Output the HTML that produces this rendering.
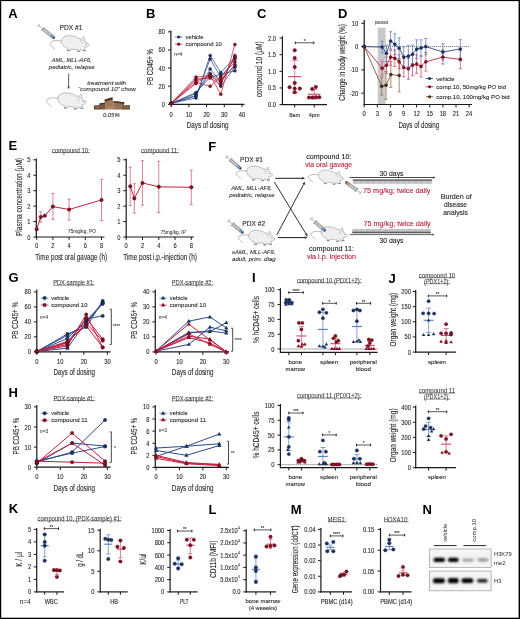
<!DOCTYPE html>
<html><head><meta charset="utf-8"><style>
html,body{margin:0;padding:0;background:#fff;}
svg{display:block;will-change:transform;}
text{font-family:'Liberation Sans', sans-serif;}
</style></head><body>
<svg width="520" height="619" viewBox="0 0 520 619">
<defs>
<pattern id="vh" width="1.2" height="4" patternUnits="userSpaceOnUse"><rect width="0.5" height="4" fill="#555"/></pattern>
<radialGradient id="bandg" cx="0.5" cy="0.5" r="0.5"><stop offset="0" stop-color="#000"/><stop offset="0.55" stop-color="#111"/><stop offset="1" stop-color="#000" stop-opacity="0"/></radialGradient>
<linearGradient id="blotbg" x1="0" y1="0" x2="0" y2="1"><stop offset="0" stop-color="#f8f8f8"/><stop offset="0.5" stop-color="#f0f0f0"/><stop offset="1" stop-color="#f8f8f8"/></linearGradient>
<filter id="blur1" x="-30%" y="-60%" width="160%" height="220%"><feGaussianBlur stdDeviation="1.0"/></filter>
<filter id="blur2" x="-10%" y="-10%" width="120%" height="120%"><feGaussianBlur stdDeviation="0.5"/></filter>
</defs>
<rect width="520" height="619" fill="#fff"/>
<rect x="0" y="0" width="520" height="1.1" fill="#000"/>
<rect x="0" y="0" width="1.2" height="619" fill="#000"/>
<rect x="518.6" y="0" width="1.4" height="619" fill="#000"/>
<rect x="0" y="617.7" width="520" height="1.3" fill="#000"/>
<text x="8.3" y="17.8" font-size="13" text-anchor="start" fill="#000" font-weight="bold" dominant-baseline="alphabetic">A</text>
<text x="146" y="17.8" font-size="13" text-anchor="start" fill="#000" font-weight="bold" dominant-baseline="alphabetic">B</text>
<text x="257" y="17.8" font-size="13" text-anchor="start" fill="#000" font-weight="bold" dominant-baseline="alphabetic">C</text>
<text x="338" y="17.8" font-size="13" text-anchor="start" fill="#000" font-weight="bold" dominant-baseline="alphabetic">D</text>
<text x="8.5" y="150.4" font-size="13" text-anchor="start" fill="#000" font-weight="bold" dominant-baseline="alphabetic">E</text>
<text x="208.3" y="150.6" font-size="13" text-anchor="start" fill="#000" font-weight="bold" dominant-baseline="alphabetic">F</text>
<text x="8.5" y="282" font-size="13" text-anchor="start" fill="#000" font-weight="bold" dominant-baseline="alphabetic">G</text>
<text x="252" y="281.7" font-size="13" text-anchor="start" fill="#000" font-weight="bold" dominant-baseline="alphabetic">I</text>
<text x="388.6" y="282.9" font-size="13" text-anchor="start" fill="#000" font-weight="bold" dominant-baseline="alphabetic">J</text>
<text x="8.5" y="397" font-size="13" text-anchor="start" fill="#000" font-weight="bold" dominant-baseline="alphabetic">H</text>
<text x="8.7" y="513.3" font-size="13" text-anchor="start" fill="#000" font-weight="bold" dominant-baseline="alphabetic">K</text>
<text x="208.5" y="513.6" font-size="13" text-anchor="start" fill="#000" font-weight="bold" dominant-baseline="alphabetic">L</text>
<text x="290.8" y="513.5" font-size="13" text-anchor="start" fill="#000" font-weight="bold" dominant-baseline="alphabetic">M</text>
<text x="422.4" y="513.5" font-size="13" text-anchor="start" fill="#000" font-weight="bold" dominant-baseline="alphabetic">N</text>
<g transform="translate(38.75 25.5) rotate(39.14)"><line x1="0" y1="-1.8" x2="0" y2="1.8" stroke="#c0c0c0" stroke-width="1.3"/><line x1="0" y1="0" x2="5.52" y2="0" stroke="#b0b0b0" stroke-width="0.9"/><line x1="5.52" y1="-2.6" x2="5.52" y2="2.6" stroke="#9a9a9a" stroke-width="0.9"/><rect x="5.72" y="-1.5" width="13.49" height="3" fill="#b4b4b4" stroke="#6e6e6e" stroke-width="0.45"/><line x1="5.72" y1="0" x2="19.21" y2="0" stroke="#e2e2e2" stroke-width="0.6"/><rect x="15.43" y="-1.05" width="3.78" height="2.1" fill="#5096da"/><rect x="19.21" y="-1.2" width="1.23" height="2.4" rx="0.6" fill="#1e1e1e"/></g>
<path d="M61.2,40.77 C61.8,37.29 64.78,35.6 68.27,35.6 C72.25,35.6 75.73,36.6 78.22,38.29 C81.2,38.78 85.68,41.27 89.16,44.75 C88.46,46.25 86.17,47.04 84.68,47.34 L84.58,49.33 L85.98,50.53 L82.99,50.72 L80.5,49.43 L79.81,51.02 L77.22,51.52 L77.52,49.33 C74.73,49.53 71.75,49.33 70.25,48.93 L69.96,50.53 L67.27,50.63 L67.57,48.34 C64.28,47.24 60.8,44.75 61.2,40.77 Z" fill="#efefef" stroke="#858585" stroke-width="0.5"/>
<path d="M81.5,39.38 L83.79,36.7 L84.98,40.48" fill="#efefef" stroke="#858585" stroke-width="0.45"/>
<path d="M80.8,40.18 C80.4,42.07 81.8,43.56 82.99,43.76" fill="none" stroke="#9a9a9a" stroke-width="0.4"/>
<circle cx="85.98" cy="43.96" r="0.5" fill="#555" stroke="none" stroke-width="0.5"/>
<path d="M67.27,50.63 L69.96,50.53" fill="none" stroke="#666" stroke-width="0.7"/>
<path d="M77.22,51.52 L79.81,51.02" fill="none" stroke="#666" stroke-width="0.7"/>
<path d="M82.99,50.72 L85.98,50.53" fill="none" stroke="#666" stroke-width="0.7"/>
<path d="M61.3,40.97 C57.32,39.98 52.34,40.38 50.35,42.57 C49.36,44.26 51.35,46.25 55.03,49.03" fill="none" stroke="#858585" stroke-width="0.55"/>
<text x="71" y="27.8" font-size="6.4" text-anchor="middle" fill="#262626" dominant-baseline="central" textLength="22.9" lengthAdjust="spacingAndGlyphs" stroke="#262626" stroke-width="0.1">PDX #1</text>
<text x="71.7" y="59.4" font-size="6.2" text-anchor="middle" fill="#262626" font-style="italic" dominant-baseline="central" textLength="40" lengthAdjust="spacingAndGlyphs" stroke="#262626" stroke-width="0.07">AML, MLL-AF6,</text>
<text x="71.7" y="66.8" font-size="6.2" text-anchor="middle" fill="#262626" font-style="italic" dominant-baseline="central" textLength="45.8" lengthAdjust="spacingAndGlyphs" stroke="#262626" stroke-width="0.07">pediatric, relapse</text>
<line x1="68.6" y1="73.5" x2="68.6" y2="86.4" stroke="#1a1a1a" stroke-width="0.7"/>
<polygon points="68.6,89 67.51,86.4 69.69,86.4" fill="#1a1a1a"/>
<path d="M57.9,98.1 C58.51,94.53 61.57,92.8 65.14,92.8 C69.22,92.8 72.79,93.82 75.34,95.55 C78.4,96.06 82.99,98.61 86.56,102.18 C85.85,103.71 83.5,104.53 81.97,104.83 L81.87,106.87 L83.3,108.1 L80.24,108.3 L77.69,106.97 L76.97,108.61 L74.32,109.12 L74.63,106.87 C71.77,107.08 68.71,106.87 67.18,106.46 L66.87,108.1 L64.12,108.2 L64.43,105.85 C61.06,104.73 57.49,102.18 57.9,98.1 Z" fill="#efefef" stroke="#858585" stroke-width="0.5"/>
<path d="M78.71,96.67 L81.05,93.92 L82.28,97.79" fill="#efefef" stroke="#858585" stroke-width="0.45"/>
<path d="M77.99,97.49 C77.58,99.43 79.01,100.96 80.24,101.16" fill="none" stroke="#9a9a9a" stroke-width="0.4"/>
<circle cx="83.3" cy="101.36" r="0.51" fill="#555" stroke="none" stroke-width="0.5"/>
<path d="M64.12,108.2 L66.87,108.1" fill="none" stroke="#666" stroke-width="0.7"/>
<path d="M74.32,109.12 L76.97,108.61" fill="none" stroke="#666" stroke-width="0.7"/>
<path d="M80.24,108.3 L83.3,108.1" fill="none" stroke="#666" stroke-width="0.7"/>
<path d="M58,98.3 C53.92,97.28 48.82,97.69 46.78,99.94 C45.76,101.67 47.8,103.71 51.57,106.57" fill="none" stroke="#858585" stroke-width="0.55"/>
<text x="106.7" y="82.5" font-size="6" text-anchor="middle" fill="#262626" font-style="italic" dominant-baseline="central" textLength="38.7" lengthAdjust="spacingAndGlyphs" stroke="#262626" stroke-width="0.07">treatment with</text>
<text x="106.9" y="89.4" font-size="6" text-anchor="middle" fill="#262626" font-style="italic" dominant-baseline="central" textLength="57.8" lengthAdjust="spacingAndGlyphs" stroke="#262626" stroke-width="0.07">“compound 10” chow</text>
<path d="M93.9,105.4 L100.1,105.0 L100.3,109.4 L93.9,109.4 Z" fill="#5e4028" stroke="none" stroke-width="0.6"/>
<path d="M94.8,106.3 L99.4,106.1 L99.5,108.6 L94.8,108.6 Z" fill="#8a6a4a" stroke="none" stroke-width="0.6"/>
<path d="M99.5,103.6 L105.5,102.4 L105.9,109.4 L99.7,109.4 Z" fill="#7a5a3c" stroke="none" stroke-width="0.6"/>
<path d="M99.5,103.6 L105.5,102.4 L105.6,103.8 L99.6,104.9 Z" fill="#4e3220" stroke="none" stroke-width="0.6"/>
<path d="M113.3,100.9 L124.3,102.2 L123.8,109.4 L113.6,109.4 Z" fill="#927254" stroke="none" stroke-width="0.6"/>
<path d="M113.3,100.9 L124.3,102.2 L124.2,103.9 L113.4,102.6 Z" fill="#553820" stroke="none" stroke-width="0.6"/>
<path d="M105.9,105.2 L114.5,104.6 L114.8,109.4 L105.9,109.4 Z" fill="#a88868" stroke="none" stroke-width="0.6"/>
<path d="M104.5,99.8 L112.4,97.3 L113.5,105.6 L106.0,107.6 Z" fill="#9a7a5a" stroke="none" stroke-width="0.6"/>
<path d="M104.5,99.8 L112.4,97.3 L112.7,99.3 L104.9,101.7 Z" fill="#4a3018" stroke="none" stroke-width="0.6"/>
<path d="M122.6,105.4 L129.7,105.0 L129.9,109.4 L122.6,109.4 Z" fill="#604228" stroke="none" stroke-width="0.6"/>
<path d="M123.4,106.3 L129.0,106.1 L129.1,108.6 L123.4,108.6 Z" fill="#866646" stroke="none" stroke-width="0.6"/>
<text x="111.3" y="114.2" font-size="6.2" text-anchor="middle" fill="#262626" font-style="italic" dominant-baseline="central" textLength="16.7" lengthAdjust="spacingAndGlyphs" stroke="#262626" stroke-width="0.07">0.05%</text>
<line x1="170.9" y1="30.5" x2="170.9" y2="104.8" stroke="#1a1a1a" stroke-width="1.2"/>
<line x1="168" y1="104.3" x2="170.9" y2="104.3" stroke="#1a1a1a" stroke-width="1"/>
<text x="165" y="104.3" font-size="6.8" text-anchor="end" fill="#262626" dominant-baseline="central" textLength="3.21" lengthAdjust="spacingAndGlyphs" stroke="#262626" stroke-width="0.1">0</text>
<line x1="168" y1="86.18" x2="170.9" y2="86.18" stroke="#1a1a1a" stroke-width="1"/>
<text x="165" y="86.18" font-size="6.8" text-anchor="end" fill="#262626" dominant-baseline="central" textLength="6.43" lengthAdjust="spacingAndGlyphs" stroke="#262626" stroke-width="0.1">20</text>
<line x1="168" y1="68.06" x2="170.9" y2="68.06" stroke="#1a1a1a" stroke-width="1"/>
<text x="165" y="68.06" font-size="6.8" text-anchor="end" fill="#262626" dominant-baseline="central" textLength="6.43" lengthAdjust="spacingAndGlyphs" stroke="#262626" stroke-width="0.1">40</text>
<line x1="168" y1="49.94" x2="170.9" y2="49.94" stroke="#1a1a1a" stroke-width="1"/>
<text x="165" y="49.94" font-size="6.8" text-anchor="end" fill="#262626" dominant-baseline="central" textLength="6.43" lengthAdjust="spacingAndGlyphs" stroke="#262626" stroke-width="0.1">60</text>
<line x1="168" y1="31.82" x2="170.9" y2="31.82" stroke="#1a1a1a" stroke-width="1"/>
<text x="165" y="31.82" font-size="6.8" text-anchor="end" fill="#262626" dominant-baseline="central" textLength="6.43" lengthAdjust="spacingAndGlyphs" stroke="#262626" stroke-width="0.1">80</text>
<line x1="170.35" y1="104.3" x2="244.5" y2="104.3" stroke="#1a1a1a" stroke-width="1.2"/>
<line x1="171.2" y1="104.3" x2="171.2" y2="107.2" stroke="#1a1a1a" stroke-width="1"/>
<text x="171.2" y="114.1" font-size="6.8" text-anchor="middle" fill="#262626" dominant-baseline="central" textLength="3.21" lengthAdjust="spacingAndGlyphs" stroke="#262626" stroke-width="0.1">0</text>
<line x1="188.9" y1="104.3" x2="188.9" y2="107.2" stroke="#1a1a1a" stroke-width="1"/>
<text x="188.9" y="114.1" font-size="6.8" text-anchor="middle" fill="#262626" dominant-baseline="central" textLength="6.43" lengthAdjust="spacingAndGlyphs" stroke="#262626" stroke-width="0.1">10</text>
<line x1="206.6" y1="104.3" x2="206.6" y2="107.2" stroke="#1a1a1a" stroke-width="1"/>
<text x="206.6" y="114.1" font-size="6.8" text-anchor="middle" fill="#262626" dominant-baseline="central" textLength="6.43" lengthAdjust="spacingAndGlyphs" stroke="#262626" stroke-width="0.1">20</text>
<line x1="224.3" y1="104.3" x2="224.3" y2="107.2" stroke="#1a1a1a" stroke-width="1"/>
<text x="224.3" y="114.1" font-size="6.8" text-anchor="middle" fill="#262626" dominant-baseline="central" textLength="6.43" lengthAdjust="spacingAndGlyphs" stroke="#262626" stroke-width="0.1">30</text>
<line x1="242" y1="104.3" x2="242" y2="107.2" stroke="#1a1a1a" stroke-width="1"/>
<text x="242" y="114.1" font-size="6.8" text-anchor="middle" fill="#262626" dominant-baseline="central" textLength="6.43" lengthAdjust="spacingAndGlyphs" stroke="#262626" stroke-width="0.1">40</text>
<text x="207.6" y="125.2" font-size="9.3" text-anchor="middle" fill="#262626" dominant-baseline="central" textLength="41.6" lengthAdjust="spacingAndGlyphs" stroke="#262626" stroke-width="0.1">Days of dosing</text>
<text x="150" y="67" font-size="9.3" text-anchor="middle" fill="#262626" dominant-baseline="central" textLength="36" lengthAdjust="spacingAndGlyphs" transform="rotate(-90 150 67)" stroke="#262626" stroke-width="0.1">PB CD45+ %</text>
<polyline points="171.2,103.39 195.98,97.96 210.14,55.38 220.76,72.59 234.92,57.19" fill="none" stroke="#2c4a8c" stroke-width="0.75" stroke-linejoin="round"/>
<polyline points="171.2,103.39 195.98,96.15 210.14,59 220.76,77.12 234.92,59" fill="none" stroke="#2c4a8c" stroke-width="0.75" stroke-linejoin="round"/>
<polyline points="171.2,103.39 195.98,95.24 210.14,68.97 220.76,81.65 234.92,64.44" fill="none" stroke="#2c4a8c" stroke-width="0.75" stroke-linejoin="round"/>
<polyline points="171.2,103.39 195.98,93.43 210.14,73.5 220.76,86.18 234.92,67.15" fill="none" stroke="#2c4a8c" stroke-width="0.75" stroke-linejoin="round"/>
<polyline points="171.2,103.39 195.98,92.52 210.14,77.12 220.76,74.4 234.92,70.78" fill="none" stroke="#2c4a8c" stroke-width="0.75" stroke-linejoin="round"/>
<polyline points="171.2,103.39 195.98,77.12 210.14,75.31 220.76,94.33 234.92,44.5" fill="none" stroke="#c21f40" stroke-width="0.75" stroke-linejoin="round"/>
<polyline points="171.2,103.39 195.98,78.93 210.14,78.03 220.76,84.37 234.92,55.38" fill="none" stroke="#c21f40" stroke-width="0.75" stroke-linejoin="round"/>
<polyline points="171.2,103.39 195.98,80.74 210.14,76.21 220.76,81.65 234.92,57.19" fill="none" stroke="#c21f40" stroke-width="0.75" stroke-linejoin="round"/>
<polyline points="171.2,103.39 195.98,82.56 210.14,86.18 220.76,77.12 234.92,61.72" fill="none" stroke="#c21f40" stroke-width="0.75" stroke-linejoin="round"/>
<polyline points="171.2,103.39 195.98,83.46 210.14,74.4 220.76,79.84 234.92,66.25" fill="none" stroke="#c21f40" stroke-width="0.75" stroke-linejoin="round"/>
<circle cx="171.2" cy="103.39" r="1.5" fill="#1d3566" stroke="#0e1a38" stroke-width="0.4"/>
<circle cx="195.98" cy="97.96" r="1.5" fill="#1d3566" stroke="#0e1a38" stroke-width="0.4"/>
<circle cx="210.14" cy="55.38" r="1.5" fill="#1d3566" stroke="#0e1a38" stroke-width="0.4"/>
<circle cx="220.76" cy="72.59" r="1.5" fill="#1d3566" stroke="#0e1a38" stroke-width="0.4"/>
<circle cx="234.92" cy="57.19" r="1.5" fill="#1d3566" stroke="#0e1a38" stroke-width="0.4"/>
<circle cx="171.2" cy="103.39" r="1.5" fill="#1d3566" stroke="#0e1a38" stroke-width="0.4"/>
<circle cx="195.98" cy="96.15" r="1.5" fill="#1d3566" stroke="#0e1a38" stroke-width="0.4"/>
<circle cx="210.14" cy="59" r="1.5" fill="#1d3566" stroke="#0e1a38" stroke-width="0.4"/>
<circle cx="220.76" cy="77.12" r="1.5" fill="#1d3566" stroke="#0e1a38" stroke-width="0.4"/>
<circle cx="234.92" cy="59" r="1.5" fill="#1d3566" stroke="#0e1a38" stroke-width="0.4"/>
<circle cx="171.2" cy="103.39" r="1.5" fill="#1d3566" stroke="#0e1a38" stroke-width="0.4"/>
<circle cx="195.98" cy="95.24" r="1.5" fill="#1d3566" stroke="#0e1a38" stroke-width="0.4"/>
<circle cx="210.14" cy="68.97" r="1.5" fill="#1d3566" stroke="#0e1a38" stroke-width="0.4"/>
<circle cx="220.76" cy="81.65" r="1.5" fill="#1d3566" stroke="#0e1a38" stroke-width="0.4"/>
<circle cx="234.92" cy="64.44" r="1.5" fill="#1d3566" stroke="#0e1a38" stroke-width="0.4"/>
<circle cx="171.2" cy="103.39" r="1.5" fill="#1d3566" stroke="#0e1a38" stroke-width="0.4"/>
<circle cx="195.98" cy="93.43" r="1.5" fill="#1d3566" stroke="#0e1a38" stroke-width="0.4"/>
<circle cx="210.14" cy="73.5" r="1.5" fill="#1d3566" stroke="#0e1a38" stroke-width="0.4"/>
<circle cx="220.76" cy="86.18" r="1.5" fill="#1d3566" stroke="#0e1a38" stroke-width="0.4"/>
<circle cx="234.92" cy="67.15" r="1.5" fill="#1d3566" stroke="#0e1a38" stroke-width="0.4"/>
<circle cx="171.2" cy="103.39" r="1.5" fill="#1d3566" stroke="#0e1a38" stroke-width="0.4"/>
<circle cx="195.98" cy="92.52" r="1.5" fill="#1d3566" stroke="#0e1a38" stroke-width="0.4"/>
<circle cx="210.14" cy="77.12" r="1.5" fill="#1d3566" stroke="#0e1a38" stroke-width="0.4"/>
<circle cx="220.76" cy="74.4" r="1.5" fill="#1d3566" stroke="#0e1a38" stroke-width="0.4"/>
<circle cx="234.92" cy="70.78" r="1.5" fill="#1d3566" stroke="#0e1a38" stroke-width="0.4"/>
<circle cx="171.2" cy="103.39" r="1.5" fill="#8a1024" stroke="#4a0610" stroke-width="0.4"/>
<circle cx="195.98" cy="77.12" r="1.5" fill="#8a1024" stroke="#4a0610" stroke-width="0.4"/>
<circle cx="210.14" cy="75.31" r="1.5" fill="#8a1024" stroke="#4a0610" stroke-width="0.4"/>
<circle cx="220.76" cy="94.33" r="1.5" fill="#8a1024" stroke="#4a0610" stroke-width="0.4"/>
<circle cx="234.92" cy="44.5" r="1.5" fill="#8a1024" stroke="#4a0610" stroke-width="0.4"/>
<circle cx="171.2" cy="103.39" r="1.5" fill="#8a1024" stroke="#4a0610" stroke-width="0.4"/>
<circle cx="195.98" cy="78.93" r="1.5" fill="#8a1024" stroke="#4a0610" stroke-width="0.4"/>
<circle cx="210.14" cy="78.03" r="1.5" fill="#8a1024" stroke="#4a0610" stroke-width="0.4"/>
<circle cx="220.76" cy="84.37" r="1.5" fill="#8a1024" stroke="#4a0610" stroke-width="0.4"/>
<circle cx="234.92" cy="55.38" r="1.5" fill="#8a1024" stroke="#4a0610" stroke-width="0.4"/>
<circle cx="171.2" cy="103.39" r="1.5" fill="#8a1024" stroke="#4a0610" stroke-width="0.4"/>
<circle cx="195.98" cy="80.74" r="1.5" fill="#8a1024" stroke="#4a0610" stroke-width="0.4"/>
<circle cx="210.14" cy="76.21" r="1.5" fill="#8a1024" stroke="#4a0610" stroke-width="0.4"/>
<circle cx="220.76" cy="81.65" r="1.5" fill="#8a1024" stroke="#4a0610" stroke-width="0.4"/>
<circle cx="234.92" cy="57.19" r="1.5" fill="#8a1024" stroke="#4a0610" stroke-width="0.4"/>
<circle cx="171.2" cy="103.39" r="1.5" fill="#8a1024" stroke="#4a0610" stroke-width="0.4"/>
<circle cx="195.98" cy="82.56" r="1.5" fill="#8a1024" stroke="#4a0610" stroke-width="0.4"/>
<circle cx="210.14" cy="86.18" r="1.5" fill="#8a1024" stroke="#4a0610" stroke-width="0.4"/>
<circle cx="220.76" cy="77.12" r="1.5" fill="#8a1024" stroke="#4a0610" stroke-width="0.4"/>
<circle cx="234.92" cy="61.72" r="1.5" fill="#8a1024" stroke="#4a0610" stroke-width="0.4"/>
<circle cx="171.2" cy="103.39" r="1.5" fill="#8a1024" stroke="#4a0610" stroke-width="0.4"/>
<circle cx="195.98" cy="83.46" r="1.5" fill="#8a1024" stroke="#4a0610" stroke-width="0.4"/>
<circle cx="210.14" cy="74.4" r="1.5" fill="#8a1024" stroke="#4a0610" stroke-width="0.4"/>
<circle cx="220.76" cy="79.84" r="1.5" fill="#8a1024" stroke="#4a0610" stroke-width="0.4"/>
<circle cx="234.92" cy="66.25" r="1.5" fill="#8a1024" stroke="#4a0610" stroke-width="0.4"/>
<line x1="175" y1="37" x2="182.4" y2="37" stroke="#5f80c2" stroke-width="0.9"/>
<circle cx="178.7" cy="37" r="1.6" fill="#1d3566" stroke="none" stroke-width="0.5"/>
<line x1="175" y1="44.2" x2="182.4" y2="44.2" stroke="#cc5270" stroke-width="0.9"/>
<circle cx="178.7" cy="44.2" r="1.6" fill="#8a1024" stroke="none" stroke-width="0.5"/>
<text x="185.6" y="37" font-size="6" text-anchor="start" fill="#262626" dominant-baseline="central" textLength="17.8" lengthAdjust="spacingAndGlyphs" stroke="#262626" stroke-width="0.1">vehicle</text>
<text x="185.6" y="44.2" font-size="6" text-anchor="start" fill="#262626" dominant-baseline="central" textLength="36.2" lengthAdjust="spacingAndGlyphs" stroke="#262626" stroke-width="0.1">compound 10</text>
<text x="174.3" y="54.6" font-size="4.6" text-anchor="start" fill="#444" dominant-baseline="central" textLength="8" lengthAdjust="spacingAndGlyphs" stroke="#444" stroke-width="0.1">n=4</text>
<line x1="282.4" y1="36.2" x2="282.4" y2="105.1" stroke="#1a1a1a" stroke-width="1.2"/>
<line x1="279.5" y1="104.6" x2="282.4" y2="104.6" stroke="#1a1a1a" stroke-width="1"/>
<text x="276" y="104.6" font-size="6.8" text-anchor="end" fill="#262626" dominant-baseline="central" textLength="8.04" lengthAdjust="spacingAndGlyphs" stroke="#262626" stroke-width="0.1">0.0</text>
<line x1="279.5" y1="87.95" x2="282.4" y2="87.95" stroke="#1a1a1a" stroke-width="1"/>
<text x="276" y="87.95" font-size="6.8" text-anchor="end" fill="#262626" dominant-baseline="central" textLength="8.04" lengthAdjust="spacingAndGlyphs" stroke="#262626" stroke-width="0.1">0.5</text>
<line x1="279.5" y1="71.3" x2="282.4" y2="71.3" stroke="#1a1a1a" stroke-width="1"/>
<text x="276" y="71.3" font-size="6.8" text-anchor="end" fill="#262626" dominant-baseline="central" textLength="8.04" lengthAdjust="spacingAndGlyphs" stroke="#262626" stroke-width="0.1">1.0</text>
<line x1="279.5" y1="54.65" x2="282.4" y2="54.65" stroke="#1a1a1a" stroke-width="1"/>
<text x="276" y="54.65" font-size="6.8" text-anchor="end" fill="#262626" dominant-baseline="central" textLength="8.04" lengthAdjust="spacingAndGlyphs" stroke="#262626" stroke-width="0.1">1.5</text>
<line x1="279.5" y1="38" x2="282.4" y2="38" stroke="#1a1a1a" stroke-width="1"/>
<text x="276" y="38" font-size="6.8" text-anchor="end" fill="#262626" dominant-baseline="central" textLength="8.04" lengthAdjust="spacingAndGlyphs" stroke="#262626" stroke-width="0.1">2.0</text>
<line x1="281.85" y1="104.6" x2="327" y2="104.6" stroke="#1a1a1a" stroke-width="1.2"/>
<line x1="294.7" y1="104.6" x2="294.7" y2="107.5" stroke="#1a1a1a" stroke-width="1"/>
<line x1="314.2" y1="104.6" x2="314.2" y2="107.5" stroke="#1a1a1a" stroke-width="1"/>
<text x="294.7" y="114.3" font-size="6.2" text-anchor="middle" fill="#262626" dominant-baseline="central" textLength="10.85" lengthAdjust="spacingAndGlyphs" stroke="#262626" stroke-width="0.1">8am</text>
<text x="314.2" y="114.3" font-size="6.2" text-anchor="middle" fill="#262626" dominant-baseline="central" textLength="10.85" lengthAdjust="spacingAndGlyphs" stroke="#262626" stroke-width="0.1">4pm</text>
<text x="259.2" y="69.2" font-size="9.3" text-anchor="middle" fill="#262626" dominant-baseline="central" textLength="56" lengthAdjust="spacingAndGlyphs" transform="rotate(-90 259.2 69.2)" stroke="#262626" stroke-width="0.1">compound 10 (μM)</text>
<line x1="294.7" y1="60.31" x2="294.7" y2="92.94" stroke="#cc5270" stroke-width="0.7"/>
<line x1="291.5" y1="60.31" x2="297.9" y2="60.31" stroke="#cc5270" stroke-width="0.7"/>
<line x1="291.5" y1="92.94" x2="297.9" y2="92.94" stroke="#cc5270" stroke-width="0.7"/>
<line x1="288" y1="76.63" x2="301.2" y2="76.63" stroke="#cc5270" stroke-width="1.2"/>
<circle cx="294.7" cy="50.32" r="1.75" fill="#8a1024" stroke="#3a0008" stroke-width="0.4"/>
<circle cx="294.7" cy="57.98" r="1.75" fill="#8a1024" stroke="#3a0008" stroke-width="0.4"/>
<circle cx="294.7" cy="66.97" r="1.75" fill="#8a1024" stroke="#3a0008" stroke-width="0.4"/>
<circle cx="294.7" cy="82.95" r="1.75" fill="#8a1024" stroke="#3a0008" stroke-width="0.4"/>
<circle cx="289.6" cy="87.28" r="1.75" fill="#8a1024" stroke="#3a0008" stroke-width="0.4"/>
<circle cx="294.7" cy="88.62" r="1.75" fill="#8a1024" stroke="#3a0008" stroke-width="0.4"/>
<circle cx="299.8" cy="88.62" r="1.75" fill="#8a1024" stroke="#3a0008" stroke-width="0.4"/>
<circle cx="294.7" cy="92.28" r="1.75" fill="#8a1024" stroke="#3a0008" stroke-width="0.4"/>
<line x1="314.2" y1="89.61" x2="314.2" y2="98.94" stroke="#cc5270" stroke-width="0.7"/>
<line x1="311" y1="89.61" x2="317.4" y2="89.61" stroke="#cc5270" stroke-width="0.7"/>
<line x1="311" y1="98.94" x2="317.4" y2="98.94" stroke="#cc5270" stroke-width="0.7"/>
<line x1="308" y1="94.28" x2="320.4" y2="94.28" stroke="#cc5270" stroke-width="1.2"/>
<circle cx="315.8" cy="86.95" r="1.75" fill="#8a1024" stroke="#3a0008" stroke-width="0.4"/>
<circle cx="312.2" cy="88.95" r="1.75" fill="#8a1024" stroke="#3a0008" stroke-width="0.4"/>
<circle cx="309" cy="97.61" r="1.75" fill="#8a1024" stroke="#3a0008" stroke-width="0.4"/>
<circle cx="312.4" cy="97.61" r="1.75" fill="#8a1024" stroke="#3a0008" stroke-width="0.4"/>
<circle cx="316" cy="97.27" r="1.75" fill="#8a1024" stroke="#3a0008" stroke-width="0.4"/>
<circle cx="319.3" cy="97.27" r="1.75" fill="#8a1024" stroke="#3a0008" stroke-width="0.4"/>
<line x1="295.3" y1="42.8" x2="313.8" y2="42.8" stroke="#444" stroke-width="0.9"/>
<line x1="295.3" y1="41.5" x2="295.3" y2="44.1" stroke="#222" stroke-width="1"/>
<line x1="313.8" y1="41.5" x2="313.8" y2="44.1" stroke="#222" stroke-width="1"/>
<text x="304.55" y="41.5" font-size="4.6" text-anchor="middle" fill="#333" dominant-baseline="central" stroke="#333" stroke-width="0.1">*</text>
<rect x="377.7" y="27.7" width="7.9" height="76.8" fill="#c9c9cc"/>
<text x="381.6" y="22.9" font-size="4.6" text-anchor="middle" fill="#555" dominant-baseline="central" textLength="13.5" lengthAdjust="spacingAndGlyphs" stroke="#555" stroke-width="0.1">paused</text>
<line x1="364.2" y1="20" x2="364.2" y2="105" stroke="#1a1a1a" stroke-width="1.2"/>
<line x1="361.3" y1="23.3" x2="364.2" y2="23.3" stroke="#1a1a1a" stroke-width="1"/>
<text x="358.3" y="23.3" font-size="6.8" text-anchor="end" fill="#262626" dominant-baseline="central" textLength="6.43" lengthAdjust="spacingAndGlyphs" stroke="#262626" stroke-width="0.1">10</text>
<line x1="361.3" y1="46.6" x2="364.2" y2="46.6" stroke="#1a1a1a" stroke-width="1"/>
<text x="358.3" y="46.6" font-size="6.8" text-anchor="end" fill="#262626" dominant-baseline="central" textLength="3.21" lengthAdjust="spacingAndGlyphs" stroke="#262626" stroke-width="0.1">0</text>
<line x1="361.3" y1="69.9" x2="364.2" y2="69.9" stroke="#1a1a1a" stroke-width="1"/>
<text x="358.3" y="69.9" font-size="6.8" text-anchor="end" fill="#262626" dominant-baseline="central" textLength="8.35" lengthAdjust="spacingAndGlyphs" stroke="#262626" stroke-width="0.1">-10</text>
<line x1="361.3" y1="93.2" x2="364.2" y2="93.2" stroke="#1a1a1a" stroke-width="1"/>
<text x="358.3" y="93.2" font-size="6.8" text-anchor="end" fill="#262626" dominant-baseline="central" textLength="8.35" lengthAdjust="spacingAndGlyphs" stroke="#262626" stroke-width="0.1">-20</text>
<line x1="363.65" y1="104.5" x2="472" y2="104.5" stroke="#1a1a1a" stroke-width="1.2"/>
<line x1="364.2" y1="104.5" x2="364.2" y2="107.4" stroke="#1a1a1a" stroke-width="1"/>
<text x="364.2" y="113.8" font-size="6.8" text-anchor="middle" fill="#262626" dominant-baseline="central" textLength="3.21" lengthAdjust="spacingAndGlyphs" stroke="#262626" stroke-width="0.1">0</text>
<line x1="377.31" y1="104.5" x2="377.31" y2="107.4" stroke="#1a1a1a" stroke-width="1"/>
<text x="377.31" y="113.8" font-size="6.8" text-anchor="middle" fill="#262626" dominant-baseline="central" textLength="3.21" lengthAdjust="spacingAndGlyphs" stroke="#262626" stroke-width="0.1">3</text>
<line x1="390.42" y1="104.5" x2="390.42" y2="107.4" stroke="#1a1a1a" stroke-width="1"/>
<text x="390.42" y="113.8" font-size="6.8" text-anchor="middle" fill="#262626" dominant-baseline="central" textLength="3.21" lengthAdjust="spacingAndGlyphs" stroke="#262626" stroke-width="0.1">6</text>
<line x1="403.53" y1="104.5" x2="403.53" y2="107.4" stroke="#1a1a1a" stroke-width="1"/>
<text x="403.53" y="113.8" font-size="6.8" text-anchor="middle" fill="#262626" dominant-baseline="central" textLength="3.21" lengthAdjust="spacingAndGlyphs" stroke="#262626" stroke-width="0.1">9</text>
<line x1="416.64" y1="104.5" x2="416.64" y2="107.4" stroke="#1a1a1a" stroke-width="1"/>
<text x="416.64" y="113.8" font-size="6.8" text-anchor="middle" fill="#262626" dominant-baseline="central" textLength="6.43" lengthAdjust="spacingAndGlyphs" stroke="#262626" stroke-width="0.1">12</text>
<line x1="429.75" y1="104.5" x2="429.75" y2="107.4" stroke="#1a1a1a" stroke-width="1"/>
<text x="429.75" y="113.8" font-size="6.8" text-anchor="middle" fill="#262626" dominant-baseline="central" textLength="6.43" lengthAdjust="spacingAndGlyphs" stroke="#262626" stroke-width="0.1">15</text>
<line x1="442.86" y1="104.5" x2="442.86" y2="107.4" stroke="#1a1a1a" stroke-width="1"/>
<text x="442.86" y="113.8" font-size="6.8" text-anchor="middle" fill="#262626" dominant-baseline="central" textLength="6.43" lengthAdjust="spacingAndGlyphs" stroke="#262626" stroke-width="0.1">18</text>
<line x1="455.97" y1="104.5" x2="455.97" y2="107.4" stroke="#1a1a1a" stroke-width="1"/>
<text x="455.97" y="113.8" font-size="6.8" text-anchor="middle" fill="#262626" dominant-baseline="central" textLength="6.43" lengthAdjust="spacingAndGlyphs" stroke="#262626" stroke-width="0.1">21</text>
<line x1="469.08" y1="104.5" x2="469.08" y2="107.4" stroke="#1a1a1a" stroke-width="1"/>
<text x="469.08" y="113.8" font-size="6.8" text-anchor="middle" fill="#262626" dominant-baseline="central" textLength="6.43" lengthAdjust="spacingAndGlyphs" stroke="#262626" stroke-width="0.1">24</text>
<text x="418.8" y="125.4" font-size="9.3" text-anchor="middle" fill="#262626" dominant-baseline="central" textLength="40.8" lengthAdjust="spacingAndGlyphs" stroke="#262626" stroke-width="0.1">Days of dosing</text>
<text x="341.9" y="62.5" font-size="9.3" text-anchor="middle" fill="#262626" dominant-baseline="central" textLength="76.7" lengthAdjust="spacingAndGlyphs" transform="rotate(-90 341.9 62.5)" stroke="#262626" stroke-width="0.1">Change in body weight (%)</text>
<line x1="364.2" y1="46.6" x2="469.6" y2="46.6" stroke="#222" stroke-width="0.7" stroke-dasharray="1,1"/>
<line x1="381.68" y1="77.36" x2="381.68" y2="95.06" stroke="#8f7048" stroke-width="0.8"/>
<line x1="380.08" y1="77.36" x2="383.28" y2="77.36" stroke="#8f7048" stroke-width="0.8"/>
<line x1="380.08" y1="95.06" x2="383.28" y2="95.06" stroke="#8f7048" stroke-width="0.8"/>
<line x1="386.05" y1="71.3" x2="386.05" y2="99.26" stroke="#8f7048" stroke-width="0.8"/>
<line x1="384.45" y1="71.3" x2="387.65" y2="71.3" stroke="#8f7048" stroke-width="0.8"/>
<line x1="384.45" y1="99.26" x2="387.65" y2="99.26" stroke="#8f7048" stroke-width="0.8"/>
<line x1="390.86" y1="61.75" x2="390.86" y2="87.38" stroke="#8f7048" stroke-width="0.8"/>
<line x1="389.26" y1="61.75" x2="392.46" y2="61.75" stroke="#8f7048" stroke-width="0.8"/>
<line x1="389.26" y1="87.38" x2="392.46" y2="87.38" stroke="#8f7048" stroke-width="0.8"/>
<line x1="399.16" y1="59.18" x2="399.16" y2="91.8" stroke="#8f7048" stroke-width="0.8"/>
<line x1="397.56" y1="59.18" x2="400.76" y2="59.18" stroke="#8f7048" stroke-width="0.8"/>
<line x1="397.56" y1="91.8" x2="400.76" y2="91.8" stroke="#8f7048" stroke-width="0.8"/>
<line x1="382.12" y1="61.28" x2="382.12" y2="75.26" stroke="#cc5270" stroke-width="0.8"/>
<line x1="380.52" y1="61.28" x2="383.72" y2="61.28" stroke="#cc5270" stroke-width="0.8"/>
<line x1="380.52" y1="75.26" x2="383.72" y2="75.26" stroke="#cc5270" stroke-width="0.8"/>
<line x1="386.49" y1="57.09" x2="386.49" y2="73.4" stroke="#cc5270" stroke-width="0.8"/>
<line x1="384.89" y1="57.09" x2="388.09" y2="57.09" stroke="#cc5270" stroke-width="0.8"/>
<line x1="384.89" y1="73.4" x2="388.09" y2="73.4" stroke="#cc5270" stroke-width="0.8"/>
<line x1="390.64" y1="48.93" x2="390.64" y2="65.24" stroke="#cc5270" stroke-width="0.8"/>
<line x1="389.04" y1="48.93" x2="392.24" y2="48.93" stroke="#cc5270" stroke-width="0.8"/>
<line x1="389.04" y1="65.24" x2="392.24" y2="65.24" stroke="#cc5270" stroke-width="0.8"/>
<line x1="394.79" y1="50.09" x2="394.79" y2="66.41" stroke="#cc5270" stroke-width="0.8"/>
<line x1="393.19" y1="50.09" x2="396.39" y2="50.09" stroke="#cc5270" stroke-width="0.8"/>
<line x1="393.19" y1="66.41" x2="396.39" y2="66.41" stroke="#cc5270" stroke-width="0.8"/>
<line x1="399.16" y1="54.76" x2="399.16" y2="68.73" stroke="#cc5270" stroke-width="0.8"/>
<line x1="397.56" y1="54.76" x2="400.76" y2="54.76" stroke="#cc5270" stroke-width="0.8"/>
<line x1="397.56" y1="68.73" x2="400.76" y2="68.73" stroke="#cc5270" stroke-width="0.8"/>
<line x1="403.75" y1="58.25" x2="403.75" y2="76.89" stroke="#cc5270" stroke-width="0.8"/>
<line x1="402.15" y1="58.25" x2="405.35" y2="58.25" stroke="#cc5270" stroke-width="0.8"/>
<line x1="402.15" y1="76.89" x2="405.35" y2="76.89" stroke="#cc5270" stroke-width="0.8"/>
<line x1="408.34" y1="58.25" x2="408.34" y2="79.22" stroke="#cc5270" stroke-width="0.8"/>
<line x1="406.74" y1="58.25" x2="409.94" y2="58.25" stroke="#cc5270" stroke-width="0.8"/>
<line x1="406.74" y1="79.22" x2="409.94" y2="79.22" stroke="#cc5270" stroke-width="0.8"/>
<line x1="412.49" y1="54.76" x2="412.49" y2="75.72" stroke="#cc5270" stroke-width="0.8"/>
<line x1="410.89" y1="54.76" x2="414.09" y2="54.76" stroke="#cc5270" stroke-width="0.8"/>
<line x1="410.89" y1="75.72" x2="414.09" y2="75.72" stroke="#cc5270" stroke-width="0.8"/>
<line x1="416.64" y1="54.76" x2="416.64" y2="73.4" stroke="#cc5270" stroke-width="0.8"/>
<line x1="415.04" y1="54.76" x2="418.24" y2="54.76" stroke="#cc5270" stroke-width="0.8"/>
<line x1="415.04" y1="73.4" x2="418.24" y2="73.4" stroke="#cc5270" stroke-width="0.8"/>
<line x1="421.01" y1="55.92" x2="421.01" y2="76.89" stroke="#cc5270" stroke-width="0.8"/>
<line x1="419.41" y1="55.92" x2="422.61" y2="55.92" stroke="#cc5270" stroke-width="0.8"/>
<line x1="419.41" y1="76.89" x2="422.61" y2="76.89" stroke="#cc5270" stroke-width="0.8"/>
<line x1="425.82" y1="52.43" x2="425.82" y2="71.06" stroke="#cc5270" stroke-width="0.8"/>
<line x1="424.22" y1="52.43" x2="427.42" y2="52.43" stroke="#cc5270" stroke-width="0.8"/>
<line x1="424.22" y1="71.06" x2="427.42" y2="71.06" stroke="#cc5270" stroke-width="0.8"/>
<line x1="442.86" y1="50.09" x2="442.86" y2="64.08" stroke="#cc5270" stroke-width="0.8"/>
<line x1="441.26" y1="50.09" x2="444.46" y2="50.09" stroke="#cc5270" stroke-width="0.8"/>
<line x1="441.26" y1="64.08" x2="444.46" y2="64.08" stroke="#cc5270" stroke-width="0.8"/>
<line x1="460.34" y1="50.09" x2="460.34" y2="68.73" stroke="#cc5270" stroke-width="0.8"/>
<line x1="458.74" y1="50.09" x2="461.94" y2="50.09" stroke="#cc5270" stroke-width="0.8"/>
<line x1="458.74" y1="68.73" x2="461.94" y2="68.73" stroke="#cc5270" stroke-width="0.8"/>
<line x1="382.12" y1="41.24" x2="382.12" y2="52.89" stroke="#5f80c2" stroke-width="0.8"/>
<line x1="380.52" y1="41.24" x2="383.72" y2="41.24" stroke="#5f80c2" stroke-width="0.8"/>
<line x1="380.52" y1="52.89" x2="383.72" y2="52.89" stroke="#5f80c2" stroke-width="0.8"/>
<line x1="386.49" y1="45.2" x2="386.49" y2="61.51" stroke="#5f80c2" stroke-width="0.8"/>
<line x1="384.89" y1="45.2" x2="388.09" y2="45.2" stroke="#5f80c2" stroke-width="0.8"/>
<line x1="384.89" y1="61.51" x2="388.09" y2="61.51" stroke="#5f80c2" stroke-width="0.8"/>
<line x1="390.64" y1="31.69" x2="390.64" y2="50.33" stroke="#5f80c2" stroke-width="0.8"/>
<line x1="389.04" y1="31.69" x2="392.24" y2="31.69" stroke="#5f80c2" stroke-width="0.8"/>
<line x1="389.04" y1="50.33" x2="392.24" y2="50.33" stroke="#5f80c2" stroke-width="0.8"/>
<line x1="394.79" y1="33.78" x2="394.79" y2="54.76" stroke="#5f80c2" stroke-width="0.8"/>
<line x1="393.19" y1="33.78" x2="396.39" y2="33.78" stroke="#5f80c2" stroke-width="0.8"/>
<line x1="393.19" y1="54.76" x2="396.39" y2="54.76" stroke="#5f80c2" stroke-width="0.8"/>
<line x1="399.16" y1="37.75" x2="399.16" y2="58.72" stroke="#5f80c2" stroke-width="0.8"/>
<line x1="397.56" y1="37.75" x2="400.76" y2="37.75" stroke="#5f80c2" stroke-width="0.8"/>
<line x1="397.56" y1="58.72" x2="400.76" y2="58.72" stroke="#5f80c2" stroke-width="0.8"/>
<line x1="403.75" y1="46.6" x2="403.75" y2="67.57" stroke="#5f80c2" stroke-width="0.8"/>
<line x1="402.15" y1="46.6" x2="405.35" y2="46.6" stroke="#5f80c2" stroke-width="0.8"/>
<line x1="402.15" y1="67.57" x2="405.35" y2="67.57" stroke="#5f80c2" stroke-width="0.8"/>
<line x1="408.34" y1="45.67" x2="408.34" y2="66.64" stroke="#5f80c2" stroke-width="0.8"/>
<line x1="406.74" y1="45.67" x2="409.94" y2="45.67" stroke="#5f80c2" stroke-width="0.8"/>
<line x1="406.74" y1="66.64" x2="409.94" y2="66.64" stroke="#5f80c2" stroke-width="0.8"/>
<line x1="412.49" y1="44.97" x2="412.49" y2="63.61" stroke="#5f80c2" stroke-width="0.8"/>
<line x1="410.89" y1="44.97" x2="414.09" y2="44.97" stroke="#5f80c2" stroke-width="0.8"/>
<line x1="410.89" y1="63.61" x2="414.09" y2="63.61" stroke="#5f80c2" stroke-width="0.8"/>
<line x1="416.64" y1="39.84" x2="416.64" y2="58.48" stroke="#5f80c2" stroke-width="0.8"/>
<line x1="415.04" y1="39.84" x2="418.24" y2="39.84" stroke="#5f80c2" stroke-width="0.8"/>
<line x1="415.04" y1="58.48" x2="418.24" y2="58.48" stroke="#5f80c2" stroke-width="0.8"/>
<line x1="421.01" y1="39.84" x2="421.01" y2="56.15" stroke="#5f80c2" stroke-width="0.8"/>
<line x1="419.41" y1="39.84" x2="422.61" y2="39.84" stroke="#5f80c2" stroke-width="0.8"/>
<line x1="419.41" y1="56.15" x2="422.61" y2="56.15" stroke="#5f80c2" stroke-width="0.8"/>
<line x1="425.82" y1="38.45" x2="425.82" y2="54.76" stroke="#5f80c2" stroke-width="0.8"/>
<line x1="424.22" y1="38.45" x2="427.42" y2="38.45" stroke="#5f80c2" stroke-width="0.8"/>
<line x1="424.22" y1="54.76" x2="427.42" y2="54.76" stroke="#5f80c2" stroke-width="0.8"/>
<line x1="442.86" y1="43.8" x2="442.86" y2="60.11" stroke="#5f80c2" stroke-width="0.8"/>
<line x1="441.26" y1="43.8" x2="444.46" y2="43.8" stroke="#5f80c2" stroke-width="0.8"/>
<line x1="441.26" y1="60.11" x2="444.46" y2="60.11" stroke="#5f80c2" stroke-width="0.8"/>
<line x1="460.34" y1="39.61" x2="460.34" y2="58.25" stroke="#5f80c2" stroke-width="0.8"/>
<line x1="458.74" y1="39.61" x2="461.94" y2="39.61" stroke="#5f80c2" stroke-width="0.8"/>
<line x1="458.74" y1="58.25" x2="461.94" y2="58.25" stroke="#5f80c2" stroke-width="0.8"/>
<polyline points="364.2,46.6 381.68,86.21 386.05,85.28 390.86,74.56 399.16,75.49" fill="none" stroke="#7a5a36" stroke-width="0.9" stroke-linejoin="round"/>
<polyline points="364.2,46.6 382.12,68.27 386.49,65.24 390.64,57.09 394.79,58.25 399.16,61.75 403.75,67.57 408.34,68.73 412.49,65.24 416.64,64.08 421.01,66.41 425.82,61.75 442.86,57.09 460.34,59.42" fill="none" stroke="#c21f40" stroke-width="0.9" stroke-linejoin="round"/>
<polyline points="364.2,46.6 382.12,47.07 386.49,53.36 390.64,41.01 394.79,44.27 399.16,48.23 403.75,57.09 408.34,56.15 412.49,54.29 416.64,49.16 421.01,48 425.82,46.6 442.86,51.96 460.34,48.93" fill="none" stroke="#2c4a8c" stroke-width="0.9" stroke-linejoin="round"/>
<circle cx="364.2" cy="46.6" r="1.55" fill="#4a2e12" stroke="#1e1005" stroke-width="0.35"/>
<circle cx="381.68" cy="86.21" r="1.55" fill="#4a2e12" stroke="#1e1005" stroke-width="0.35"/>
<circle cx="386.05" cy="85.28" r="1.55" fill="#4a2e12" stroke="#1e1005" stroke-width="0.35"/>
<circle cx="390.86" cy="74.56" r="1.55" fill="#4a2e12" stroke="#1e1005" stroke-width="0.35"/>
<circle cx="399.16" cy="75.49" r="1.55" fill="#4a2e12" stroke="#1e1005" stroke-width="0.35"/>
<circle cx="364.2" cy="46.6" r="1.55" fill="#8a1024" stroke="#3a0008" stroke-width="0.35"/>
<circle cx="382.12" cy="68.27" r="1.55" fill="#8a1024" stroke="#3a0008" stroke-width="0.35"/>
<circle cx="386.49" cy="65.24" r="1.55" fill="#8a1024" stroke="#3a0008" stroke-width="0.35"/>
<circle cx="390.64" cy="57.09" r="1.55" fill="#8a1024" stroke="#3a0008" stroke-width="0.35"/>
<circle cx="394.79" cy="58.25" r="1.55" fill="#8a1024" stroke="#3a0008" stroke-width="0.35"/>
<circle cx="399.16" cy="61.75" r="1.55" fill="#8a1024" stroke="#3a0008" stroke-width="0.35"/>
<circle cx="403.75" cy="67.57" r="1.55" fill="#8a1024" stroke="#3a0008" stroke-width="0.35"/>
<circle cx="408.34" cy="68.73" r="1.55" fill="#8a1024" stroke="#3a0008" stroke-width="0.35"/>
<circle cx="412.49" cy="65.24" r="1.55" fill="#8a1024" stroke="#3a0008" stroke-width="0.35"/>
<circle cx="416.64" cy="64.08" r="1.55" fill="#8a1024" stroke="#3a0008" stroke-width="0.35"/>
<circle cx="421.01" cy="66.41" r="1.55" fill="#8a1024" stroke="#3a0008" stroke-width="0.35"/>
<circle cx="425.82" cy="61.75" r="1.55" fill="#8a1024" stroke="#3a0008" stroke-width="0.35"/>
<circle cx="442.86" cy="57.09" r="1.55" fill="#8a1024" stroke="#3a0008" stroke-width="0.35"/>
<circle cx="460.34" cy="59.42" r="1.55" fill="#8a1024" stroke="#3a0008" stroke-width="0.35"/>
<circle cx="364.2" cy="46.6" r="1.55" fill="#1d3566" stroke="#0b1630" stroke-width="0.35"/>
<circle cx="382.12" cy="47.07" r="1.55" fill="#1d3566" stroke="#0b1630" stroke-width="0.35"/>
<circle cx="386.49" cy="53.36" r="1.55" fill="#1d3566" stroke="#0b1630" stroke-width="0.35"/>
<circle cx="390.64" cy="41.01" r="1.55" fill="#1d3566" stroke="#0b1630" stroke-width="0.35"/>
<circle cx="394.79" cy="44.27" r="1.55" fill="#1d3566" stroke="#0b1630" stroke-width="0.35"/>
<circle cx="399.16" cy="48.23" r="1.55" fill="#1d3566" stroke="#0b1630" stroke-width="0.35"/>
<circle cx="403.75" cy="57.09" r="1.55" fill="#1d3566" stroke="#0b1630" stroke-width="0.35"/>
<circle cx="408.34" cy="56.15" r="1.55" fill="#1d3566" stroke="#0b1630" stroke-width="0.35"/>
<circle cx="412.49" cy="54.29" r="1.55" fill="#1d3566" stroke="#0b1630" stroke-width="0.35"/>
<circle cx="416.64" cy="49.16" r="1.55" fill="#1d3566" stroke="#0b1630" stroke-width="0.35"/>
<circle cx="421.01" cy="48" r="1.55" fill="#1d3566" stroke="#0b1630" stroke-width="0.35"/>
<circle cx="425.82" cy="46.6" r="1.55" fill="#1d3566" stroke="#0b1630" stroke-width="0.35"/>
<circle cx="442.86" cy="51.96" r="1.55" fill="#1d3566" stroke="#0b1630" stroke-width="0.35"/>
<circle cx="460.34" cy="48.93" r="1.55" fill="#1d3566" stroke="#0b1630" stroke-width="0.35"/>
<line x1="426" y1="78.5" x2="433.2" y2="78.5" stroke="#2c4a8c" stroke-width="0.9"/>
<circle cx="429.6" cy="78.5" r="1.5" fill="#1d3566" stroke="none" stroke-width="0.5"/>
<text x="436.3" y="78.5" font-size="6.2" text-anchor="start" fill="#262626" dominant-baseline="central" textLength="18.3" lengthAdjust="spacingAndGlyphs" stroke="#262626" stroke-width="0.1">vehicle</text>
<line x1="426" y1="86.7" x2="433.2" y2="86.7" stroke="#c21f40" stroke-width="0.9"/>
<circle cx="429.6" cy="86.7" r="1.5" fill="#8a1024" stroke="none" stroke-width="0.5"/>
<text x="436.3" y="86.7" font-size="6.2" text-anchor="start" fill="#262626" dominant-baseline="central" textLength="69.7" lengthAdjust="spacingAndGlyphs" stroke="#262626" stroke-width="0.1">comp.10, 50mg/kg PO bid</text>
<line x1="426" y1="96.7" x2="433.2" y2="96.7" stroke="#7a5a36" stroke-width="0.9"/>
<circle cx="429.6" cy="96.7" r="1.5" fill="#4a2e12" stroke="none" stroke-width="0.5"/>
<text x="436.3" y="96.7" font-size="6.2" text-anchor="start" fill="#262626" dominant-baseline="central" textLength="73.3" lengthAdjust="spacingAndGlyphs" stroke="#262626" stroke-width="0.1">comp.10, 100mg/kg PO bid</text>
<line x1="36.3" y1="158.5" x2="36.3" y2="237.5" stroke="#1a1a1a" stroke-width="1.2"/>
<line x1="33.4" y1="237" x2="36.3" y2="237" stroke="#1a1a1a" stroke-width="1"/>
<text x="30.4" y="237" font-size="6.8" text-anchor="end" fill="#262626" dominant-baseline="central" textLength="3.21" lengthAdjust="spacingAndGlyphs" stroke="#262626" stroke-width="0.1">0</text>
<line x1="33.4" y1="221.56" x2="36.3" y2="221.56" stroke="#1a1a1a" stroke-width="1"/>
<text x="30.4" y="221.56" font-size="6.8" text-anchor="end" fill="#262626" dominant-baseline="central" textLength="3.21" lengthAdjust="spacingAndGlyphs" stroke="#262626" stroke-width="0.1">1</text>
<line x1="33.4" y1="206.12" x2="36.3" y2="206.12" stroke="#1a1a1a" stroke-width="1"/>
<text x="30.4" y="206.12" font-size="6.8" text-anchor="end" fill="#262626" dominant-baseline="central" textLength="3.21" lengthAdjust="spacingAndGlyphs" stroke="#262626" stroke-width="0.1">2</text>
<line x1="33.4" y1="190.68" x2="36.3" y2="190.68" stroke="#1a1a1a" stroke-width="1"/>
<text x="30.4" y="190.68" font-size="6.8" text-anchor="end" fill="#262626" dominant-baseline="central" textLength="3.21" lengthAdjust="spacingAndGlyphs" stroke="#262626" stroke-width="0.1">3</text>
<line x1="33.4" y1="175.24" x2="36.3" y2="175.24" stroke="#1a1a1a" stroke-width="1"/>
<text x="30.4" y="175.24" font-size="6.8" text-anchor="end" fill="#262626" dominant-baseline="central" textLength="3.21" lengthAdjust="spacingAndGlyphs" stroke="#262626" stroke-width="0.1">4</text>
<line x1="33.4" y1="159.8" x2="36.3" y2="159.8" stroke="#1a1a1a" stroke-width="1"/>
<text x="30.4" y="159.8" font-size="6.8" text-anchor="end" fill="#262626" dominant-baseline="central" textLength="3.21" lengthAdjust="spacingAndGlyphs" stroke="#262626" stroke-width="0.1">5</text>
<line x1="35.75" y1="237" x2="104.5" y2="237" stroke="#1a1a1a" stroke-width="1.2"/>
<line x1="36.7" y1="237" x2="36.7" y2="239.9" stroke="#1a1a1a" stroke-width="1"/>
<text x="36.7" y="245.5" font-size="6.8" text-anchor="middle" fill="#262626" dominant-baseline="central" textLength="3.21" lengthAdjust="spacingAndGlyphs" stroke="#262626" stroke-width="0.1">0</text>
<line x1="52.9" y1="237" x2="52.9" y2="239.9" stroke="#1a1a1a" stroke-width="1"/>
<text x="52.9" y="245.5" font-size="6.8" text-anchor="middle" fill="#262626" dominant-baseline="central" textLength="3.21" lengthAdjust="spacingAndGlyphs" stroke="#262626" stroke-width="0.1">2</text>
<line x1="69.1" y1="237" x2="69.1" y2="239.9" stroke="#1a1a1a" stroke-width="1"/>
<text x="69.1" y="245.5" font-size="6.8" text-anchor="middle" fill="#262626" dominant-baseline="central" textLength="3.21" lengthAdjust="spacingAndGlyphs" stroke="#262626" stroke-width="0.1">4</text>
<line x1="85.3" y1="237" x2="85.3" y2="239.9" stroke="#1a1a1a" stroke-width="1"/>
<text x="85.3" y="245.5" font-size="6.8" text-anchor="middle" fill="#262626" dominant-baseline="central" textLength="3.21" lengthAdjust="spacingAndGlyphs" stroke="#262626" stroke-width="0.1">6</text>
<line x1="101.5" y1="237" x2="101.5" y2="239.9" stroke="#1a1a1a" stroke-width="1"/>
<text x="101.5" y="245.5" font-size="6.8" text-anchor="middle" fill="#262626" dominant-baseline="central" textLength="3.21" lengthAdjust="spacingAndGlyphs" stroke="#262626" stroke-width="0.1">8</text>
<text x="70.9" y="150.1" font-size="6.5" text-anchor="middle" fill="#333" dominant-baseline="central" textLength="37.8" lengthAdjust="spacingAndGlyphs" stroke="#333" stroke-width="0.05">compound 10:</text>
<line x1="52" y1="152.6" x2="89.8" y2="152.6" stroke="#333" stroke-width="0.5"/>
<text x="19.1" y="197" font-size="9.3" text-anchor="middle" fill="#262626" dominant-baseline="central" textLength="78" lengthAdjust="spacingAndGlyphs" transform="rotate(-90 19.1 197)" stroke="#262626" stroke-width="0.1">Plasma concentration (μM)</text>
<text x="71.2" y="257.2" font-size="9.3" text-anchor="middle" fill="#262626" dominant-baseline="central" textLength="71.7" lengthAdjust="spacingAndGlyphs" stroke="#262626" stroke-width="0.1">Time post oral gavage (h)</text>
<text x="82" y="231.3" font-size="4.6" text-anchor="middle" fill="#333" dominant-baseline="central" textLength="27.9" lengthAdjust="spacingAndGlyphs" stroke="#333" stroke-width="0.04">75mg/kg, PO</text>
<line x1="40.75" y1="211.83" x2="40.75" y2="222.02" stroke="#cc5270" stroke-width="0.7"/>
<line x1="39.15" y1="211.83" x2="42.35" y2="211.83" stroke="#cc5270" stroke-width="0.7"/>
<line x1="39.15" y1="222.02" x2="42.35" y2="222.02" stroke="#cc5270" stroke-width="0.7"/>
<line x1="52.9" y1="193.61" x2="52.9" y2="219.55" stroke="#cc5270" stroke-width="0.7"/>
<line x1="51.3" y1="193.61" x2="54.5" y2="193.61" stroke="#cc5270" stroke-width="0.7"/>
<line x1="51.3" y1="219.55" x2="54.5" y2="219.55" stroke="#cc5270" stroke-width="0.7"/>
<line x1="69.1" y1="199.02" x2="69.1" y2="220.02" stroke="#cc5270" stroke-width="0.7"/>
<line x1="67.5" y1="199.02" x2="70.7" y2="199.02" stroke="#cc5270" stroke-width="0.7"/>
<line x1="67.5" y1="220.02" x2="70.7" y2="220.02" stroke="#cc5270" stroke-width="0.7"/>
<line x1="101.5" y1="179.41" x2="101.5" y2="220.48" stroke="#cc5270" stroke-width="0.7"/>
<line x1="99.9" y1="179.41" x2="103.1" y2="179.41" stroke="#cc5270" stroke-width="0.7"/>
<line x1="99.9" y1="220.48" x2="103.1" y2="220.48" stroke="#cc5270" stroke-width="0.7"/>
<polyline points="36.7,229.28 40.75,216.93 44.8,215.69 52.9,206.58 69.1,209.52 101.5,199.94" fill="none" stroke="#c21f40" stroke-width="1" stroke-linejoin="round"/>
<circle cx="36.7" cy="229.28" r="1.75" fill="#8a1024" stroke="#3a0008" stroke-width="0.4"/>
<circle cx="40.75" cy="216.93" r="1.75" fill="#8a1024" stroke="#3a0008" stroke-width="0.4"/>
<circle cx="44.8" cy="215.69" r="1.75" fill="#8a1024" stroke="#3a0008" stroke-width="0.4"/>
<circle cx="52.9" cy="206.58" r="1.75" fill="#8a1024" stroke="#3a0008" stroke-width="0.4"/>
<circle cx="69.1" cy="209.52" r="1.75" fill="#8a1024" stroke="#3a0008" stroke-width="0.4"/>
<circle cx="101.5" cy="199.94" r="1.75" fill="#8a1024" stroke="#3a0008" stroke-width="0.4"/>
<line x1="126.2" y1="158.5" x2="126.2" y2="237.5" stroke="#1a1a1a" stroke-width="1.2"/>
<line x1="123.3" y1="237" x2="126.2" y2="237" stroke="#1a1a1a" stroke-width="1"/>
<text x="120.4" y="237" font-size="6.8" text-anchor="end" fill="#262626" dominant-baseline="central" textLength="3.21" lengthAdjust="spacingAndGlyphs" stroke="#262626" stroke-width="0.1">0</text>
<line x1="123.3" y1="221.56" x2="126.2" y2="221.56" stroke="#1a1a1a" stroke-width="1"/>
<text x="120.4" y="221.56" font-size="6.8" text-anchor="end" fill="#262626" dominant-baseline="central" textLength="3.21" lengthAdjust="spacingAndGlyphs" stroke="#262626" stroke-width="0.1">1</text>
<line x1="123.3" y1="206.12" x2="126.2" y2="206.12" stroke="#1a1a1a" stroke-width="1"/>
<text x="120.4" y="206.12" font-size="6.8" text-anchor="end" fill="#262626" dominant-baseline="central" textLength="3.21" lengthAdjust="spacingAndGlyphs" stroke="#262626" stroke-width="0.1">2</text>
<line x1="123.3" y1="190.68" x2="126.2" y2="190.68" stroke="#1a1a1a" stroke-width="1"/>
<text x="120.4" y="190.68" font-size="6.8" text-anchor="end" fill="#262626" dominant-baseline="central" textLength="3.21" lengthAdjust="spacingAndGlyphs" stroke="#262626" stroke-width="0.1">3</text>
<line x1="123.3" y1="175.24" x2="126.2" y2="175.24" stroke="#1a1a1a" stroke-width="1"/>
<text x="120.4" y="175.24" font-size="6.8" text-anchor="end" fill="#262626" dominant-baseline="central" textLength="3.21" lengthAdjust="spacingAndGlyphs" stroke="#262626" stroke-width="0.1">4</text>
<line x1="123.3" y1="159.8" x2="126.2" y2="159.8" stroke="#1a1a1a" stroke-width="1"/>
<text x="120.4" y="159.8" font-size="6.8" text-anchor="end" fill="#262626" dominant-baseline="central" textLength="3.21" lengthAdjust="spacingAndGlyphs" stroke="#262626" stroke-width="0.1">5</text>
<line x1="125.65" y1="237" x2="193.9" y2="237" stroke="#1a1a1a" stroke-width="1.2"/>
<line x1="126.2" y1="237" x2="126.2" y2="239.9" stroke="#1a1a1a" stroke-width="1"/>
<text x="126.2" y="245.5" font-size="6.8" text-anchor="middle" fill="#262626" dominant-baseline="central" textLength="3.21" lengthAdjust="spacingAndGlyphs" stroke="#262626" stroke-width="0.1">0</text>
<line x1="142.48" y1="237" x2="142.48" y2="239.9" stroke="#1a1a1a" stroke-width="1"/>
<text x="142.48" y="245.5" font-size="6.8" text-anchor="middle" fill="#262626" dominant-baseline="central" textLength="3.21" lengthAdjust="spacingAndGlyphs" stroke="#262626" stroke-width="0.1">2</text>
<line x1="158.76" y1="237" x2="158.76" y2="239.9" stroke="#1a1a1a" stroke-width="1"/>
<text x="158.76" y="245.5" font-size="6.8" text-anchor="middle" fill="#262626" dominant-baseline="central" textLength="3.21" lengthAdjust="spacingAndGlyphs" stroke="#262626" stroke-width="0.1">4</text>
<line x1="175.04" y1="237" x2="175.04" y2="239.9" stroke="#1a1a1a" stroke-width="1"/>
<text x="175.04" y="245.5" font-size="6.8" text-anchor="middle" fill="#262626" dominant-baseline="central" textLength="3.21" lengthAdjust="spacingAndGlyphs" stroke="#262626" stroke-width="0.1">6</text>
<line x1="191.32" y1="237" x2="191.32" y2="239.9" stroke="#1a1a1a" stroke-width="1"/>
<text x="191.32" y="245.5" font-size="6.8" text-anchor="middle" fill="#262626" dominant-baseline="central" textLength="3.21" lengthAdjust="spacingAndGlyphs" stroke="#262626" stroke-width="0.1">8</text>
<text x="160" y="150.1" font-size="6.5" text-anchor="middle" fill="#333" dominant-baseline="central" textLength="37.8" lengthAdjust="spacingAndGlyphs" stroke="#333" stroke-width="0.05">compound 11:</text>
<line x1="141.1" y1="152.6" x2="178.9" y2="152.6" stroke="#333" stroke-width="0.5"/>
<text x="160.1" y="257.2" font-size="9.3" text-anchor="middle" fill="#262626" dominant-baseline="central" textLength="73.8" lengthAdjust="spacingAndGlyphs" stroke="#262626" stroke-width="0.1">Time post i.p.-injection (h)</text>
<text x="173.2" y="232" font-size="4.6" text-anchor="middle" fill="#333" dominant-baseline="central" textLength="25.2" lengthAdjust="spacingAndGlyphs" stroke="#333" stroke-width="0.04">75mg/kg, IP</text>
<line x1="130.27" y1="167.21" x2="130.27" y2="205.5" stroke="#cc5270" stroke-width="0.7"/>
<line x1="128.67" y1="167.21" x2="131.87" y2="167.21" stroke="#cc5270" stroke-width="0.7"/>
<line x1="128.67" y1="205.5" x2="131.87" y2="205.5" stroke="#cc5270" stroke-width="0.7"/>
<line x1="134.34" y1="183.73" x2="134.34" y2="213.07" stroke="#cc5270" stroke-width="0.7"/>
<line x1="132.74" y1="183.73" x2="135.94" y2="183.73" stroke="#cc5270" stroke-width="0.7"/>
<line x1="132.74" y1="213.07" x2="135.94" y2="213.07" stroke="#cc5270" stroke-width="0.7"/>
<line x1="142.48" y1="160.73" x2="142.48" y2="205.19" stroke="#cc5270" stroke-width="0.7"/>
<line x1="140.88" y1="160.73" x2="144.08" y2="160.73" stroke="#cc5270" stroke-width="0.7"/>
<line x1="140.88" y1="205.19" x2="144.08" y2="205.19" stroke="#cc5270" stroke-width="0.7"/>
<line x1="158.76" y1="161.19" x2="158.76" y2="212.45" stroke="#cc5270" stroke-width="0.7"/>
<line x1="157.16" y1="161.19" x2="160.36" y2="161.19" stroke="#cc5270" stroke-width="0.7"/>
<line x1="157.16" y1="212.45" x2="160.36" y2="212.45" stroke="#cc5270" stroke-width="0.7"/>
<line x1="191.32" y1="170.14" x2="191.32" y2="204.42" stroke="#cc5270" stroke-width="0.7"/>
<line x1="189.72" y1="170.14" x2="192.92" y2="170.14" stroke="#cc5270" stroke-width="0.7"/>
<line x1="189.72" y1="204.42" x2="192.92" y2="204.42" stroke="#cc5270" stroke-width="0.7"/>
<polyline points="130.27,186.36 134.34,198.4 142.48,182.96 158.76,186.82 191.32,187.28" fill="none" stroke="#c21f40" stroke-width="1" stroke-linejoin="round"/>
<circle cx="130.27" cy="186.36" r="1.75" fill="#8a1024" stroke="#3a0008" stroke-width="0.4"/>
<circle cx="134.34" cy="198.4" r="1.75" fill="#8a1024" stroke="#3a0008" stroke-width="0.4"/>
<circle cx="142.48" cy="182.96" r="1.75" fill="#8a1024" stroke="#3a0008" stroke-width="0.4"/>
<circle cx="158.76" cy="186.82" r="1.75" fill="#8a1024" stroke="#3a0008" stroke-width="0.4"/>
<circle cx="191.32" cy="187.28" r="1.75" fill="#8a1024" stroke="#3a0008" stroke-width="0.4"/>
<g transform="translate(226.6 156.6) rotate(40.5)"><line x1="0" y1="-1.8" x2="0" y2="1.8" stroke="#c0c0c0" stroke-width="1.3"/><line x1="0" y1="0" x2="5.11" y2="0" stroke="#b0b0b0" stroke-width="0.9"/><line x1="5.11" y1="-2.6" x2="5.11" y2="2.6" stroke="#9a9a9a" stroke-width="0.9"/><rect x="5.3" y="-1.5" width="12.5" height="3" fill="#b4b4b4" stroke="#6e6e6e" stroke-width="0.45"/><line x1="5.3" y1="0" x2="17.8" y2="0" stroke="#e2e2e2" stroke-width="0.6"/><rect x="14.3" y="-1.05" width="3.5" height="2.1" fill="#5096da"/><rect x="17.8" y="-1.2" width="1.14" height="2.4" rx="0.6" fill="#1e1e1e"/></g>
<path d="M246.61,170.85 C247.16,167.59 249.95,166.01 253.21,166.01 C256.93,166.01 260.19,166.94 262.51,168.52 C265.3,168.99 269.49,171.31 272.74,174.57 C272.09,175.96 269.95,176.71 268.56,176.99 L268.46,178.85 L269.76,179.96 L266.97,180.15 L264.65,178.94 L264,180.43 L261.58,180.89 L261.86,178.85 C259.25,179.03 256.46,178.85 255.07,178.48 L254.79,179.96 L252.28,180.06 L252.56,177.92 C249.49,176.89 246.23,174.57 246.61,170.85 Z" fill="#efefef" stroke="#858585" stroke-width="0.5"/>
<path d="M265.58,169.55 L267.72,167.04 L268.83,170.57" fill="#efefef" stroke="#858585" stroke-width="0.45"/>
<path d="M264.93,170.29 C264.56,172.06 265.86,173.45 266.97,173.64" fill="none" stroke="#9a9a9a" stroke-width="0.4"/>
<circle cx="269.76" cy="173.83" r="0.47" fill="#555" stroke="none" stroke-width="0.5"/>
<path d="M252.28,180.06 L254.79,179.96" fill="none" stroke="#666" stroke-width="0.7"/>
<path d="M261.58,180.89 L264,180.43" fill="none" stroke="#666" stroke-width="0.7"/>
<path d="M266.97,180.15 L269.76,179.96" fill="none" stroke="#666" stroke-width="0.7"/>
<path d="M246.7,171.04 C242.98,170.11 238.33,170.48 236.47,172.52 C235.54,174.1 237.4,175.96 240.84,178.57" fill="none" stroke="#858585" stroke-width="0.55"/>
<text x="251.5" y="159.3" font-size="6.4" text-anchor="middle" fill="#262626" dominant-baseline="central" textLength="22.9" lengthAdjust="spacingAndGlyphs" stroke="#262626" stroke-width="0.1">PDX #1</text>
<text x="251.6" y="187.7" font-size="6.1" text-anchor="middle" fill="#262626" font-style="italic" dominant-baseline="central" textLength="40.8" lengthAdjust="spacingAndGlyphs" stroke="#262626" stroke-width="0.07">AML, MLL-AF6,</text>
<text x="251.8" y="194.4" font-size="6.1" text-anchor="middle" fill="#262626" font-style="italic" dominant-baseline="central" textLength="45.3" lengthAdjust="spacingAndGlyphs" stroke="#262626" stroke-width="0.07">pediatric, relapse</text>
<g transform="translate(228.6 220.8) rotate(39.88)"><line x1="0" y1="-1.8" x2="0" y2="1.8" stroke="#c0c0c0" stroke-width="1.3"/><line x1="0" y1="0" x2="5.14" y2="0" stroke="#b0b0b0" stroke-width="0.9"/><line x1="5.14" y1="-2.6" x2="5.14" y2="2.6" stroke="#9a9a9a" stroke-width="0.9"/><rect x="5.33" y="-1.5" width="12.56" height="3" fill="#b4b4b4" stroke="#6e6e6e" stroke-width="0.45"/><line x1="5.33" y1="0" x2="17.88" y2="0" stroke="#e2e2e2" stroke-width="0.6"/><rect x="14.37" y="-1.05" width="3.52" height="2.1" fill="#5096da"/><rect x="17.88" y="-1.2" width="1.14" height="2.4" rx="0.6" fill="#1e1e1e"/></g>
<path d="M248.71,235.08 C249.27,231.8 252.07,230.21 255.34,230.21 C259.09,230.21 262.36,231.15 264.69,232.74 C267.5,233.21 271.71,235.54 274.98,238.81 C274.33,240.22 272.18,240.97 270.77,241.25 L270.68,243.12 L271.99,244.24 L269.18,244.43 L266.85,243.21 L266.19,244.71 L263.76,245.17 L264.04,243.12 C261.42,243.3 258.62,243.12 257.22,242.74 L256.93,244.24 L254.41,244.33 L254.69,242.18 C251.61,241.15 248.33,238.81 248.71,235.08 Z" fill="#efefef" stroke="#858585" stroke-width="0.5"/>
<path d="M267.78,233.77 L269.93,231.24 L271.05,234.79" fill="#efefef" stroke="#858585" stroke-width="0.45"/>
<path d="M267.13,234.51 C266.75,236.29 268.06,237.69 269.18,237.88" fill="none" stroke="#9a9a9a" stroke-width="0.4"/>
<circle cx="271.99" cy="238.07" r="0.47" fill="#555" stroke="none" stroke-width="0.5"/>
<path d="M254.41,244.33 L256.93,244.24" fill="none" stroke="#666" stroke-width="0.7"/>
<path d="M263.76,245.17 L266.19,244.71" fill="none" stroke="#666" stroke-width="0.7"/>
<path d="M269.18,244.43 L271.99,244.24" fill="none" stroke="#666" stroke-width="0.7"/>
<path d="M248.8,235.26 C245.06,234.33 240.39,234.7 238.52,236.76 C237.58,238.35 239.45,240.22 242.91,242.84" fill="none" stroke="#858585" stroke-width="0.55"/>
<text x="253.7" y="223.9" font-size="6.4" text-anchor="middle" fill="#262626" dominant-baseline="central" textLength="22.9" lengthAdjust="spacingAndGlyphs" stroke="#262626" stroke-width="0.1">PDX #2</text>
<text x="253.7" y="251.7" font-size="6.1" text-anchor="middle" fill="#262626" font-style="italic" dominant-baseline="central" textLength="43.2" lengthAdjust="spacingAndGlyphs" stroke="#262626" stroke-width="0.07">sAML, MLL-AF9,</text>
<text x="253.8" y="258.2" font-size="6.1" text-anchor="middle" fill="#262626" font-style="italic" dominant-baseline="central" textLength="43.6" lengthAdjust="spacingAndGlyphs" stroke="#262626" stroke-width="0.07">adult, prim. diag</text>
<line x1="275.2" y1="178.3" x2="302" y2="178.3" stroke="#1a1a1a" stroke-width="1"/>
<polygon points="305,178.3 302,179.56 302,177.04" fill="#1a1a1a"/>
<line x1="274.3" y1="182" x2="306.04" y2="233.94" stroke="#1a1a1a" stroke-width="0.9"/>
<polygon points="307.6,236.5 304.96,234.6 307.11,233.28" fill="#1a1a1a"/>
<line x1="276.9" y1="234.8" x2="303.59" y2="184.45" stroke="#1a1a1a" stroke-width="0.9"/>
<polygon points="305,181.8 304.71,185.04 302.48,183.86" fill="#1a1a1a"/>
<line x1="277.8" y1="237.6" x2="304.6" y2="237.6" stroke="#1a1a1a" stroke-width="1"/>
<polygon points="307.6,237.6 304.6,238.86 304.6,236.34" fill="#1a1a1a"/>
<text x="328.8" y="156.6" font-size="6.8" text-anchor="middle" fill="#222" dominant-baseline="central" textLength="45" lengthAdjust="spacingAndGlyphs" stroke="#222" stroke-width="0.1">compound 10:</text>
<text x="328.7" y="164.7" font-size="6.8" text-anchor="middle" fill="#b8243f" dominant-baseline="central" textLength="47.1" lengthAdjust="spacingAndGlyphs" stroke="#b8243f" stroke-width="0.1">via oral gavage</text>
<path d="M318.51,174.7 C319.05,171.55 321.75,170.02 324.9,170.02 C328.5,170.02 331.65,170.92 333.9,172.45 C336.6,172.9 340.65,175.15 343.8,178.3 C343.17,179.65 341.1,180.37 339.75,180.64 L339.66,182.44 L340.92,183.52 L338.22,183.7 L335.97,182.53 L335.34,183.97 L333,184.42 L333.27,182.44 C330.75,182.62 328.05,182.44 326.7,182.08 L326.43,183.52 L324,183.61 L324.27,181.54 C321.3,180.55 318.15,178.3 318.51,174.7 Z" fill="#efefef" stroke="#858585" stroke-width="0.45"/>
<path d="M336.87,173.44 L338.94,171.01 L340.02,174.43" fill="#efefef" stroke="#858585" stroke-width="0.45"/>
<path d="M336.24,174.16 C335.88,175.87 337.14,177.22 338.22,177.4" fill="none" stroke="#9a9a9a" stroke-width="0.4"/>
<circle cx="340.92" cy="177.58" r="0.45" fill="#555" stroke="none" stroke-width="0.5"/>
<path d="M324,183.61 L326.43,183.52" fill="none" stroke="#666" stroke-width="0.7"/>
<path d="M333,184.42 L335.34,183.97" fill="none" stroke="#666" stroke-width="0.7"/>
<path d="M338.22,183.7 L340.92,183.52" fill="none" stroke="#666" stroke-width="0.7"/>
<path d="M318.6,174.88 C315,173.98 310.5,174.34 308.7,176.32 C307.8,177.85 309.6,179.65 312.93,182.17" fill="none" stroke="#858585" stroke-width="0.55"/>
<g transform="translate(360.6 192.9) rotate(-144)"><line x1="0" y1="-1.8" x2="0" y2="1.8" stroke="#c0c0c0" stroke-width="1.3"/><line x1="0" y1="0" x2="5.01" y2="0" stroke="#b0b0b0" stroke-width="0.9"/><line x1="5.01" y1="-2.6" x2="5.01" y2="2.6" stroke="#9a9a9a" stroke-width="0.9"/><rect x="5.19" y="-1.5" width="12.24" height="3" fill="#b4b4b4" stroke="#6e6e6e" stroke-width="0.45"/><line x1="5.19" y1="0" x2="17.43" y2="0" stroke="#e2e2e2" stroke-width="0.6"/><rect x="14" y="-1.05" width="3.43" height="2.1" fill="#c8895a"/><rect x="17.43" y="-1.2" width="1.11" height="2.4" rx="0.6" fill="#1e1e1e"/></g>
<text x="331.5" y="248.6" font-size="6.8" text-anchor="middle" fill="#222" dominant-baseline="central" textLength="45" lengthAdjust="spacingAndGlyphs" stroke="#222" stroke-width="0.1">compound 11:</text>
<text x="331.5" y="256.9" font-size="6.8" text-anchor="middle" fill="#b8243f" dominant-baseline="central" textLength="49.1" lengthAdjust="spacingAndGlyphs" stroke="#b8243f" stroke-width="0.1">via i.p. injection</text>
<path d="M321.21,231.55 C321.76,228.3 324.56,226.71 327.81,226.71 C331.53,226.71 334.79,227.64 337.11,229.22 C339.9,229.69 344.09,232.02 347.34,235.27 C346.69,236.67 344.55,237.41 343.16,237.69 L343.06,239.55 L344.36,240.66 L341.57,240.85 L339.25,239.64 L338.6,241.13 L336.18,241.59 L336.46,239.55 C333.86,239.73 331.06,239.55 329.67,239.18 L329.39,240.66 L326.88,240.76 L327.16,238.62 C324.09,237.59 320.84,235.27 321.21,231.55 Z" fill="#efefef" stroke="#858585" stroke-width="0.5"/>
<path d="M340.18,230.25 L342.32,227.74 L343.43,231.27" fill="#efefef" stroke="#858585" stroke-width="0.45"/>
<path d="M339.53,230.99 C339.16,232.76 340.46,234.15 341.57,234.34" fill="none" stroke="#9a9a9a" stroke-width="0.4"/>
<circle cx="344.36" cy="234.53" r="0.47" fill="#555" stroke="none" stroke-width="0.5"/>
<path d="M326.88,240.76 L329.39,240.66" fill="none" stroke="#666" stroke-width="0.7"/>
<path d="M336.18,241.59 L338.6,241.13" fill="none" stroke="#666" stroke-width="0.7"/>
<path d="M341.57,240.85 L344.36,240.66" fill="none" stroke="#666" stroke-width="0.7"/>
<path d="M321.3,231.74 C317.58,230.81 312.93,231.18 311.07,233.22 C310.14,234.81 312,236.67 315.44,239.27" fill="none" stroke="#858585" stroke-width="0.55"/>
<g transform="translate(311.3 218.7) rotate(41.1)"><line x1="0" y1="-1.8" x2="0" y2="1.8" stroke="#c0c0c0" stroke-width="1.3"/><line x1="0" y1="0" x2="5.05" y2="0" stroke="#b0b0b0" stroke-width="0.9"/><line x1="5.05" y1="-2.6" x2="5.05" y2="2.6" stroke="#9a9a9a" stroke-width="0.9"/><rect x="5.24" y="-1.5" width="12.35" height="3" fill="#b4b4b4" stroke="#6e6e6e" stroke-width="0.45"/><line x1="5.24" y1="0" x2="17.59" y2="0" stroke="#e2e2e2" stroke-width="0.6"/><rect x="14.13" y="-1.05" width="3.46" height="2.1" fill="#5096da"/><rect x="17.59" y="-1.2" width="1.12" height="2.4" rx="0.6" fill="#1e1e1e"/></g>
<line x1="349.6" y1="177.5" x2="432.9" y2="177.5" stroke="#1a1a1a" stroke-width="0.8"/>
<polygon points="435.5,177.5 432.9,178.59 432.9,176.41" fill="#1a1a1a"/>
<text x="391.5" y="173.1" font-size="6.6" text-anchor="middle" fill="#222" dominant-baseline="central" textLength="24.1" lengthAdjust="spacingAndGlyphs" stroke="#222" stroke-width="0.1">30 days</text>
<rect x="352.8" y="179.3" width="79.2" height="2" fill="#707070"/>
<rect x="352.8" y="181.3" width="79.2" height="2.5" fill="#c6c6c6"/>
<rect x="352.8" y="179.3" width="79.2" height="4.5" fill="url(#vh)" opacity="0.12"/>
<text x="396.7" y="190" font-size="6.6" text-anchor="middle" fill="#b8243f" dominant-baseline="central" textLength="67.4" lengthAdjust="spacingAndGlyphs" stroke="#b8243f" stroke-width="0.1">75 mg/kg; twice daily</text>
<text x="397.1" y="223.7" font-size="6.6" text-anchor="middle" fill="#b8243f" dominant-baseline="central" textLength="67.3" lengthAdjust="spacingAndGlyphs" stroke="#b8243f" stroke-width="0.1">75 mg/kg; twice daily</text>
<rect x="352.2" y="228.9" width="78.6" height="2.7" fill="#c8c8c8"/>
<rect x="352.2" y="231.6" width="78.6" height="1.4" fill="#5e5e5e"/>
<rect x="352.2" y="233" width="78.6" height="0.8" fill="#c8c8c8"/>
<rect x="352.2" y="228.9" width="78.6" height="4.9" fill="url(#vh)" opacity="0.12"/>
<line x1="349.6" y1="234.6" x2="432.2" y2="234.6" stroke="#555" stroke-width="0.9"/>
<polygon points="434.8,234.6 432.2,235.69 432.2,233.51" fill="#555"/>
<text x="391.5" y="240" font-size="6.6" text-anchor="middle" fill="#222" dominant-baseline="central" textLength="24.1" lengthAdjust="spacingAndGlyphs" stroke="#222" stroke-width="0.1">30 days</text>
<text x="456.2" y="196" font-size="6.8" text-anchor="middle" fill="#222" dominant-baseline="central" textLength="30.9" lengthAdjust="spacingAndGlyphs" stroke="#222" stroke-width="0.1">Burden of</text>
<text x="455.6" y="204.5" font-size="6.8" text-anchor="middle" fill="#222" dominant-baseline="central" textLength="23" lengthAdjust="spacingAndGlyphs" stroke="#222" stroke-width="0.1">disease</text>
<text x="455.6" y="212.6" font-size="6.8" text-anchor="middle" fill="#222" dominant-baseline="central" textLength="24.5" lengthAdjust="spacingAndGlyphs" stroke="#222" stroke-width="0.1">analysis</text>
<line x1="36.8" y1="289.5" x2="36.8" y2="352.4" stroke="#1a1a1a" stroke-width="1.2"/>
<line x1="33.9" y1="351.9" x2="36.8" y2="351.9" stroke="#1a1a1a" stroke-width="1"/>
<text x="31" y="351.9" font-size="6.8" text-anchor="end" fill="#262626" dominant-baseline="central" textLength="3.21" lengthAdjust="spacingAndGlyphs" stroke="#262626" stroke-width="0.1">0</text>
<line x1="33.9" y1="336.9" x2="36.8" y2="336.9" stroke="#1a1a1a" stroke-width="1"/>
<text x="31" y="336.9" font-size="6.8" text-anchor="end" fill="#262626" dominant-baseline="central" textLength="6.43" lengthAdjust="spacingAndGlyphs" stroke="#262626" stroke-width="0.1">20</text>
<line x1="33.9" y1="321.9" x2="36.8" y2="321.9" stroke="#1a1a1a" stroke-width="1"/>
<text x="31" y="321.9" font-size="6.8" text-anchor="end" fill="#262626" dominant-baseline="central" textLength="6.43" lengthAdjust="spacingAndGlyphs" stroke="#262626" stroke-width="0.1">40</text>
<line x1="33.9" y1="306.9" x2="36.8" y2="306.9" stroke="#1a1a1a" stroke-width="1"/>
<text x="31" y="306.9" font-size="6.8" text-anchor="end" fill="#262626" dominant-baseline="central" textLength="6.43" lengthAdjust="spacingAndGlyphs" stroke="#262626" stroke-width="0.1">60</text>
<line x1="33.9" y1="291.9" x2="36.8" y2="291.9" stroke="#1a1a1a" stroke-width="1"/>
<text x="31" y="291.9" font-size="6.8" text-anchor="end" fill="#262626" dominant-baseline="central" textLength="6.43" lengthAdjust="spacingAndGlyphs" stroke="#262626" stroke-width="0.1">80</text>
<line x1="36.25" y1="351.9" x2="110.6" y2="351.9" stroke="#1a1a1a" stroke-width="1.2"/>
<line x1="36.8" y1="351.9" x2="36.8" y2="354.8" stroke="#1a1a1a" stroke-width="1"/>
<text x="36.8" y="361.4" font-size="6.8" text-anchor="middle" fill="#262626" dominant-baseline="central" textLength="3.21" lengthAdjust="spacingAndGlyphs" stroke="#262626" stroke-width="0.1">0</text>
<line x1="60.33" y1="351.9" x2="60.33" y2="354.8" stroke="#1a1a1a" stroke-width="1"/>
<text x="60.33" y="361.4" font-size="6.8" text-anchor="middle" fill="#262626" dominant-baseline="central" textLength="6.43" lengthAdjust="spacingAndGlyphs" stroke="#262626" stroke-width="0.1">10</text>
<line x1="83.86" y1="351.9" x2="83.86" y2="354.8" stroke="#1a1a1a" stroke-width="1"/>
<text x="83.86" y="361.4" font-size="6.8" text-anchor="middle" fill="#262626" dominant-baseline="central" textLength="6.43" lengthAdjust="spacingAndGlyphs" stroke="#262626" stroke-width="0.1">20</text>
<line x1="107.39" y1="351.9" x2="107.39" y2="354.8" stroke="#1a1a1a" stroke-width="1"/>
<text x="107.39" y="361.4" font-size="6.8" text-anchor="middle" fill="#262626" dominant-baseline="central" textLength="6.43" lengthAdjust="spacingAndGlyphs" stroke="#262626" stroke-width="0.1">30</text>
<text x="73.8" y="282.8" font-size="6.27" text-anchor="middle" fill="#333" dominant-baseline="central" textLength="41.3" lengthAdjust="spacingAndGlyphs" stroke="#333" stroke-width="0.05">PDX-sample #1:</text>
<line x1="53.15" y1="285.3" x2="94.45" y2="285.3" stroke="#333" stroke-width="0.5"/>
<text x="74.2" y="372.4" font-size="9.3" text-anchor="middle" fill="#262626" dominant-baseline="central" textLength="41.6" lengthAdjust="spacingAndGlyphs" stroke="#262626" stroke-width="0.1">Days of dosing</text>
<text x="15.5" y="320.4" font-size="9.3" text-anchor="middle" fill="#262626" dominant-baseline="central" textLength="36.8" lengthAdjust="spacingAndGlyphs" transform="rotate(-90 15.5 320.4)" stroke="#262626" stroke-width="0.1">PB CD45+ %</text>
<polyline points="36.8,351.52 67.39,333.9 86.21,327.15 102.68,300.9" fill="none" stroke="#2c4a8c" stroke-width="1" stroke-linejoin="round"/>
<polyline points="36.8,351.52 67.39,335.4 86.21,323.4 102.68,302.4" fill="none" stroke="#2c4a8c" stroke-width="1" stroke-linejoin="round"/>
<polyline points="36.8,351.52 67.39,338.4 86.21,320.4 102.68,303.9" fill="none" stroke="#2c4a8c" stroke-width="1" stroke-linejoin="round"/>
<polyline points="36.8,351.52 67.39,342.15 86.21,318.9 102.68,315.9" fill="none" stroke="#2c4a8c" stroke-width="1" stroke-linejoin="round"/>
<polyline points="36.8,351.52 67.39,348.15 86.21,321.9 102.68,303.15" fill="none" stroke="#2c4a8c" stroke-width="1" stroke-linejoin="round"/>
<polyline points="36.8,351.52 67.39,345.9 86.21,314.4 102.68,347.4" fill="none" stroke="#c21f40" stroke-width="1" stroke-linejoin="round"/>
<polyline points="36.8,351.52 67.39,344.4 86.21,318.15 102.68,339.15" fill="none" stroke="#c21f40" stroke-width="1" stroke-linejoin="round"/>
<polyline points="36.8,351.52 67.39,342.9 86.21,323.4 102.68,340.65" fill="none" stroke="#c21f40" stroke-width="1" stroke-linejoin="round"/>
<polyline points="36.8,351.52 67.39,341.4 86.21,325.65 102.68,347.4" fill="none" stroke="#c21f40" stroke-width="1" stroke-linejoin="round"/>
<circle cx="36.8" cy="351.52" r="1.7" fill="#1d3566" stroke="#0b1630" stroke-width="0.35"/>
<circle cx="67.39" cy="333.9" r="1.7" fill="#1d3566" stroke="#0b1630" stroke-width="0.35"/>
<circle cx="86.21" cy="327.15" r="1.7" fill="#1d3566" stroke="#0b1630" stroke-width="0.35"/>
<circle cx="102.68" cy="300.9" r="1.7" fill="#1d3566" stroke="#0b1630" stroke-width="0.35"/>
<circle cx="36.8" cy="351.52" r="1.7" fill="#1d3566" stroke="#0b1630" stroke-width="0.35"/>
<circle cx="67.39" cy="335.4" r="1.7" fill="#1d3566" stroke="#0b1630" stroke-width="0.35"/>
<circle cx="86.21" cy="323.4" r="1.7" fill="#1d3566" stroke="#0b1630" stroke-width="0.35"/>
<circle cx="102.68" cy="302.4" r="1.7" fill="#1d3566" stroke="#0b1630" stroke-width="0.35"/>
<circle cx="36.8" cy="351.52" r="1.7" fill="#1d3566" stroke="#0b1630" stroke-width="0.35"/>
<circle cx="67.39" cy="338.4" r="1.7" fill="#1d3566" stroke="#0b1630" stroke-width="0.35"/>
<circle cx="86.21" cy="320.4" r="1.7" fill="#1d3566" stroke="#0b1630" stroke-width="0.35"/>
<circle cx="102.68" cy="303.9" r="1.7" fill="#1d3566" stroke="#0b1630" stroke-width="0.35"/>
<circle cx="36.8" cy="351.52" r="1.7" fill="#1d3566" stroke="#0b1630" stroke-width="0.35"/>
<circle cx="67.39" cy="342.15" r="1.7" fill="#1d3566" stroke="#0b1630" stroke-width="0.35"/>
<circle cx="86.21" cy="318.9" r="1.7" fill="#1d3566" stroke="#0b1630" stroke-width="0.35"/>
<circle cx="102.68" cy="315.9" r="1.7" fill="#1d3566" stroke="#0b1630" stroke-width="0.35"/>
<circle cx="36.8" cy="351.52" r="1.7" fill="#1d3566" stroke="#0b1630" stroke-width="0.35"/>
<circle cx="67.39" cy="348.15" r="1.7" fill="#1d3566" stroke="#0b1630" stroke-width="0.35"/>
<circle cx="86.21" cy="321.9" r="1.7" fill="#1d3566" stroke="#0b1630" stroke-width="0.35"/>
<circle cx="102.68" cy="303.15" r="1.7" fill="#1d3566" stroke="#0b1630" stroke-width="0.35"/>
<circle cx="36.8" cy="351.52" r="1.7" fill="#8a1024" stroke="#3a0008" stroke-width="0.35"/>
<circle cx="67.39" cy="345.9" r="1.7" fill="#8a1024" stroke="#3a0008" stroke-width="0.35"/>
<circle cx="86.21" cy="314.4" r="1.7" fill="#8a1024" stroke="#3a0008" stroke-width="0.35"/>
<circle cx="102.68" cy="347.4" r="1.7" fill="#8a1024" stroke="#3a0008" stroke-width="0.35"/>
<circle cx="36.8" cy="351.52" r="1.7" fill="#8a1024" stroke="#3a0008" stroke-width="0.35"/>
<circle cx="67.39" cy="344.4" r="1.7" fill="#8a1024" stroke="#3a0008" stroke-width="0.35"/>
<circle cx="86.21" cy="318.15" r="1.7" fill="#8a1024" stroke="#3a0008" stroke-width="0.35"/>
<circle cx="102.68" cy="339.15" r="1.7" fill="#8a1024" stroke="#3a0008" stroke-width="0.35"/>
<circle cx="36.8" cy="351.52" r="1.7" fill="#8a1024" stroke="#3a0008" stroke-width="0.35"/>
<circle cx="67.39" cy="342.9" r="1.7" fill="#8a1024" stroke="#3a0008" stroke-width="0.35"/>
<circle cx="86.21" cy="323.4" r="1.7" fill="#8a1024" stroke="#3a0008" stroke-width="0.35"/>
<circle cx="102.68" cy="340.65" r="1.7" fill="#8a1024" stroke="#3a0008" stroke-width="0.35"/>
<circle cx="36.8" cy="351.52" r="1.7" fill="#8a1024" stroke="#3a0008" stroke-width="0.35"/>
<circle cx="67.39" cy="341.4" r="1.7" fill="#8a1024" stroke="#3a0008" stroke-width="0.35"/>
<circle cx="86.21" cy="325.65" r="1.7" fill="#8a1024" stroke="#3a0008" stroke-width="0.35"/>
<circle cx="102.68" cy="347.4" r="1.7" fill="#8a1024" stroke="#3a0008" stroke-width="0.35"/>
<line x1="40.8" y1="298.1" x2="48.4" y2="298.1" stroke="#5f80c2" stroke-width="0.9"/>
<circle cx="44.6" cy="298.1" r="1.75" fill="#1d3566" stroke="#0b1630" stroke-width="0.35"/>
<line x1="40.8" y1="305" x2="48.4" y2="305" stroke="#cc5270" stroke-width="0.9"/>
<circle cx="44.6" cy="305" r="1.75" fill="#8a1024" stroke="#3a0008" stroke-width="0.35"/>
<text x="51.3" y="298.1" font-size="6" text-anchor="start" fill="#262626" dominant-baseline="central" textLength="17.8" lengthAdjust="spacingAndGlyphs" stroke="#262626" stroke-width="0.1">vehicle</text>
<text x="51.3" y="305" font-size="6" text-anchor="start" fill="#262626" dominant-baseline="central" textLength="36.2" lengthAdjust="spacingAndGlyphs" stroke="#262626" stroke-width="0.1">compound 10</text>
<text x="40.1" y="317.4" font-size="4.6" text-anchor="start" fill="#444" dominant-baseline="central" textLength="8" lengthAdjust="spacingAndGlyphs" stroke="#444" stroke-width="0.1">n=4</text>
<line x1="111.3" y1="309.2" x2="111.3" y2="344.5" stroke="#333" stroke-width="0.9"/>
<line x1="109.7" y1="309.2" x2="111.3" y2="309.2" stroke="#333" stroke-width="0.9"/>
<line x1="109.7" y1="344.5" x2="111.3" y2="344.5" stroke="#333" stroke-width="0.9"/>
<text x="113" y="326" font-size="4.5" text-anchor="start" fill="#444" dominant-baseline="central" stroke="#444" stroke-width="0.1">****</text>
<line x1="155.3" y1="289.5" x2="155.3" y2="352.4" stroke="#1a1a1a" stroke-width="1.2"/>
<line x1="152.4" y1="351.9" x2="155.3" y2="351.9" stroke="#1a1a1a" stroke-width="1"/>
<text x="149.4" y="351.9" font-size="6.8" text-anchor="end" fill="#262626" dominant-baseline="central" textLength="3.21" lengthAdjust="spacingAndGlyphs" stroke="#262626" stroke-width="0.1">0</text>
<line x1="152.4" y1="336.9" x2="155.3" y2="336.9" stroke="#1a1a1a" stroke-width="1"/>
<text x="149.4" y="336.9" font-size="6.8" text-anchor="end" fill="#262626" dominant-baseline="central" textLength="6.43" lengthAdjust="spacingAndGlyphs" stroke="#262626" stroke-width="0.1">10</text>
<line x1="152.4" y1="321.9" x2="155.3" y2="321.9" stroke="#1a1a1a" stroke-width="1"/>
<text x="149.4" y="321.9" font-size="6.8" text-anchor="end" fill="#262626" dominant-baseline="central" textLength="6.43" lengthAdjust="spacingAndGlyphs" stroke="#262626" stroke-width="0.1">20</text>
<line x1="152.4" y1="306.9" x2="155.3" y2="306.9" stroke="#1a1a1a" stroke-width="1"/>
<text x="149.4" y="306.9" font-size="6.8" text-anchor="end" fill="#262626" dominant-baseline="central" textLength="6.43" lengthAdjust="spacingAndGlyphs" stroke="#262626" stroke-width="0.1">30</text>
<line x1="152.4" y1="291.9" x2="155.3" y2="291.9" stroke="#1a1a1a" stroke-width="1"/>
<text x="149.4" y="291.9" font-size="6.8" text-anchor="end" fill="#262626" dominant-baseline="central" textLength="6.43" lengthAdjust="spacingAndGlyphs" stroke="#262626" stroke-width="0.1">40</text>
<line x1="154.75" y1="351.9" x2="229" y2="351.9" stroke="#1a1a1a" stroke-width="1.2"/>
<line x1="156" y1="351.9" x2="156" y2="354.8" stroke="#1a1a1a" stroke-width="1"/>
<text x="156" y="361.4" font-size="6.8" text-anchor="middle" fill="#262626" dominant-baseline="central" textLength="3.21" lengthAdjust="spacingAndGlyphs" stroke="#262626" stroke-width="0.1">0</text>
<line x1="179.43" y1="351.9" x2="179.43" y2="354.8" stroke="#1a1a1a" stroke-width="1"/>
<text x="179.43" y="361.4" font-size="6.8" text-anchor="middle" fill="#262626" dominant-baseline="central" textLength="6.43" lengthAdjust="spacingAndGlyphs" stroke="#262626" stroke-width="0.1">10</text>
<line x1="202.86" y1="351.9" x2="202.86" y2="354.8" stroke="#1a1a1a" stroke-width="1"/>
<text x="202.86" y="361.4" font-size="6.8" text-anchor="middle" fill="#262626" dominant-baseline="central" textLength="6.43" lengthAdjust="spacingAndGlyphs" stroke="#262626" stroke-width="0.1">20</text>
<line x1="226.29" y1="351.9" x2="226.29" y2="354.8" stroke="#1a1a1a" stroke-width="1"/>
<text x="226.29" y="361.4" font-size="6.8" text-anchor="middle" fill="#262626" dominant-baseline="central" textLength="6.43" lengthAdjust="spacingAndGlyphs" stroke="#262626" stroke-width="0.1">30</text>
<text x="192.4" y="282.8" font-size="6.27" text-anchor="middle" fill="#333" dominant-baseline="central" textLength="41.3" lengthAdjust="spacingAndGlyphs" stroke="#333" stroke-width="0.05">PDX-sample #2:</text>
<line x1="171.75" y1="285.3" x2="213.05" y2="285.3" stroke="#333" stroke-width="0.5"/>
<text x="192.65" y="372.4" font-size="9.3" text-anchor="middle" fill="#262626" dominant-baseline="central" textLength="41.6" lengthAdjust="spacingAndGlyphs" stroke="#262626" stroke-width="0.1">Days of dosing</text>
<text x="134.2" y="320.4" font-size="9.3" text-anchor="middle" fill="#262626" dominant-baseline="central" textLength="36.8" lengthAdjust="spacingAndGlyphs" transform="rotate(-90 134.2 320.4)" stroke="#262626" stroke-width="0.1">PB CD45+ %</text>
<polyline points="156,351.15 188.8,321.15 209.89,316.95 226.29,327.9" fill="none" stroke="#2c4a8c" stroke-width="1" stroke-linejoin="round"/>
<polyline points="156,351.15 188.8,332.4 209.89,331.65 226.29,322.65" fill="none" stroke="#2c4a8c" stroke-width="1" stroke-linejoin="round"/>
<polyline points="156,351.15 188.8,344.4 209.89,327.15 226.29,330.9" fill="none" stroke="#2c4a8c" stroke-width="1" stroke-linejoin="round"/>
<polyline points="156,351.15 188.8,333.15 209.89,330.9 226.29,333.15" fill="none" stroke="#2c4a8c" stroke-width="1" stroke-linejoin="round"/>
<polyline points="156,351.15 188.8,324.15 209.89,339.9 226.29,351.9" fill="none" stroke="#c21f40" stroke-width="1" stroke-linejoin="round"/>
<polyline points="156,351.15 188.8,333.9 209.89,344.4 226.29,351.9" fill="none" stroke="#c21f40" stroke-width="1" stroke-linejoin="round"/>
<polyline points="156,351.15 188.8,336.15 209.89,339.15 226.29,351.9" fill="none" stroke="#c21f40" stroke-width="1" stroke-linejoin="round"/>
<polyline points="156,351.15 188.8,337.65 209.89,342.9 226.29,351.9" fill="none" stroke="#c21f40" stroke-width="1" stroke-linejoin="round"/>
<polygon points="156,348.91 153.86,352.58 158.14,352.58" fill="#1d3566"/>
<polygon points="188.8,318.91 186.66,322.58 190.94,322.58" fill="#1d3566"/>
<polygon points="209.89,314.71 207.75,318.38 212.03,318.38" fill="#1d3566"/>
<polygon points="226.29,325.66 224.15,329.33 228.43,329.33" fill="#1d3566"/>
<polygon points="156,348.91 153.86,352.58 158.14,352.58" fill="#1d3566"/>
<polygon points="188.8,330.16 186.66,333.83 190.94,333.83" fill="#1d3566"/>
<polygon points="209.89,329.41 207.75,333.08 212.03,333.08" fill="#1d3566"/>
<polygon points="226.29,320.41 224.15,324.08 228.43,324.08" fill="#1d3566"/>
<polygon points="156,348.91 153.86,352.58 158.14,352.58" fill="#1d3566"/>
<polygon points="188.8,342.16 186.66,345.83 190.94,345.83" fill="#1d3566"/>
<polygon points="209.89,324.91 207.75,328.58 212.03,328.58" fill="#1d3566"/>
<polygon points="226.29,328.66 224.15,332.33 228.43,332.33" fill="#1d3566"/>
<polygon points="156,348.91 153.86,352.58 158.14,352.58" fill="#1d3566"/>
<polygon points="188.8,330.91 186.66,334.58 190.94,334.58" fill="#1d3566"/>
<polygon points="209.89,328.66 207.75,332.33 212.03,332.33" fill="#1d3566"/>
<polygon points="226.29,330.91 224.15,334.58 228.43,334.58" fill="#1d3566"/>
<polygon points="156,348.91 153.86,352.58 158.14,352.58" fill="#8a1024"/>
<polygon points="188.8,321.91 186.66,325.58 190.94,325.58" fill="#8a1024"/>
<polygon points="209.89,337.66 207.75,341.33 212.03,341.33" fill="#8a1024"/>
<polygon points="226.29,349.66 224.15,353.33 228.43,353.33" fill="#8a1024"/>
<polygon points="156,348.91 153.86,352.58 158.14,352.58" fill="#8a1024"/>
<polygon points="188.8,331.66 186.66,335.33 190.94,335.33" fill="#8a1024"/>
<polygon points="209.89,342.16 207.75,345.83 212.03,345.83" fill="#8a1024"/>
<polygon points="226.29,349.66 224.15,353.33 228.43,353.33" fill="#8a1024"/>
<polygon points="156,348.91 153.86,352.58 158.14,352.58" fill="#8a1024"/>
<polygon points="188.8,333.91 186.66,337.58 190.94,337.58" fill="#8a1024"/>
<polygon points="209.89,336.91 207.75,340.58 212.03,340.58" fill="#8a1024"/>
<polygon points="226.29,349.66 224.15,353.33 228.43,353.33" fill="#8a1024"/>
<polygon points="156,348.91 153.86,352.58 158.14,352.58" fill="#8a1024"/>
<polygon points="188.8,335.41 186.66,339.08 190.94,339.08" fill="#8a1024"/>
<polygon points="209.89,340.66 207.75,344.33 212.03,344.33" fill="#8a1024"/>
<polygon points="226.29,349.66 224.15,353.33 228.43,353.33" fill="#8a1024"/>
<line x1="159.3" y1="298.1" x2="166.9" y2="298.1" stroke="#5f80c2" stroke-width="0.9"/>
<polygon points="163.1,295.79 160.89,299.57 165.31,299.57" fill="#1d3566"/>
<line x1="159.3" y1="305" x2="166.9" y2="305" stroke="#cc5270" stroke-width="0.9"/>
<polygon points="163.1,302.69 160.89,306.47 165.31,306.47" fill="#8a1024"/>
<text x="169.8" y="298.1" font-size="6" text-anchor="start" fill="#262626" dominant-baseline="central" textLength="17.8" lengthAdjust="spacingAndGlyphs" stroke="#262626" stroke-width="0.1">vehicle</text>
<text x="169.8" y="305" font-size="6" text-anchor="start" fill="#262626" dominant-baseline="central" textLength="36.2" lengthAdjust="spacingAndGlyphs" stroke="#262626" stroke-width="0.1">compound 10</text>
<text x="158.8" y="317.8" font-size="4.6" text-anchor="start" fill="#444" dominant-baseline="central" textLength="8" lengthAdjust="spacingAndGlyphs" stroke="#444" stroke-width="0.1">n=4</text>
<line x1="232.7" y1="328.2" x2="232.7" y2="351.2" stroke="#333" stroke-width="0.9"/>
<line x1="231.1" y1="328.2" x2="232.7" y2="328.2" stroke="#333" stroke-width="0.9"/>
<line x1="231.1" y1="351.2" x2="232.7" y2="351.2" stroke="#333" stroke-width="0.9"/>
<text x="234.5" y="340" font-size="4.5" text-anchor="start" fill="#444" dominant-baseline="central" stroke="#444" stroke-width="0.1">****</text>
<line x1="36.8" y1="405" x2="36.8" y2="467.7" stroke="#1a1a1a" stroke-width="1.2"/>
<line x1="33.9" y1="467.2" x2="36.8" y2="467.2" stroke="#1a1a1a" stroke-width="1"/>
<text x="31" y="467.2" font-size="6.8" text-anchor="end" fill="#262626" dominant-baseline="central" textLength="3.21" lengthAdjust="spacingAndGlyphs" stroke="#262626" stroke-width="0.1">0</text>
<line x1="33.9" y1="447.1" x2="36.8" y2="447.1" stroke="#1a1a1a" stroke-width="1"/>
<text x="31" y="447.1" font-size="6.8" text-anchor="end" fill="#262626" dominant-baseline="central" textLength="6.43" lengthAdjust="spacingAndGlyphs" stroke="#262626" stroke-width="0.1">10</text>
<line x1="33.9" y1="427" x2="36.8" y2="427" stroke="#1a1a1a" stroke-width="1"/>
<text x="31" y="427" font-size="6.8" text-anchor="end" fill="#262626" dominant-baseline="central" textLength="6.43" lengthAdjust="spacingAndGlyphs" stroke="#262626" stroke-width="0.1">20</text>
<line x1="33.9" y1="406.9" x2="36.8" y2="406.9" stroke="#1a1a1a" stroke-width="1"/>
<text x="31" y="406.9" font-size="6.8" text-anchor="end" fill="#262626" dominant-baseline="central" textLength="6.43" lengthAdjust="spacingAndGlyphs" stroke="#262626" stroke-width="0.1">30</text>
<line x1="36.25" y1="467.2" x2="110.6" y2="467.2" stroke="#1a1a1a" stroke-width="1.2"/>
<line x1="36.8" y1="467.2" x2="36.8" y2="470.1" stroke="#1a1a1a" stroke-width="1"/>
<text x="36.8" y="476.7" font-size="6.8" text-anchor="middle" fill="#262626" dominant-baseline="central" textLength="3.21" lengthAdjust="spacingAndGlyphs" stroke="#262626" stroke-width="0.1">0</text>
<line x1="60.33" y1="467.2" x2="60.33" y2="470.1" stroke="#1a1a1a" stroke-width="1"/>
<text x="60.33" y="476.7" font-size="6.8" text-anchor="middle" fill="#262626" dominant-baseline="central" textLength="6.43" lengthAdjust="spacingAndGlyphs" stroke="#262626" stroke-width="0.1">10</text>
<line x1="83.86" y1="467.2" x2="83.86" y2="470.1" stroke="#1a1a1a" stroke-width="1"/>
<text x="83.86" y="476.7" font-size="6.8" text-anchor="middle" fill="#262626" dominant-baseline="central" textLength="6.43" lengthAdjust="spacingAndGlyphs" stroke="#262626" stroke-width="0.1">20</text>
<line x1="107.39" y1="467.2" x2="107.39" y2="470.1" stroke="#1a1a1a" stroke-width="1"/>
<text x="107.39" y="476.7" font-size="6.8" text-anchor="middle" fill="#262626" dominant-baseline="central" textLength="6.43" lengthAdjust="spacingAndGlyphs" stroke="#262626" stroke-width="0.1">30</text>
<text x="74.2" y="398.1" font-size="6.27" text-anchor="middle" fill="#333" dominant-baseline="central" textLength="41.3" lengthAdjust="spacingAndGlyphs" stroke="#333" stroke-width="0.05">PDX-sample #1:</text>
<line x1="53.55" y1="400.6" x2="94.85" y2="400.6" stroke="#333" stroke-width="0.5"/>
<text x="74.2" y="487.7" font-size="9.3" text-anchor="middle" fill="#262626" dominant-baseline="central" textLength="41.6" lengthAdjust="spacingAndGlyphs" stroke="#262626" stroke-width="0.1">Days of dosing</text>
<text x="15.5" y="436" font-size="9.3" text-anchor="middle" fill="#262626" dominant-baseline="central" textLength="36.8" lengthAdjust="spacingAndGlyphs" transform="rotate(-90 15.5 436)" stroke="#262626" stroke-width="0.1">PB CD45+ %</text>
<polyline points="36.8,462.18 72.09,452.12 105.04,419.96" fill="none" stroke="#2c4a8c" stroke-width="1" stroke-linejoin="round"/>
<polyline points="36.8,463.18 72.09,443.08 105.04,446.09" fill="none" stroke="#2c4a8c" stroke-width="1" stroke-linejoin="round"/>
<polyline points="36.8,461.17 72.09,453.13 105.04,446.5" fill="none" stroke="#2c4a8c" stroke-width="1" stroke-linejoin="round"/>
<polyline points="36.8,463.18 72.09,433.03 105.04,461.17" fill="none" stroke="#c21f40" stroke-width="1" stroke-linejoin="round"/>
<polyline points="36.8,462.18 72.09,443.08 105.04,465.19" fill="none" stroke="#c21f40" stroke-width="1" stroke-linejoin="round"/>
<polyline points="36.8,461.17 72.09,462.18 105.04,463.18" fill="none" stroke="#c21f40" stroke-width="1" stroke-linejoin="round"/>
<circle cx="36.8" cy="462.18" r="1.7" fill="#1d3566" stroke="#0b1630" stroke-width="0.35"/>
<circle cx="72.09" cy="452.12" r="1.7" fill="#1d3566" stroke="#0b1630" stroke-width="0.35"/>
<circle cx="105.04" cy="419.96" r="1.7" fill="#1d3566" stroke="#0b1630" stroke-width="0.35"/>
<circle cx="36.8" cy="463.18" r="1.7" fill="#1d3566" stroke="#0b1630" stroke-width="0.35"/>
<circle cx="72.09" cy="443.08" r="1.7" fill="#1d3566" stroke="#0b1630" stroke-width="0.35"/>
<circle cx="105.04" cy="446.09" r="1.7" fill="#1d3566" stroke="#0b1630" stroke-width="0.35"/>
<circle cx="36.8" cy="461.17" r="1.7" fill="#1d3566" stroke="#0b1630" stroke-width="0.35"/>
<circle cx="72.09" cy="453.13" r="1.7" fill="#1d3566" stroke="#0b1630" stroke-width="0.35"/>
<circle cx="105.04" cy="446.5" r="1.7" fill="#1d3566" stroke="#0b1630" stroke-width="0.35"/>
<circle cx="36.8" cy="463.18" r="1.7" fill="#8a1024" stroke="#3a0008" stroke-width="0.35"/>
<circle cx="72.09" cy="433.03" r="1.7" fill="#8a1024" stroke="#3a0008" stroke-width="0.35"/>
<circle cx="105.04" cy="461.17" r="1.7" fill="#8a1024" stroke="#3a0008" stroke-width="0.35"/>
<circle cx="36.8" cy="462.18" r="1.7" fill="#8a1024" stroke="#3a0008" stroke-width="0.35"/>
<circle cx="72.09" cy="443.08" r="1.7" fill="#8a1024" stroke="#3a0008" stroke-width="0.35"/>
<circle cx="105.04" cy="465.19" r="1.7" fill="#8a1024" stroke="#3a0008" stroke-width="0.35"/>
<circle cx="36.8" cy="461.17" r="1.7" fill="#8a1024" stroke="#3a0008" stroke-width="0.35"/>
<circle cx="72.09" cy="462.18" r="1.7" fill="#8a1024" stroke="#3a0008" stroke-width="0.35"/>
<circle cx="105.04" cy="463.18" r="1.7" fill="#8a1024" stroke="#3a0008" stroke-width="0.35"/>
<line x1="40.8" y1="413.3" x2="48.4" y2="413.3" stroke="#5f80c2" stroke-width="0.9"/>
<circle cx="44.6" cy="413.3" r="1.75" fill="#1d3566" stroke="#0b1630" stroke-width="0.35"/>
<line x1="40.8" y1="420.3" x2="48.4" y2="420.3" stroke="#cc5270" stroke-width="0.9"/>
<circle cx="44.6" cy="420.3" r="1.75" fill="#8a1024" stroke="#3a0008" stroke-width="0.35"/>
<text x="51.3" y="413.3" font-size="6" text-anchor="start" fill="#262626" dominant-baseline="central" textLength="17.8" lengthAdjust="spacingAndGlyphs" stroke="#262626" stroke-width="0.1">vehicle</text>
<text x="51.3" y="420.3" font-size="6" text-anchor="start" fill="#262626" dominant-baseline="central" textLength="36.2" lengthAdjust="spacingAndGlyphs" stroke="#262626" stroke-width="0.1">compound 11</text>
<text x="40.1" y="431.3" font-size="4.6" text-anchor="start" fill="#444" dominant-baseline="central" textLength="8" lengthAdjust="spacingAndGlyphs" stroke="#444" stroke-width="0.1">n=3</text>
<line x1="111.3" y1="431.9" x2="111.3" y2="462.4" stroke="#333" stroke-width="0.9"/>
<line x1="109.7" y1="431.9" x2="111.3" y2="431.9" stroke="#333" stroke-width="0.9"/>
<line x1="109.7" y1="462.4" x2="111.3" y2="462.4" stroke="#333" stroke-width="0.9"/>
<text x="114" y="448.5" font-size="4.5" text-anchor="start" fill="#444" dominant-baseline="central" stroke="#444" stroke-width="0.1">*</text>
<line x1="155.3" y1="405" x2="155.3" y2="467.9" stroke="#1a1a1a" stroke-width="1.2"/>
<line x1="152.4" y1="467.4" x2="155.3" y2="467.4" stroke="#1a1a1a" stroke-width="1"/>
<text x="149.4" y="467.4" font-size="6.8" text-anchor="end" fill="#262626" dominant-baseline="central" textLength="3.21" lengthAdjust="spacingAndGlyphs" stroke="#262626" stroke-width="0.1">0</text>
<line x1="152.4" y1="455.3" x2="155.3" y2="455.3" stroke="#1a1a1a" stroke-width="1"/>
<text x="149.4" y="455.3" font-size="6.8" text-anchor="end" fill="#262626" dominant-baseline="central" textLength="3.21" lengthAdjust="spacingAndGlyphs" stroke="#262626" stroke-width="0.1">2</text>
<line x1="152.4" y1="443.2" x2="155.3" y2="443.2" stroke="#1a1a1a" stroke-width="1"/>
<text x="149.4" y="443.2" font-size="6.8" text-anchor="end" fill="#262626" dominant-baseline="central" textLength="3.21" lengthAdjust="spacingAndGlyphs" stroke="#262626" stroke-width="0.1">4</text>
<line x1="152.4" y1="431.1" x2="155.3" y2="431.1" stroke="#1a1a1a" stroke-width="1"/>
<text x="149.4" y="431.1" font-size="6.8" text-anchor="end" fill="#262626" dominant-baseline="central" textLength="3.21" lengthAdjust="spacingAndGlyphs" stroke="#262626" stroke-width="0.1">6</text>
<line x1="152.4" y1="419" x2="155.3" y2="419" stroke="#1a1a1a" stroke-width="1"/>
<text x="149.4" y="419" font-size="6.8" text-anchor="end" fill="#262626" dominant-baseline="central" textLength="3.21" lengthAdjust="spacingAndGlyphs" stroke="#262626" stroke-width="0.1">8</text>
<line x1="152.4" y1="406.9" x2="155.3" y2="406.9" stroke="#1a1a1a" stroke-width="1"/>
<text x="149.4" y="406.9" font-size="6.8" text-anchor="end" fill="#262626" dominant-baseline="central" textLength="6.43" lengthAdjust="spacingAndGlyphs" stroke="#262626" stroke-width="0.1">10</text>
<line x1="154.75" y1="467.4" x2="229" y2="467.4" stroke="#1a1a1a" stroke-width="1.2"/>
<line x1="156" y1="467.4" x2="156" y2="470.3" stroke="#1a1a1a" stroke-width="1"/>
<text x="156" y="476.7" font-size="6.8" text-anchor="middle" fill="#262626" dominant-baseline="central" textLength="3.21" lengthAdjust="spacingAndGlyphs" stroke="#262626" stroke-width="0.1">0</text>
<line x1="179.43" y1="467.4" x2="179.43" y2="470.3" stroke="#1a1a1a" stroke-width="1"/>
<text x="179.43" y="476.7" font-size="6.8" text-anchor="middle" fill="#262626" dominant-baseline="central" textLength="6.43" lengthAdjust="spacingAndGlyphs" stroke="#262626" stroke-width="0.1">10</text>
<line x1="202.86" y1="467.4" x2="202.86" y2="470.3" stroke="#1a1a1a" stroke-width="1"/>
<text x="202.86" y="476.7" font-size="6.8" text-anchor="middle" fill="#262626" dominant-baseline="central" textLength="6.43" lengthAdjust="spacingAndGlyphs" stroke="#262626" stroke-width="0.1">20</text>
<line x1="226.29" y1="467.4" x2="226.29" y2="470.3" stroke="#1a1a1a" stroke-width="1"/>
<text x="226.29" y="476.7" font-size="6.8" text-anchor="middle" fill="#262626" dominant-baseline="central" textLength="6.43" lengthAdjust="spacingAndGlyphs" stroke="#262626" stroke-width="0.1">30</text>
<text x="192.4" y="398.4" font-size="6.27" text-anchor="middle" fill="#333" dominant-baseline="central" textLength="41.3" lengthAdjust="spacingAndGlyphs" stroke="#333" stroke-width="0.05">PDX-sample #2:</text>
<line x1="171.75" y1="400.9" x2="213.05" y2="400.9" stroke="#333" stroke-width="0.5"/>
<text x="192.65" y="487.7" font-size="9.3" text-anchor="middle" fill="#262626" dominant-baseline="central" textLength="41.6" lengthAdjust="spacingAndGlyphs" stroke="#262626" stroke-width="0.1">Days of dosing</text>
<text x="134.2" y="436" font-size="9.3" text-anchor="middle" fill="#262626" dominant-baseline="central" textLength="36.8" lengthAdjust="spacingAndGlyphs" transform="rotate(-90 134.2 436)" stroke="#262626" stroke-width="0.1">PB CD45+ %</text>
<polyline points="156,448.04 186.46,446.22 219.26,443.8" fill="none" stroke="#2c4a8c" stroke-width="1" stroke-linejoin="round"/>
<polyline points="156,450.46 186.46,455.3 219.26,445.62" fill="none" stroke="#2c4a8c" stroke-width="1" stroke-linejoin="round"/>
<polyline points="156,456.51 186.46,446.22 219.26,434.12" fill="none" stroke="#2c4a8c" stroke-width="1" stroke-linejoin="round"/>
<polyline points="156,455.3 186.46,462.56 219.26,464.38" fill="none" stroke="#c21f40" stroke-width="1" stroke-linejoin="round"/>
<polyline points="156,458.32 186.46,463.77 219.26,465.58" fill="none" stroke="#c21f40" stroke-width="1" stroke-linejoin="round"/>
<polyline points="156,456.51 186.46,463.16 219.26,464.98" fill="none" stroke="#c21f40" stroke-width="1" stroke-linejoin="round"/>
<polygon points="156,445.8 153.86,449.47 158.14,449.47" fill="#1d3566"/>
<polygon points="186.46,443.98 184.32,447.65 188.6,447.65" fill="#1d3566"/>
<polygon points="219.26,441.56 217.12,445.23 221.4,445.23" fill="#1d3566"/>
<polygon points="156,448.22 153.86,451.89 158.14,451.89" fill="#1d3566"/>
<polygon points="186.46,453.06 184.32,456.73 188.6,456.73" fill="#1d3566"/>
<polygon points="219.26,443.38 217.12,447.05 221.4,447.05" fill="#1d3566"/>
<polygon points="156,454.27 153.86,457.94 158.14,457.94" fill="#1d3566"/>
<polygon points="186.46,443.98 184.32,447.65 188.6,447.65" fill="#1d3566"/>
<polygon points="219.26,431.88 217.12,435.55 221.4,435.55" fill="#1d3566"/>
<polygon points="156,453.06 153.86,456.73 158.14,456.73" fill="#8a1024"/>
<polygon points="186.46,460.32 184.32,463.99 188.6,463.99" fill="#8a1024"/>
<polygon points="219.26,462.13 217.12,465.8 221.4,465.8" fill="#8a1024"/>
<polygon points="156,456.08 153.86,459.75 158.14,459.75" fill="#8a1024"/>
<polygon points="186.46,461.53 184.32,465.2 188.6,465.2" fill="#8a1024"/>
<polygon points="219.26,463.34 217.12,467.01 221.4,467.01" fill="#8a1024"/>
<polygon points="156,454.27 153.86,457.94 158.14,457.94" fill="#8a1024"/>
<polygon points="186.46,460.92 184.32,464.59 188.6,464.59" fill="#8a1024"/>
<polygon points="219.26,462.74 217.12,466.41 221.4,466.41" fill="#8a1024"/>
<line x1="159.3" y1="413.2" x2="166.9" y2="413.2" stroke="#5f80c2" stroke-width="0.9"/>
<polygon points="163.1,410.89 160.89,414.67 165.31,414.67" fill="#1d3566"/>
<line x1="159.3" y1="419.9" x2="166.9" y2="419.9" stroke="#cc5270" stroke-width="0.9"/>
<polygon points="163.1,417.59 160.89,421.37 165.31,421.37" fill="#8a1024"/>
<text x="169.8" y="413.2" font-size="6" text-anchor="start" fill="#262626" dominant-baseline="central" textLength="17.8" lengthAdjust="spacingAndGlyphs" stroke="#262626" stroke-width="0.1">vehicle</text>
<text x="169.8" y="419.9" font-size="6" text-anchor="start" fill="#262626" dominant-baseline="central" textLength="36.2" lengthAdjust="spacingAndGlyphs" stroke="#262626" stroke-width="0.1">compound 11</text>
<text x="158.8" y="430.5" font-size="4.6" text-anchor="start" fill="#444" dominant-baseline="central" textLength="8" lengthAdjust="spacingAndGlyphs" stroke="#444" stroke-width="0.1">n=3</text>
<line x1="228.5" y1="441.3" x2="228.5" y2="464.1" stroke="#333" stroke-width="0.9"/>
<line x1="226.9" y1="441.3" x2="228.5" y2="441.3" stroke="#333" stroke-width="0.9"/>
<line x1="226.9" y1="464.1" x2="228.5" y2="464.1" stroke="#333" stroke-width="0.9"/>
<text x="231" y="453.5" font-size="4.5" text-anchor="start" fill="#444" dominant-baseline="central" stroke="#444" stroke-width="0.1">**</text>
<line x1="280.4" y1="288.25" x2="280.4" y2="352.8" stroke="#1a1a1a" stroke-width="1.2"/>
<line x1="277.5" y1="349" x2="280.4" y2="349" stroke="#1a1a1a" stroke-width="1"/>
<text x="274.4" y="349" font-size="6.8" text-anchor="end" fill="#262626" dominant-baseline="central" textLength="3.21" lengthAdjust="spacingAndGlyphs" stroke="#262626" stroke-width="0.1">0</text>
<line x1="277.5" y1="334.19" x2="280.4" y2="334.19" stroke="#1a1a1a" stroke-width="1"/>
<text x="274.4" y="334.19" font-size="6.8" text-anchor="end" fill="#262626" dominant-baseline="central" textLength="6.43" lengthAdjust="spacingAndGlyphs" stroke="#262626" stroke-width="0.1">25</text>
<line x1="277.5" y1="319.38" x2="280.4" y2="319.38" stroke="#1a1a1a" stroke-width="1"/>
<text x="274.4" y="319.38" font-size="6.8" text-anchor="end" fill="#262626" dominant-baseline="central" textLength="6.43" lengthAdjust="spacingAndGlyphs" stroke="#262626" stroke-width="0.1">50</text>
<line x1="277.5" y1="304.56" x2="280.4" y2="304.56" stroke="#1a1a1a" stroke-width="1"/>
<text x="274.4" y="304.56" font-size="6.8" text-anchor="end" fill="#262626" dominant-baseline="central" textLength="6.43" lengthAdjust="spacingAndGlyphs" stroke="#262626" stroke-width="0.1">75</text>
<line x1="277.5" y1="289.75" x2="280.4" y2="289.75" stroke="#1a1a1a" stroke-width="1"/>
<text x="274.4" y="289.75" font-size="6.8" text-anchor="end" fill="#262626" dominant-baseline="central" textLength="9.64" lengthAdjust="spacingAndGlyphs" stroke="#262626" stroke-width="0.1">100</text>
<line x1="279.85" y1="352.3" x2="377.6" y2="352.3" stroke="#1a1a1a" stroke-width="1.2"/>
<line x1="288.8" y1="352.3" x2="288.8" y2="355.2" stroke="#1a1a1a" stroke-width="1"/>
<line x1="301.4" y1="352.3" x2="301.4" y2="355.2" stroke="#1a1a1a" stroke-width="1"/>
<line x1="322.9" y1="352.3" x2="322.9" y2="355.2" stroke="#1a1a1a" stroke-width="1"/>
<line x1="335.4" y1="352.3" x2="335.4" y2="355.2" stroke="#1a1a1a" stroke-width="1"/>
<line x1="356.9" y1="352.3" x2="356.9" y2="355.2" stroke="#1a1a1a" stroke-width="1"/>
<line x1="369.8" y1="352.3" x2="369.8" y2="355.2" stroke="#1a1a1a" stroke-width="1"/>
<line x1="280.4" y1="349" x2="377.6" y2="349" stroke="#222" stroke-width="0.75" stroke-dasharray="1,1"/>
<text x="329.2" y="280.3" font-size="6.27" text-anchor="middle" fill="#333" dominant-baseline="central" textLength="64.5" lengthAdjust="spacingAndGlyphs" stroke="#333" stroke-width="0.05">compound 10 (PDX1+2):</text>
<line x1="296.95" y1="282.8" x2="361.45" y2="282.8" stroke="#333" stroke-width="0.5"/>
<text x="256.1" y="319.4" font-size="9.3" text-anchor="middle" fill="#262626" dominant-baseline="central" textLength="47" lengthAdjust="spacingAndGlyphs" transform="rotate(-90 256.1 319.4)" stroke="#262626" stroke-width="0.1">% hCD45+ cells</text>
<text x="295.3" y="361.8" font-size="6" text-anchor="middle" fill="#262626" dominant-baseline="central" textLength="13.5" lengthAdjust="spacingAndGlyphs" stroke="#262626" stroke-width="0.1">bone</text>
<text x="295.3" y="368.5" font-size="6" text-anchor="middle" fill="#262626" dominant-baseline="central" textLength="19.5" lengthAdjust="spacingAndGlyphs" stroke="#262626" stroke-width="0.1">marrow</text>
<text x="329.1" y="361.8" font-size="6" text-anchor="middle" fill="#262626" dominant-baseline="central" textLength="18" lengthAdjust="spacingAndGlyphs" stroke="#262626" stroke-width="0.1">spleen</text>
<text x="363.3" y="361.8" font-size="6" text-anchor="middle" fill="#262626" dominant-baseline="central" textLength="27" lengthAdjust="spacingAndGlyphs" stroke="#262626" stroke-width="0.1">peripheral</text>
<text x="363.3" y="368.5" font-size="6" text-anchor="middle" fill="#262626" dominant-baseline="central" textLength="15" lengthAdjust="spacingAndGlyphs" stroke="#262626" stroke-width="0.1">blood</text>
<line x1="288.8" y1="300.42" x2="288.8" y2="303.97" stroke="#5f80c2" stroke-width="0.75"/>
<line x1="286.3" y1="300.42" x2="291.3" y2="300.42" stroke="#5f80c2" stroke-width="0.75"/>
<line x1="286.3" y1="303.97" x2="291.3" y2="303.97" stroke="#5f80c2" stroke-width="0.75"/>
<line x1="283.8" y1="302.19" x2="293.8" y2="302.19" stroke="#5f80c2" stroke-width="1.15"/>
<circle cx="286.3" cy="299.82" r="1.65" fill="#1d3566" stroke="#0b1630" stroke-width="0.35"/>
<circle cx="289.3" cy="299.82" r="1.65" fill="#1d3566" stroke="#0b1630" stroke-width="0.35"/>
<circle cx="285.8" cy="302.78" r="1.65" fill="#1d3566" stroke="#0b1630" stroke-width="0.35"/>
<circle cx="288.8" cy="302.19" r="1.65" fill="#1d3566" stroke="#0b1630" stroke-width="0.35"/>
<circle cx="291.8" cy="302.78" r="1.65" fill="#1d3566" stroke="#0b1630" stroke-width="0.35"/>
<polygon points="285.8,302.66 283.98,305.78 287.62,305.78" fill="#1d3566"/>
<polygon points="288.8,302.06 286.98,305.18 290.62,305.18" fill="#1d3566"/>
<polygon points="291.8,302.06 289.98,305.18 293.62,305.18" fill="#1d3566"/>
<line x1="301.4" y1="326.49" x2="301.4" y2="346.04" stroke="#cc5270" stroke-width="0.75"/>
<line x1="298.9" y1="326.49" x2="303.9" y2="326.49" stroke="#cc5270" stroke-width="0.75"/>
<line x1="298.9" y1="346.04" x2="303.9" y2="346.04" stroke="#cc5270" stroke-width="0.75"/>
<line x1="296.4" y1="335.96" x2="306.4" y2="335.96" stroke="#cc5270" stroke-width="1.15"/>
<circle cx="298.9" cy="322.93" r="1.65" fill="#8a1024" stroke="#3a0008" stroke-width="0.35"/>
<circle cx="302.4" cy="322.93" r="1.65" fill="#8a1024" stroke="#3a0008" stroke-width="0.35"/>
<circle cx="301.4" cy="329.45" r="1.65" fill="#8a1024" stroke="#3a0008" stroke-width="0.35"/>
<circle cx="298.4" cy="340.7" r="1.65" fill="#8a1024" stroke="#3a0008" stroke-width="0.35"/>
<polygon points="298.4,344.13 296.58,347.25 300.22,347.25" fill="#8a1024"/>
<polygon points="302.4,342.35 300.58,345.47 304.22,345.47" fill="#8a1024"/>
<polygon points="304.9,342.35 303.08,345.47 306.72,345.47" fill="#8a1024"/>
<polygon points="301.4,344.72 299.58,347.84 303.22,347.84" fill="#8a1024"/>
<line x1="322.9" y1="312.26" x2="322.9" y2="346.04" stroke="#5f80c2" stroke-width="0.75"/>
<line x1="320.4" y1="312.26" x2="325.4" y2="312.26" stroke="#5f80c2" stroke-width="0.75"/>
<line x1="320.4" y1="346.04" x2="325.4" y2="346.04" stroke="#5f80c2" stroke-width="0.75"/>
<line x1="317.9" y1="329.45" x2="327.9" y2="329.45" stroke="#5f80c2" stroke-width="1.15"/>
<circle cx="322.9" cy="309.3" r="1.65" fill="#1d3566" stroke="#0b1630" stroke-width="0.35"/>
<circle cx="319.4" cy="312.26" r="1.65" fill="#1d3566" stroke="#0b1630" stroke-width="0.35"/>
<circle cx="326.4" cy="312.86" r="1.65" fill="#1d3566" stroke="#0b1630" stroke-width="0.35"/>
<circle cx="322.9" cy="318.19" r="1.65" fill="#1d3566" stroke="#0b1630" stroke-width="0.35"/>
<polygon points="319.4,344.13 317.58,347.25 321.22,347.25" fill="#1d3566"/>
<polygon points="322.9,344.72 321.08,347.84 324.72,347.84" fill="#1d3566"/>
<polygon points="326.4,342.35 324.58,345.47 328.22,345.47" fill="#1d3566"/>
<polygon points="324.9,345.32 323.08,348.44 326.72,348.44" fill="#1d3566"/>
<line x1="335.4" y1="338.33" x2="335.4" y2="348.7" stroke="#cc5270" stroke-width="0.75"/>
<line x1="332.9" y1="338.33" x2="337.9" y2="338.33" stroke="#cc5270" stroke-width="0.75"/>
<line x1="332.9" y1="348.7" x2="337.9" y2="348.7" stroke="#cc5270" stroke-width="0.75"/>
<line x1="330.4" y1="343.67" x2="340.4" y2="343.67" stroke="#cc5270" stroke-width="1.15"/>
<circle cx="335.4" cy="335.96" r="1.65" fill="#8a1024" stroke="#3a0008" stroke-width="0.35"/>
<circle cx="333.4" cy="338.33" r="1.65" fill="#8a1024" stroke="#3a0008" stroke-width="0.35"/>
<circle cx="336.4" cy="341.89" r="1.65" fill="#8a1024" stroke="#3a0008" stroke-width="0.35"/>
<polygon points="331.9,346.8 330.08,349.92 333.72,349.92" fill="#8a1024"/>
<polygon points="334.4,346.8 332.58,349.92 336.22,349.92" fill="#8a1024"/>
<polygon points="336.9,346.8 335.08,349.92 338.72,349.92" fill="#8a1024"/>
<polygon points="339.4,346.8 337.58,349.92 341.22,349.92" fill="#8a1024"/>
<circle cx="338.4" cy="340.7" r="1.65" fill="#8a1024" stroke="#3a0008" stroke-width="0.35"/>
<line x1="356.9" y1="310.49" x2="356.9" y2="341.89" stroke="#5f80c2" stroke-width="0.75"/>
<line x1="354.4" y1="310.49" x2="359.4" y2="310.49" stroke="#5f80c2" stroke-width="0.75"/>
<line x1="354.4" y1="341.89" x2="359.4" y2="341.89" stroke="#5f80c2" stroke-width="0.75"/>
<line x1="351.9" y1="326.49" x2="361.9" y2="326.49" stroke="#5f80c2" stroke-width="1.15"/>
<circle cx="356.9" cy="309.3" r="1.65" fill="#1d3566" stroke="#0b1630" stroke-width="0.35"/>
<circle cx="353.4" cy="310.49" r="1.65" fill="#1d3566" stroke="#0b1630" stroke-width="0.35"/>
<circle cx="359.9" cy="310.49" r="1.65" fill="#1d3566" stroke="#0b1630" stroke-width="0.35"/>
<circle cx="356.9" cy="321.15" r="1.65" fill="#1d3566" stroke="#0b1630" stroke-width="0.35"/>
<polygon points="353.4,339.98 351.58,343.1 355.22,343.1" fill="#1d3566"/>
<polygon points="356.9,339.39 355.08,342.51 358.72,342.51" fill="#1d3566"/>
<polygon points="360.4,339.98 358.58,343.1 362.22,343.1" fill="#1d3566"/>
<polygon points="358.9,338.21 357.08,341.33 360.72,341.33" fill="#1d3566"/>
<line x1="369.8" y1="341.3" x2="369.8" y2="348.7" stroke="#cc5270" stroke-width="0.75"/>
<line x1="367.3" y1="341.3" x2="372.3" y2="341.3" stroke="#cc5270" stroke-width="0.75"/>
<line x1="367.3" y1="348.7" x2="372.3" y2="348.7" stroke="#cc5270" stroke-width="0.75"/>
<line x1="364.8" y1="345.44" x2="374.8" y2="345.44" stroke="#cc5270" stroke-width="1.15"/>
<circle cx="368.8" cy="339.52" r="1.65" fill="#8a1024" stroke="#3a0008" stroke-width="0.35"/>
<circle cx="371.8" cy="340.11" r="1.65" fill="#8a1024" stroke="#3a0008" stroke-width="0.35"/>
<circle cx="369.8" cy="343.07" r="1.65" fill="#8a1024" stroke="#3a0008" stroke-width="0.35"/>
<circle cx="367.8" cy="346.04" r="1.65" fill="#8a1024" stroke="#3a0008" stroke-width="0.35"/>
<polygon points="366.3,346.8 364.48,349.92 368.12,349.92" fill="#8a1024"/>
<polygon points="368.8,346.8 366.98,349.92 370.62,349.92" fill="#8a1024"/>
<polygon points="371.3,346.8 369.48,349.92 373.12,349.92" fill="#8a1024"/>
<polygon points="373.8,346.8 371.98,349.92 375.62,349.92" fill="#8a1024"/>
<line x1="288.8" y1="292.5" x2="303.3" y2="292.5" stroke="#444" stroke-width="0.9"/>
<line x1="288.8" y1="291.2" x2="288.8" y2="293.8" stroke="#222" stroke-width="1"/>
<line x1="303.3" y1="291.2" x2="303.3" y2="293.8" stroke="#222" stroke-width="1"/>
<text x="296.05" y="291.2" font-size="4.6" text-anchor="middle" fill="#333" dominant-baseline="central" stroke="#333" stroke-width="0.1">****</text>
<line x1="322.6" y1="303.3" x2="336.2" y2="303.3" stroke="#444" stroke-width="0.9"/>
<line x1="322.6" y1="302" x2="322.6" y2="304.6" stroke="#222" stroke-width="1"/>
<line x1="336.2" y1="302" x2="336.2" y2="304.6" stroke="#222" stroke-width="1"/>
<text x="329.4" y="302" font-size="4.6" text-anchor="middle" fill="#333" dominant-baseline="central" stroke="#333" stroke-width="0.1">*</text>
<line x1="356.5" y1="303.3" x2="370.6" y2="303.3" stroke="#444" stroke-width="0.9"/>
<line x1="356.5" y1="302" x2="356.5" y2="304.6" stroke="#222" stroke-width="1"/>
<line x1="370.6" y1="302" x2="370.6" y2="304.6" stroke="#222" stroke-width="1"/>
<text x="363.55" y="302" font-size="4.6" text-anchor="middle" fill="#333" dominant-baseline="central" stroke="#333" stroke-width="0.1">**</text>
<line x1="280.4" y1="403.95" x2="280.4" y2="468.1" stroke="#1a1a1a" stroke-width="1.2"/>
<line x1="277.5" y1="464.7" x2="280.4" y2="464.7" stroke="#1a1a1a" stroke-width="1"/>
<text x="274.4" y="464.7" font-size="6.8" text-anchor="end" fill="#262626" dominant-baseline="central" textLength="3.21" lengthAdjust="spacingAndGlyphs" stroke="#262626" stroke-width="0.1">0</text>
<line x1="277.5" y1="449.89" x2="280.4" y2="449.89" stroke="#1a1a1a" stroke-width="1"/>
<text x="274.4" y="449.89" font-size="6.8" text-anchor="end" fill="#262626" dominant-baseline="central" textLength="6.43" lengthAdjust="spacingAndGlyphs" stroke="#262626" stroke-width="0.1">25</text>
<line x1="277.5" y1="435.07" x2="280.4" y2="435.07" stroke="#1a1a1a" stroke-width="1"/>
<text x="274.4" y="435.07" font-size="6.8" text-anchor="end" fill="#262626" dominant-baseline="central" textLength="6.43" lengthAdjust="spacingAndGlyphs" stroke="#262626" stroke-width="0.1">50</text>
<line x1="277.5" y1="420.26" x2="280.4" y2="420.26" stroke="#1a1a1a" stroke-width="1"/>
<text x="274.4" y="420.26" font-size="6.8" text-anchor="end" fill="#262626" dominant-baseline="central" textLength="6.43" lengthAdjust="spacingAndGlyphs" stroke="#262626" stroke-width="0.1">75</text>
<line x1="277.5" y1="405.45" x2="280.4" y2="405.45" stroke="#1a1a1a" stroke-width="1"/>
<text x="274.4" y="405.45" font-size="6.8" text-anchor="end" fill="#262626" dominant-baseline="central" textLength="9.64" lengthAdjust="spacingAndGlyphs" stroke="#262626" stroke-width="0.1">100</text>
<line x1="279.85" y1="467.6" x2="377.6" y2="467.6" stroke="#1a1a1a" stroke-width="1.2"/>
<line x1="288.8" y1="467.6" x2="288.8" y2="470.5" stroke="#1a1a1a" stroke-width="1"/>
<line x1="301.4" y1="467.6" x2="301.4" y2="470.5" stroke="#1a1a1a" stroke-width="1"/>
<line x1="322.9" y1="467.6" x2="322.9" y2="470.5" stroke="#1a1a1a" stroke-width="1"/>
<line x1="335.4" y1="467.6" x2="335.4" y2="470.5" stroke="#1a1a1a" stroke-width="1"/>
<line x1="356.9" y1="467.6" x2="356.9" y2="470.5" stroke="#1a1a1a" stroke-width="1"/>
<line x1="369.8" y1="467.6" x2="369.8" y2="470.5" stroke="#1a1a1a" stroke-width="1"/>
<line x1="280.4" y1="464.7" x2="377.6" y2="464.7" stroke="#222" stroke-width="0.75" stroke-dasharray="1,1"/>
<text x="329.2" y="395.7" font-size="6.27" text-anchor="middle" fill="#333" dominant-baseline="central" textLength="64.5" lengthAdjust="spacingAndGlyphs" stroke="#333" stroke-width="0.05">compound 11 (PDX1+2):</text>
<line x1="296.95" y1="398.2" x2="361.45" y2="398.2" stroke="#333" stroke-width="0.5"/>
<text x="256.1" y="435" font-size="9.3" text-anchor="middle" fill="#262626" dominant-baseline="central" textLength="47" lengthAdjust="spacingAndGlyphs" transform="rotate(-90 256.1 435)" stroke="#262626" stroke-width="0.1">% hCD45+ cells</text>
<text x="295.3" y="476.9" font-size="6" text-anchor="middle" fill="#262626" dominant-baseline="central" textLength="13.5" lengthAdjust="spacingAndGlyphs" stroke="#262626" stroke-width="0.1">bone</text>
<text x="295.3" y="483.7" font-size="6" text-anchor="middle" fill="#262626" dominant-baseline="central" textLength="19.5" lengthAdjust="spacingAndGlyphs" stroke="#262626" stroke-width="0.1">marrow</text>
<text x="329.1" y="476.9" font-size="6" text-anchor="middle" fill="#262626" dominant-baseline="central" textLength="18" lengthAdjust="spacingAndGlyphs" stroke="#262626" stroke-width="0.1">spleen</text>
<text x="363.3" y="476.9" font-size="6" text-anchor="middle" fill="#262626" dominant-baseline="central" textLength="27" lengthAdjust="spacingAndGlyphs" stroke="#262626" stroke-width="0.1">peripheral</text>
<text x="363.3" y="483.7" font-size="6" text-anchor="middle" fill="#262626" dominant-baseline="central" textLength="15" lengthAdjust="spacingAndGlyphs" stroke="#262626" stroke-width="0.1">blood</text>
<line x1="288.8" y1="422.04" x2="288.8" y2="450.48" stroke="#5f80c2" stroke-width="0.75"/>
<line x1="286.3" y1="422.04" x2="291.3" y2="422.04" stroke="#5f80c2" stroke-width="0.75"/>
<line x1="286.3" y1="450.48" x2="291.3" y2="450.48" stroke="#5f80c2" stroke-width="0.75"/>
<line x1="283.8" y1="436.85" x2="293.8" y2="436.85" stroke="#5f80c2" stroke-width="1.15"/>
<circle cx="288.8" cy="417.89" r="1.65" fill="#1d3566" stroke="#0b1630" stroke-width="0.35"/>
<circle cx="288.8" cy="419.67" r="1.65" fill="#1d3566" stroke="#0b1630" stroke-width="0.35"/>
<polygon points="288.8,425.47 286.98,428.59 290.62,428.59" fill="#1d3566"/>
<circle cx="288.8" cy="436.85" r="1.65" fill="#1d3566" stroke="#0b1630" stroke-width="0.35"/>
<circle cx="288.8" cy="446.93" r="1.65" fill="#1d3566" stroke="#0b1630" stroke-width="0.35"/>
<polygon points="287.8,447.98 285.98,451.1 289.62,451.1" fill="#1d3566"/>
<circle cx="288.8" cy="454.03" r="1.65" fill="#1d3566" stroke="#0b1630" stroke-width="0.35"/>
<line x1="301.4" y1="459.37" x2="301.4" y2="461.74" stroke="#cc5270" stroke-width="0.75"/>
<line x1="298.9" y1="459.37" x2="303.9" y2="459.37" stroke="#cc5270" stroke-width="0.75"/>
<line x1="298.9" y1="461.74" x2="303.9" y2="461.74" stroke="#cc5270" stroke-width="0.75"/>
<line x1="296.4" y1="460.55" x2="306.4" y2="460.55" stroke="#cc5270" stroke-width="1.15"/>
<circle cx="298.4" cy="460.55" r="1.65" fill="#8a1024" stroke="#3a0008" stroke-width="0.35"/>
<circle cx="301.4" cy="458.77" r="1.65" fill="#8a1024" stroke="#3a0008" stroke-width="0.35"/>
<circle cx="304.4" cy="460.55" r="1.65" fill="#8a1024" stroke="#3a0008" stroke-width="0.35"/>
<circle cx="299.9" cy="461.74" r="1.65" fill="#8a1024" stroke="#3a0008" stroke-width="0.35"/>
<circle cx="302.9" cy="460.55" r="1.65" fill="#8a1024" stroke="#3a0008" stroke-width="0.35"/>
<polygon points="297.9,460.42 296.08,463.54 299.72,463.54" fill="#8a1024"/>
<polygon points="304.9,460.42 303.08,463.54 306.72,463.54" fill="#8a1024"/>
<line x1="322.9" y1="447.52" x2="322.9" y2="464.4" stroke="#5f80c2" stroke-width="0.75"/>
<line x1="320.4" y1="447.52" x2="325.4" y2="447.52" stroke="#5f80c2" stroke-width="0.75"/>
<line x1="320.4" y1="464.4" x2="325.4" y2="464.4" stroke="#5f80c2" stroke-width="0.75"/>
<line x1="317.9" y1="456.4" x2="327.9" y2="456.4" stroke="#5f80c2" stroke-width="1.15"/>
<circle cx="322.9" cy="440.41" r="1.65" fill="#1d3566" stroke="#0b1630" stroke-width="0.35"/>
<circle cx="319.9" cy="451.66" r="1.65" fill="#1d3566" stroke="#0b1630" stroke-width="0.35"/>
<circle cx="325.9" cy="451.66" r="1.65" fill="#1d3566" stroke="#0b1630" stroke-width="0.35"/>
<polygon points="319.4,462.2 317.58,465.32 321.22,465.32" fill="#1d3566"/>
<polygon points="322.9,462.2 321.08,465.32 324.72,465.32" fill="#1d3566"/>
<polygon points="326.4,462.2 324.58,465.32 328.22,465.32" fill="#1d3566"/>
<circle cx="324.4" cy="462.92" r="1.65" fill="#1d3566" stroke="#0b1630" stroke-width="0.35"/>
<line x1="335.4" y1="464.34" x2="335.4" y2="464.64" stroke="#cc5270" stroke-width="0.75"/>
<line x1="332.9" y1="464.34" x2="337.9" y2="464.34" stroke="#cc5270" stroke-width="0.75"/>
<line x1="332.9" y1="464.64" x2="337.9" y2="464.64" stroke="#cc5270" stroke-width="0.75"/>
<line x1="330.4" y1="464.52" x2="340.4" y2="464.52" stroke="#cc5270" stroke-width="1.15"/>
<circle cx="331.9" cy="464.52" r="1.65" fill="#8a1024" stroke="#3a0008" stroke-width="0.35"/>
<circle cx="334.4" cy="464.52" r="1.65" fill="#8a1024" stroke="#3a0008" stroke-width="0.35"/>
<circle cx="336.9" cy="464.52" r="1.65" fill="#8a1024" stroke="#3a0008" stroke-width="0.35"/>
<circle cx="339.4" cy="464.52" r="1.65" fill="#8a1024" stroke="#3a0008" stroke-width="0.35"/>
<polygon points="333.4,462.62 331.58,465.74 335.22,465.74" fill="#8a1024"/>
<polygon points="337.9,462.62 336.08,465.74 339.72,465.74" fill="#8a1024"/>
<line x1="356.9" y1="454.63" x2="356.9" y2="462.92" stroke="#5f80c2" stroke-width="0.75"/>
<line x1="354.4" y1="454.63" x2="359.4" y2="454.63" stroke="#5f80c2" stroke-width="0.75"/>
<line x1="354.4" y1="462.92" x2="359.4" y2="462.92" stroke="#5f80c2" stroke-width="0.75"/>
<line x1="351.9" y1="458.77" x2="361.9" y2="458.77" stroke="#5f80c2" stroke-width="1.15"/>
<circle cx="356.9" cy="450.48" r="1.65" fill="#1d3566" stroke="#0b1630" stroke-width="0.35"/>
<circle cx="353.9" cy="458.77" r="1.65" fill="#1d3566" stroke="#0b1630" stroke-width="0.35"/>
<circle cx="359.9" cy="458.77" r="1.65" fill="#1d3566" stroke="#0b1630" stroke-width="0.35"/>
<polygon points="353.4,461.02 351.58,464.14 355.22,464.14" fill="#1d3566"/>
<polygon points="356.9,461.02 355.08,464.14 358.72,464.14" fill="#1d3566"/>
<polygon points="360.4,461.02 358.58,464.14 362.22,464.14" fill="#1d3566"/>
<line x1="369.8" y1="463.93" x2="369.8" y2="464.52" stroke="#cc5270" stroke-width="0.75"/>
<line x1="367.3" y1="463.93" x2="372.3" y2="463.93" stroke="#cc5270" stroke-width="0.75"/>
<line x1="367.3" y1="464.52" x2="372.3" y2="464.52" stroke="#cc5270" stroke-width="0.75"/>
<line x1="364.8" y1="464.23" x2="374.8" y2="464.23" stroke="#cc5270" stroke-width="1.15"/>
<circle cx="366.8" cy="464.23" r="1.65" fill="#8a1024" stroke="#3a0008" stroke-width="0.35"/>
<circle cx="369.8" cy="463.81" r="1.65" fill="#8a1024" stroke="#3a0008" stroke-width="0.35"/>
<circle cx="372.8" cy="464.23" r="1.65" fill="#8a1024" stroke="#3a0008" stroke-width="0.35"/>
<polygon points="368.3,462.56 366.48,465.68 370.12,465.68" fill="#8a1024"/>
<polygon points="371.3,462.56 369.48,465.68 373.12,465.68" fill="#8a1024"/>
<line x1="288.8" y1="413" x2="303" y2="413" stroke="#444" stroke-width="0.9"/>
<line x1="288.8" y1="411.7" x2="288.8" y2="414.3" stroke="#222" stroke-width="1"/>
<line x1="303" y1="411.7" x2="303" y2="414.3" stroke="#222" stroke-width="1"/>
<text x="295.9" y="411.7" font-size="4.6" text-anchor="middle" fill="#333" dominant-baseline="central" stroke="#333" stroke-width="0.1">***</text>
<line x1="322.6" y1="434.9" x2="336.2" y2="434.9" stroke="#444" stroke-width="0.9"/>
<line x1="322.6" y1="433.6" x2="322.6" y2="436.2" stroke="#222" stroke-width="1"/>
<line x1="336.2" y1="433.6" x2="336.2" y2="436.2" stroke="#222" stroke-width="1"/>
<text x="329.4" y="433.6" font-size="4.6" text-anchor="middle" fill="#333" dominant-baseline="central" stroke="#333" stroke-width="0.1">*</text>
<line x1="356.5" y1="445" x2="370.6" y2="445" stroke="#444" stroke-width="0.9"/>
<line x1="356.5" y1="443.7" x2="356.5" y2="446.3" stroke="#222" stroke-width="1"/>
<line x1="370.6" y1="443.7" x2="370.6" y2="446.3" stroke="#222" stroke-width="1"/>
<text x="363.55" y="443.7" font-size="4.6" text-anchor="middle" fill="#333" dominant-baseline="central" stroke="#333" stroke-width="0.1">*</text>
<line x1="415.7" y1="290" x2="415.7" y2="352.6" stroke="#1a1a1a" stroke-width="1.2"/>
<line x1="412.8" y1="352.1" x2="415.7" y2="352.1" stroke="#1a1a1a" stroke-width="1"/>
<text x="411" y="352.1" font-size="6.8" text-anchor="end" fill="#262626" dominant-baseline="central" textLength="3.21" lengthAdjust="spacingAndGlyphs" stroke="#262626" stroke-width="0.1">0</text>
<line x1="412.8" y1="336.95" x2="415.7" y2="336.95" stroke="#1a1a1a" stroke-width="1"/>
<text x="411" y="336.95" font-size="6.8" text-anchor="end" fill="#262626" dominant-baseline="central" textLength="6.43" lengthAdjust="spacingAndGlyphs" stroke="#262626" stroke-width="0.1">50</text>
<line x1="412.8" y1="321.8" x2="415.7" y2="321.8" stroke="#1a1a1a" stroke-width="1"/>
<text x="411" y="321.8" font-size="6.8" text-anchor="end" fill="#262626" dominant-baseline="central" textLength="9.64" lengthAdjust="spacingAndGlyphs" stroke="#262626" stroke-width="0.1">100</text>
<line x1="412.8" y1="306.65" x2="415.7" y2="306.65" stroke="#1a1a1a" stroke-width="1"/>
<text x="411" y="306.65" font-size="6.8" text-anchor="end" fill="#262626" dominant-baseline="central" textLength="9.64" lengthAdjust="spacingAndGlyphs" stroke="#262626" stroke-width="0.1">150</text>
<line x1="412.8" y1="291.5" x2="415.7" y2="291.5" stroke="#1a1a1a" stroke-width="1"/>
<text x="411" y="291.5" font-size="6.8" text-anchor="end" fill="#262626" dominant-baseline="central" textLength="9.64" lengthAdjust="spacingAndGlyphs" stroke="#262626" stroke-width="0.1">200</text>
<line x1="415.15" y1="352.1" x2="456.1" y2="352.1" stroke="#1a1a1a" stroke-width="1.2"/>
<line x1="428.6" y1="352.1" x2="428.6" y2="355" stroke="#1a1a1a" stroke-width="1"/>
<line x1="446.1" y1="352.1" x2="446.1" y2="355" stroke="#1a1a1a" stroke-width="1"/>
<text x="437" y="275.3" font-size="6.61" text-anchor="middle" fill="#333" dominant-baseline="central" textLength="36.4" lengthAdjust="spacingAndGlyphs" stroke="#333" stroke-width="0.05">compound 10</text>
<line x1="418.8" y1="277.8" x2="455.2" y2="277.8" stroke="#333" stroke-width="0.5"/>
<text x="437" y="281.2" font-size="6.61" text-anchor="middle" fill="#333" dominant-baseline="central" textLength="25.8" lengthAdjust="spacingAndGlyphs" stroke="#333" stroke-width="0.05">(PDX1+2):</text>
<line x1="424.1" y1="283.7" x2="449.9" y2="283.7" stroke="#333" stroke-width="0.5"/>
<text x="437" y="362.1" font-size="6" text-anchor="middle" fill="#262626" dominant-baseline="central" textLength="18" lengthAdjust="spacingAndGlyphs" stroke="#262626" stroke-width="0.1">spleen</text>
<text x="393.4" y="319.7" font-size="9.3" text-anchor="middle" fill="#262626" dominant-baseline="central" textLength="53.7" lengthAdjust="spacingAndGlyphs" transform="rotate(-90 393.4 319.7)" stroke="#262626" stroke-width="0.1">Organ weight (mg)</text>
<line x1="428.6" y1="308.17" x2="428.6" y2="332.41" stroke="#5f80c2" stroke-width="0.75"/>
<line x1="426.1" y1="308.17" x2="431.1" y2="308.17" stroke="#5f80c2" stroke-width="0.75"/>
<line x1="426.1" y1="332.41" x2="431.1" y2="332.41" stroke="#5f80c2" stroke-width="0.75"/>
<line x1="423.6" y1="320.29" x2="433.6" y2="320.29" stroke="#5f80c2" stroke-width="1.15"/>
<circle cx="428.6" cy="301.2" r="1.65" fill="#1d3566" stroke="#0b1630" stroke-width="0.35"/>
<circle cx="423.1" cy="313.32" r="1.65" fill="#1d3566" stroke="#0b1630" stroke-width="0.35"/>
<circle cx="428.6" cy="313.32" r="1.65" fill="#1d3566" stroke="#0b1630" stroke-width="0.35"/>
<circle cx="434.1" cy="313.62" r="1.65" fill="#1d3566" stroke="#0b1630" stroke-width="0.35"/>
<polygon points="428.6,318.38 426.78,321.5 430.42,321.5" fill="#1d3566"/>
<polygon points="423.6,332.92 421.78,336.04 425.42,336.04" fill="#1d3566"/>
<polygon points="428.6,332.92 426.78,336.04 430.42,336.04" fill="#1d3566"/>
<polygon points="433.6,332.01 431.78,335.13 435.42,335.13" fill="#1d3566"/>
<line x1="446.1" y1="328.47" x2="446.1" y2="342.4" stroke="#cc5270" stroke-width="0.75"/>
<line x1="443.6" y1="328.47" x2="448.6" y2="328.47" stroke="#cc5270" stroke-width="0.75"/>
<line x1="443.6" y1="342.4" x2="448.6" y2="342.4" stroke="#cc5270" stroke-width="0.75"/>
<line x1="441.1" y1="335.44" x2="451.1" y2="335.44" stroke="#cc5270" stroke-width="1.15"/>
<circle cx="446.1" cy="324.22" r="1.65" fill="#8a1024" stroke="#3a0008" stroke-width="0.35"/>
<circle cx="441.1" cy="333.31" r="1.65" fill="#8a1024" stroke="#3a0008" stroke-width="0.35"/>
<circle cx="446.1" cy="333.31" r="1.65" fill="#8a1024" stroke="#3a0008" stroke-width="0.35"/>
<circle cx="451.1" cy="333.01" r="1.65" fill="#8a1024" stroke="#3a0008" stroke-width="0.35"/>
<circle cx="451.1" cy="334.53" r="1.65" fill="#8a1024" stroke="#3a0008" stroke-width="0.35"/>
<polygon points="441.1,339.59 439.28,342.71 442.92,342.71" fill="#8a1024"/>
<polygon points="446.1,338.98 444.28,342.1 447.92,342.1" fill="#8a1024"/>
<polygon points="451.1,340.2 449.28,343.31 452.92,343.31" fill="#8a1024"/>
<polygon points="446.1,340.8 444.28,343.92 447.92,343.92" fill="#8a1024"/>
<line x1="428.3" y1="295.9" x2="446.7" y2="295.9" stroke="#444" stroke-width="0.9"/>
<line x1="428.3" y1="294.6" x2="428.3" y2="297.2" stroke="#222" stroke-width="1"/>
<line x1="446.7" y1="294.6" x2="446.7" y2="297.2" stroke="#222" stroke-width="1"/>
<text x="437.5" y="294.6" font-size="4.6" text-anchor="middle" fill="#333" dominant-baseline="central" stroke="#333" stroke-width="0.1">**</text>
<line x1="415.7" y1="405.6" x2="415.7" y2="468.2" stroke="#1a1a1a" stroke-width="1.2"/>
<line x1="412.8" y1="467.7" x2="415.7" y2="467.7" stroke="#1a1a1a" stroke-width="1"/>
<text x="411" y="467.7" font-size="6.8" text-anchor="end" fill="#262626" dominant-baseline="central" textLength="3.21" lengthAdjust="spacingAndGlyphs" stroke="#262626" stroke-width="0.1">0</text>
<line x1="412.8" y1="452.55" x2="415.7" y2="452.55" stroke="#1a1a1a" stroke-width="1"/>
<text x="411" y="452.55" font-size="6.8" text-anchor="end" fill="#262626" dominant-baseline="central" textLength="9.64" lengthAdjust="spacingAndGlyphs" stroke="#262626" stroke-width="0.1">100</text>
<line x1="412.8" y1="437.4" x2="415.7" y2="437.4" stroke="#1a1a1a" stroke-width="1"/>
<text x="411" y="437.4" font-size="6.8" text-anchor="end" fill="#262626" dominant-baseline="central" textLength="9.64" lengthAdjust="spacingAndGlyphs" stroke="#262626" stroke-width="0.1">200</text>
<line x1="412.8" y1="422.25" x2="415.7" y2="422.25" stroke="#1a1a1a" stroke-width="1"/>
<text x="411" y="422.25" font-size="6.8" text-anchor="end" fill="#262626" dominant-baseline="central" textLength="9.64" lengthAdjust="spacingAndGlyphs" stroke="#262626" stroke-width="0.1">300</text>
<line x1="412.8" y1="407.1" x2="415.7" y2="407.1" stroke="#1a1a1a" stroke-width="1"/>
<text x="411" y="407.1" font-size="6.8" text-anchor="end" fill="#262626" dominant-baseline="central" textLength="9.64" lengthAdjust="spacingAndGlyphs" stroke="#262626" stroke-width="0.1">400</text>
<line x1="415.15" y1="467.7" x2="456.1" y2="467.7" stroke="#1a1a1a" stroke-width="1.2"/>
<line x1="428.6" y1="467.7" x2="428.6" y2="470.6" stroke="#1a1a1a" stroke-width="1"/>
<line x1="446.1" y1="467.7" x2="446.1" y2="470.6" stroke="#1a1a1a" stroke-width="1"/>
<text x="437" y="390.7" font-size="6.61" text-anchor="middle" fill="#333" dominant-baseline="central" textLength="36.4" lengthAdjust="spacingAndGlyphs" stroke="#333" stroke-width="0.05">compound 11</text>
<line x1="418.8" y1="393.2" x2="455.2" y2="393.2" stroke="#333" stroke-width="0.5"/>
<text x="437" y="396.7" font-size="6.61" text-anchor="middle" fill="#333" dominant-baseline="central" textLength="25.8" lengthAdjust="spacingAndGlyphs" stroke="#333" stroke-width="0.05">(PDX1+2):</text>
<line x1="424.1" y1="399.2" x2="449.9" y2="399.2" stroke="#333" stroke-width="0.5"/>
<text x="437" y="477.4" font-size="6" text-anchor="middle" fill="#262626" dominant-baseline="central" textLength="18" lengthAdjust="spacingAndGlyphs" stroke="#262626" stroke-width="0.1">spleen</text>
<text x="393.4" y="435.3" font-size="9.3" text-anchor="middle" fill="#262626" dominant-baseline="central" textLength="53.7" lengthAdjust="spacingAndGlyphs" transform="rotate(-90 393.4 435.3)" stroke="#262626" stroke-width="0.1">Organ weight (mg)</text>
<line x1="428.6" y1="422.25" x2="428.6" y2="436.64" stroke="#5f80c2" stroke-width="0.75"/>
<line x1="426.1" y1="422.25" x2="431.1" y2="422.25" stroke="#5f80c2" stroke-width="0.75"/>
<line x1="426.1" y1="436.64" x2="431.1" y2="436.64" stroke="#5f80c2" stroke-width="0.75"/>
<line x1="423.6" y1="429.52" x2="433.6" y2="429.52" stroke="#5f80c2" stroke-width="1.15"/>
<circle cx="428.6" cy="418.46" r="1.65" fill="#1d3566" stroke="#0b1630" stroke-width="0.35"/>
<circle cx="425.6" cy="426.04" r="1.65" fill="#1d3566" stroke="#0b1630" stroke-width="0.35"/>
<circle cx="430.6" cy="427.55" r="1.65" fill="#1d3566" stroke="#0b1630" stroke-width="0.35"/>
<circle cx="423.6" cy="429.07" r="1.65" fill="#1d3566" stroke="#0b1630" stroke-width="0.35"/>
<polygon points="431.6,429.43 429.78,432.55 433.42,432.55" fill="#1d3566"/>
<polygon points="428.6,433.98 426.78,437.1 430.42,437.1" fill="#1d3566"/>
<polygon points="428.6,437.77 426.78,440.89 430.42,440.89" fill="#1d3566"/>
<polygon points="433.6,427.16 431.78,430.28 435.42,430.28" fill="#1d3566"/>
<line x1="446.1" y1="435.88" x2="446.1" y2="452.55" stroke="#cc5270" stroke-width="0.75"/>
<line x1="443.6" y1="435.88" x2="448.6" y2="435.88" stroke="#cc5270" stroke-width="0.75"/>
<line x1="443.6" y1="452.55" x2="448.6" y2="452.55" stroke="#cc5270" stroke-width="0.75"/>
<line x1="441.1" y1="444.22" x2="451.1" y2="444.22" stroke="#cc5270" stroke-width="1.15"/>
<circle cx="441.1" cy="435.88" r="1.65" fill="#8a1024" stroke="#3a0008" stroke-width="0.35"/>
<circle cx="451.1" cy="434.37" r="1.65" fill="#8a1024" stroke="#3a0008" stroke-width="0.35"/>
<circle cx="446.1" cy="438.91" r="1.65" fill="#8a1024" stroke="#3a0008" stroke-width="0.35"/>
<polygon points="442.1,450.64 440.28,453.76 443.92,453.76" fill="#8a1024"/>
<polygon points="449.1,451.4 447.28,454.52 450.92,454.52" fill="#8a1024"/>
<circle cx="446.1" cy="451.79" r="1.65" fill="#8a1024" stroke="#3a0008" stroke-width="0.35"/>
<line x1="428.3" y1="411.7" x2="446.7" y2="411.7" stroke="#444" stroke-width="0.9"/>
<line x1="428.3" y1="410.4" x2="428.3" y2="413" stroke="#222" stroke-width="1"/>
<line x1="446.7" y1="410.4" x2="446.7" y2="413" stroke="#222" stroke-width="1"/>
<text x="437.5" y="410.4" font-size="4.6" text-anchor="middle" fill="#333" dominant-baseline="central" stroke="#333" stroke-width="0.1">**</text>
<text x="79.5" y="518.5" font-size="6.27" text-anchor="middle" fill="#333" dominant-baseline="central" textLength="84" lengthAdjust="spacingAndGlyphs" stroke="#333" stroke-width="0.05">compound 10, (PDX-sample) #1:</text>
<line x1="37.5" y1="521" x2="121.5" y2="521" stroke="#333" stroke-width="0.5"/>
<text x="25.1" y="601.6" font-size="6.4" text-anchor="middle" fill="#333" dominant-baseline="central" textLength="10.6" lengthAdjust="spacingAndGlyphs" stroke="#333" stroke-width="0.1">n=4</text>
<line x1="36.7" y1="527.9" x2="36.7" y2="592.4" stroke="#1a1a1a" stroke-width="1.2"/>
<line x1="33.8" y1="591.9" x2="36.7" y2="591.9" stroke="#1a1a1a" stroke-width="1"/>
<text x="31.2" y="591.9" font-size="6.8" text-anchor="end" fill="#262626" dominant-baseline="central" textLength="3.21" lengthAdjust="spacingAndGlyphs" stroke="#262626" stroke-width="0.1">0</text>
<line x1="33.8" y1="579.4" x2="36.7" y2="579.4" stroke="#1a1a1a" stroke-width="1"/>
<text x="31.2" y="579.4" font-size="6.8" text-anchor="end" fill="#262626" dominant-baseline="central" textLength="3.21" lengthAdjust="spacingAndGlyphs" stroke="#262626" stroke-width="0.1">1</text>
<line x1="33.8" y1="566.9" x2="36.7" y2="566.9" stroke="#1a1a1a" stroke-width="1"/>
<text x="31.2" y="566.9" font-size="6.8" text-anchor="end" fill="#262626" dominant-baseline="central" textLength="3.21" lengthAdjust="spacingAndGlyphs" stroke="#262626" stroke-width="0.1">2</text>
<line x1="33.8" y1="554.4" x2="36.7" y2="554.4" stroke="#1a1a1a" stroke-width="1"/>
<text x="31.2" y="554.4" font-size="6.8" text-anchor="end" fill="#262626" dominant-baseline="central" textLength="3.21" lengthAdjust="spacingAndGlyphs" stroke="#262626" stroke-width="0.1">3</text>
<line x1="33.8" y1="541.9" x2="36.7" y2="541.9" stroke="#1a1a1a" stroke-width="1"/>
<text x="31.2" y="541.9" font-size="6.8" text-anchor="end" fill="#262626" dominant-baseline="central" textLength="3.21" lengthAdjust="spacingAndGlyphs" stroke="#262626" stroke-width="0.1">4</text>
<line x1="33.8" y1="529.4" x2="36.7" y2="529.4" stroke="#1a1a1a" stroke-width="1"/>
<text x="31.2" y="529.4" font-size="6.8" text-anchor="end" fill="#262626" dominant-baseline="central" textLength="3.21" lengthAdjust="spacingAndGlyphs" stroke="#262626" stroke-width="0.1">5</text>
<line x1="36.15" y1="591.9" x2="64.1" y2="591.9" stroke="#1a1a1a" stroke-width="1.2"/>
<line x1="44.7" y1="591.9" x2="44.7" y2="594.8" stroke="#1a1a1a" stroke-width="1"/>
<line x1="56.9" y1="591.9" x2="56.9" y2="594.8" stroke="#1a1a1a" stroke-width="1"/>
<line x1="44.7" y1="534.4" x2="44.7" y2="556.9" stroke="#5f80c2" stroke-width="0.75"/>
<line x1="42.7" y1="534.4" x2="46.7" y2="534.4" stroke="#5f80c2" stroke-width="0.75"/>
<line x1="42.7" y1="556.9" x2="46.7" y2="556.9" stroke="#5f80c2" stroke-width="0.75"/>
<line x1="40.7" y1="545.65" x2="48.7" y2="545.65" stroke="#5f80c2" stroke-width="1.15"/>
<circle cx="44.7" cy="534.4" r="1.75" fill="#1d3566" stroke="#0b1630" stroke-width="0.35"/>
<circle cx="44.7" cy="541.9" r="1.75" fill="#1d3566" stroke="#0b1630" stroke-width="0.35"/>
<circle cx="44.7" cy="545.65" r="1.75" fill="#1d3566" stroke="#0b1630" stroke-width="0.35"/>
<circle cx="44.7" cy="560.65" r="1.75" fill="#1d3566" stroke="#0b1630" stroke-width="0.35"/>
<line x1="56.9" y1="569.4" x2="56.9" y2="574.4" stroke="#cc5270" stroke-width="0.75"/>
<line x1="54.9" y1="569.4" x2="58.9" y2="569.4" stroke="#cc5270" stroke-width="0.75"/>
<line x1="54.9" y1="574.4" x2="58.9" y2="574.4" stroke="#cc5270" stroke-width="0.75"/>
<line x1="52.9" y1="571.27" x2="60.9" y2="571.27" stroke="#cc5270" stroke-width="1.15"/>
<circle cx="53.9" cy="570.02" r="1.75" fill="#8a1024" stroke="#3a0008" stroke-width="0.35"/>
<circle cx="56.9" cy="570.02" r="1.75" fill="#8a1024" stroke="#3a0008" stroke-width="0.35"/>
<circle cx="59.9" cy="570.4" r="1.75" fill="#8a1024" stroke="#3a0008" stroke-width="0.35"/>
<circle cx="56.9" cy="576.9" r="1.75" fill="#8a1024" stroke="#3a0008" stroke-width="0.35"/>
<line x1="44.3" y1="528.6" x2="58.5" y2="528.6" stroke="#444" stroke-width="0.9"/>
<line x1="44.3" y1="527.3" x2="44.3" y2="529.9" stroke="#222" stroke-width="1"/>
<line x1="58.5" y1="527.3" x2="58.5" y2="529.9" stroke="#222" stroke-width="1"/>
<text x="51.4" y="527.3" font-size="4.6" text-anchor="middle" fill="#333" dominant-baseline="central" stroke="#333" stroke-width="0.1">**</text>
<text x="51.2" y="601.4" font-size="6.4" text-anchor="middle" fill="#262626" dominant-baseline="central" textLength="13" lengthAdjust="spacingAndGlyphs" stroke="#262626" stroke-width="0.1">WBC</text>
<text x="18.9" y="559.3" font-size="9.3" text-anchor="middle" fill="#262626" dominant-baseline="central" textLength="15" lengthAdjust="spacingAndGlyphs" transform="rotate(-90 18.9 559.3)" stroke="#262626" stroke-width="0.1">K / μl</text>
<line x1="100.2" y1="528.7" x2="100.2" y2="592.4" stroke="#1a1a1a" stroke-width="1.2"/>
<line x1="97.3" y1="591.9" x2="100.2" y2="591.9" stroke="#1a1a1a" stroke-width="1"/>
<text x="94.4" y="591.9" font-size="6.8" text-anchor="end" fill="#262626" dominant-baseline="central" textLength="3.21" lengthAdjust="spacingAndGlyphs" stroke="#262626" stroke-width="0.1">0</text>
<line x1="97.3" y1="571.33" x2="100.2" y2="571.33" stroke="#1a1a1a" stroke-width="1"/>
<text x="94.4" y="571.33" font-size="6.8" text-anchor="end" fill="#262626" dominant-baseline="central" textLength="3.21" lengthAdjust="spacingAndGlyphs" stroke="#262626" stroke-width="0.1">5</text>
<line x1="97.3" y1="550.77" x2="100.2" y2="550.77" stroke="#1a1a1a" stroke-width="1"/>
<text x="94.4" y="550.77" font-size="6.8" text-anchor="end" fill="#262626" dominant-baseline="central" textLength="6.43" lengthAdjust="spacingAndGlyphs" stroke="#262626" stroke-width="0.1">10</text>
<line x1="97.3" y1="530.2" x2="100.2" y2="530.2" stroke="#1a1a1a" stroke-width="1"/>
<text x="94.4" y="530.2" font-size="6.8" text-anchor="end" fill="#262626" dominant-baseline="central" textLength="6.43" lengthAdjust="spacingAndGlyphs" stroke="#262626" stroke-width="0.1">15</text>
<line x1="99.65" y1="591.9" x2="127.7" y2="591.9" stroke="#1a1a1a" stroke-width="1.2"/>
<line x1="108.3" y1="591.9" x2="108.3" y2="594.8" stroke="#1a1a1a" stroke-width="1"/>
<line x1="120.4" y1="591.9" x2="120.4" y2="594.8" stroke="#1a1a1a" stroke-width="1"/>
<line x1="108.3" y1="534.73" x2="108.3" y2="554.06" stroke="#5f80c2" stroke-width="0.75"/>
<line x1="106.3" y1="534.73" x2="110.3" y2="534.73" stroke="#5f80c2" stroke-width="0.75"/>
<line x1="106.3" y1="554.06" x2="110.3" y2="554.06" stroke="#5f80c2" stroke-width="0.75"/>
<line x1="104.3" y1="544.19" x2="112.3" y2="544.19" stroke="#5f80c2" stroke-width="1.15"/>
<circle cx="105.3" cy="538.84" r="1.75" fill="#1d3566" stroke="#0b1630" stroke-width="0.35"/>
<circle cx="108.3" cy="539.66" r="1.75" fill="#1d3566" stroke="#0b1630" stroke-width="0.35"/>
<circle cx="111.3" cy="540.08" r="1.75" fill="#1d3566" stroke="#0b1630" stroke-width="0.35"/>
<circle cx="108.3" cy="559" r="1.75" fill="#1d3566" stroke="#0b1630" stroke-width="0.35"/>
<line x1="120.4" y1="540.49" x2="120.4" y2="557.76" stroke="#cc5270" stroke-width="0.75"/>
<line x1="118.4" y1="540.49" x2="122.4" y2="540.49" stroke="#cc5270" stroke-width="0.75"/>
<line x1="118.4" y1="557.76" x2="122.4" y2="557.76" stroke="#cc5270" stroke-width="0.75"/>
<line x1="116.4" y1="549.12" x2="124.4" y2="549.12" stroke="#cc5270" stroke-width="1.15"/>
<circle cx="120.4" cy="540.49" r="1.75" fill="#8a1024" stroke="#3a0008" stroke-width="0.35"/>
<circle cx="117.4" cy="546.66" r="1.75" fill="#8a1024" stroke="#3a0008" stroke-width="0.35"/>
<circle cx="123.9" cy="547.89" r="1.75" fill="#8a1024" stroke="#3a0008" stroke-width="0.35"/>
<circle cx="120.4" cy="561.46" r="1.75" fill="#8a1024" stroke="#3a0008" stroke-width="0.35"/>
<text x="114" y="601.4" font-size="6.4" text-anchor="middle" fill="#262626" dominant-baseline="central" textLength="7.7" lengthAdjust="spacingAndGlyphs" stroke="#262626" stroke-width="0.1">HB</text>
<text x="79.9" y="559.3" font-size="9.3" text-anchor="middle" fill="#262626" dominant-baseline="central" textLength="14.9" lengthAdjust="spacingAndGlyphs" transform="rotate(-90 79.9 559.3)" stroke="#262626" stroke-width="0.1">g / dL</text>
<line x1="170.1" y1="529" x2="170.1" y2="592.4" stroke="#1a1a1a" stroke-width="1.2"/>
<line x1="167.2" y1="591.9" x2="170.1" y2="591.9" stroke="#1a1a1a" stroke-width="1"/>
<text x="164.3" y="591.9" font-size="6.8" text-anchor="end" fill="#262626" dominant-baseline="central" textLength="3.21" lengthAdjust="spacingAndGlyphs" stroke="#262626" stroke-width="0.1">0</text>
<line x1="167.2" y1="579.62" x2="170.1" y2="579.62" stroke="#1a1a1a" stroke-width="1"/>
<text x="164.3" y="579.62" font-size="6.8" text-anchor="end" fill="#262626" dominant-baseline="central" textLength="9.64" lengthAdjust="spacingAndGlyphs" stroke="#262626" stroke-width="0.1">200</text>
<line x1="167.2" y1="567.34" x2="170.1" y2="567.34" stroke="#1a1a1a" stroke-width="1"/>
<text x="164.3" y="567.34" font-size="6.8" text-anchor="end" fill="#262626" dominant-baseline="central" textLength="9.64" lengthAdjust="spacingAndGlyphs" stroke="#262626" stroke-width="0.1">400</text>
<line x1="167.2" y1="555.06" x2="170.1" y2="555.06" stroke="#1a1a1a" stroke-width="1"/>
<text x="164.3" y="555.06" font-size="6.8" text-anchor="end" fill="#262626" dominant-baseline="central" textLength="9.64" lengthAdjust="spacingAndGlyphs" stroke="#262626" stroke-width="0.1">600</text>
<line x1="167.2" y1="542.78" x2="170.1" y2="542.78" stroke="#1a1a1a" stroke-width="1"/>
<text x="164.3" y="542.78" font-size="6.8" text-anchor="end" fill="#262626" dominant-baseline="central" textLength="9.64" lengthAdjust="spacingAndGlyphs" stroke="#262626" stroke-width="0.1">800</text>
<line x1="167.2" y1="530.5" x2="170.1" y2="530.5" stroke="#1a1a1a" stroke-width="1"/>
<text x="164.3" y="530.5" font-size="6.8" text-anchor="end" fill="#262626" dominant-baseline="central" textLength="12.86" lengthAdjust="spacingAndGlyphs" stroke="#262626" stroke-width="0.1">1000</text>
<line x1="169.55" y1="591.9" x2="197.7" y2="591.9" stroke="#1a1a1a" stroke-width="1.2"/>
<line x1="178.2" y1="591.9" x2="178.2" y2="594.8" stroke="#1a1a1a" stroke-width="1"/>
<line x1="190.3" y1="591.9" x2="190.3" y2="594.8" stroke="#1a1a1a" stroke-width="1"/>
<line x1="178.2" y1="559.97" x2="178.2" y2="567.34" stroke="#5f80c2" stroke-width="0.75"/>
<line x1="176.2" y1="559.97" x2="180.2" y2="559.97" stroke="#5f80c2" stroke-width="0.75"/>
<line x1="176.2" y1="567.34" x2="180.2" y2="567.34" stroke="#5f80c2" stroke-width="0.75"/>
<line x1="174.2" y1="563.96" x2="182.2" y2="563.96" stroke="#5f80c2" stroke-width="1.15"/>
<circle cx="178.2" cy="558.13" r="1.75" fill="#1d3566" stroke="#0b1630" stroke-width="0.35"/>
<circle cx="174.7" cy="563.66" r="1.75" fill="#1d3566" stroke="#0b1630" stroke-width="0.35"/>
<circle cx="181.7" cy="564.27" r="1.75" fill="#1d3566" stroke="#0b1630" stroke-width="0.35"/>
<circle cx="178.2" cy="568.57" r="1.75" fill="#1d3566" stroke="#0b1630" stroke-width="0.35"/>
<line x1="190.3" y1="537.87" x2="190.3" y2="553.83" stroke="#cc5270" stroke-width="0.75"/>
<line x1="188.3" y1="537.87" x2="192.3" y2="537.87" stroke="#cc5270" stroke-width="0.75"/>
<line x1="188.3" y1="553.83" x2="192.3" y2="553.83" stroke="#cc5270" stroke-width="0.75"/>
<line x1="186.3" y1="545.24" x2="194.3" y2="545.24" stroke="#cc5270" stroke-width="1.15"/>
<circle cx="186.8" cy="539.71" r="1.75" fill="#8a1024" stroke="#3a0008" stroke-width="0.35"/>
<circle cx="193.8" cy="539.71" r="1.75" fill="#8a1024" stroke="#3a0008" stroke-width="0.35"/>
<circle cx="190.3" cy="545.24" r="1.75" fill="#8a1024" stroke="#3a0008" stroke-width="0.35"/>
<circle cx="190.3" cy="557.52" r="1.75" fill="#8a1024" stroke="#3a0008" stroke-width="0.35"/>
<line x1="177.5" y1="531" x2="191.9" y2="531" stroke="#444" stroke-width="0.9"/>
<line x1="177.5" y1="529.7" x2="177.5" y2="532.3" stroke="#222" stroke-width="1"/>
<line x1="191.9" y1="529.7" x2="191.9" y2="532.3" stroke="#222" stroke-width="1"/>
<text x="184.7" y="529.7" font-size="4.6" text-anchor="middle" fill="#333" dominant-baseline="central" stroke="#333" stroke-width="0.1">**</text>
<text x="184.3" y="601.4" font-size="6.4" text-anchor="middle" fill="#262626" dominant-baseline="central" textLength="8.7" lengthAdjust="spacingAndGlyphs" stroke="#262626" stroke-width="0.1">PLT</text>
<text x="142.6" y="559.3" font-size="9.3" text-anchor="middle" fill="#262626" dominant-baseline="central" textLength="11.1" lengthAdjust="spacingAndGlyphs" transform="rotate(-90 142.6 559.3)" stroke="#262626" stroke-width="0.1">K/ul</text>
<line x1="246.2" y1="529.2" x2="246.2" y2="592.4" stroke="#1a1a1a" stroke-width="1.2"/>
<line x1="243.3" y1="591.9" x2="246.2" y2="591.9" stroke="#1a1a1a" stroke-width="1"/>
<text x="237.6" y="591.9" font-size="6.8" text-anchor="end" fill="#262626" dominant-baseline="central" textLength="0" lengthAdjust="spacingAndGlyphs" stroke="#262626" stroke-width="0.1"></text>
<line x1="243.3" y1="579.66" x2="246.2" y2="579.66" stroke="#1a1a1a" stroke-width="1"/>
<text x="237.6" y="579.66" font-size="6.8" text-anchor="end" fill="#262626" dominant-baseline="central" textLength="17.35" lengthAdjust="spacingAndGlyphs" stroke="#262626" stroke-width="0.1">5.0x10</text>
<line x1="243.3" y1="567.42" x2="246.2" y2="567.42" stroke="#1a1a1a" stroke-width="1"/>
<text x="237.6" y="567.42" font-size="6.8" text-anchor="end" fill="#262626" dominant-baseline="central" textLength="17.35" lengthAdjust="spacingAndGlyphs" stroke="#262626" stroke-width="0.1">1.0x10</text>
<line x1="243.3" y1="555.18" x2="246.2" y2="555.18" stroke="#1a1a1a" stroke-width="1"/>
<text x="237.6" y="555.18" font-size="6.8" text-anchor="end" fill="#262626" dominant-baseline="central" textLength="17.35" lengthAdjust="spacingAndGlyphs" stroke="#262626" stroke-width="0.1">1.5x10</text>
<line x1="243.3" y1="542.94" x2="246.2" y2="542.94" stroke="#1a1a1a" stroke-width="1"/>
<text x="237.6" y="542.94" font-size="6.8" text-anchor="end" fill="#262626" dominant-baseline="central" textLength="17.35" lengthAdjust="spacingAndGlyphs" stroke="#262626" stroke-width="0.1">2.0x10</text>
<line x1="243.3" y1="530.7" x2="246.2" y2="530.7" stroke="#1a1a1a" stroke-width="1"/>
<text x="237.6" y="530.7" font-size="6.8" text-anchor="end" fill="#262626" dominant-baseline="central" textLength="17.35" lengthAdjust="spacingAndGlyphs" stroke="#262626" stroke-width="0.1">2.5x10</text>
<line x1="245.65" y1="591.9" x2="276.1" y2="591.9" stroke="#1a1a1a" stroke-width="1.2"/>
<line x1="255.9" y1="591.9" x2="255.9" y2="594.8" stroke="#1a1a1a" stroke-width="1"/>
<line x1="270.5" y1="591.9" x2="270.5" y2="594.8" stroke="#1a1a1a" stroke-width="1"/>
<line x1="255.9" y1="558.12" x2="255.9" y2="580.39" stroke="#5f80c2" stroke-width="0.75"/>
<line x1="253.9" y1="558.12" x2="257.9" y2="558.12" stroke="#5f80c2" stroke-width="0.75"/>
<line x1="253.9" y1="580.39" x2="257.9" y2="580.39" stroke="#5f80c2" stroke-width="0.75"/>
<line x1="251.9" y1="569.38" x2="259.9" y2="569.38" stroke="#5f80c2" stroke-width="1.15"/>
<circle cx="255.9" cy="556.4" r="1.75" fill="#1d3566" stroke="#0b1630" stroke-width="0.35"/>
<circle cx="255.9" cy="567.42" r="1.75" fill="#1d3566" stroke="#0b1630" stroke-width="0.35"/>
<circle cx="255.9" cy="571.09" r="1.75" fill="#1d3566" stroke="#0b1630" stroke-width="0.35"/>
<circle cx="255.9" cy="582.11" r="1.75" fill="#1d3566" stroke="#0b1630" stroke-width="0.35"/>
<line x1="270.5" y1="539.27" x2="270.5" y2="548.33" stroke="#cc5270" stroke-width="0.75"/>
<line x1="268.5" y1="539.27" x2="272.5" y2="539.27" stroke="#cc5270" stroke-width="0.75"/>
<line x1="268.5" y1="548.33" x2="272.5" y2="548.33" stroke="#cc5270" stroke-width="0.75"/>
<line x1="266.5" y1="544.16" x2="274.5" y2="544.16" stroke="#cc5270" stroke-width="1.15"/>
<circle cx="270.5" cy="536.82" r="1.75" fill="#8a1024" stroke="#3a0008" stroke-width="0.35"/>
<circle cx="266.5" cy="546.61" r="1.75" fill="#8a1024" stroke="#3a0008" stroke-width="0.35"/>
<circle cx="270.5" cy="546.12" r="1.75" fill="#8a1024" stroke="#3a0008" stroke-width="0.35"/>
<circle cx="274.5" cy="545.39" r="1.75" fill="#8a1024" stroke="#3a0008" stroke-width="0.35"/>
<line x1="254.3" y1="529.9" x2="270.9" y2="529.9" stroke="#444" stroke-width="0.9"/>
<line x1="254.3" y1="528.6" x2="254.3" y2="531.2" stroke="#222" stroke-width="1"/>
<line x1="270.9" y1="528.6" x2="270.9" y2="531.2" stroke="#222" stroke-width="1"/>
<text x="262.6" y="528.6" font-size="4.6" text-anchor="middle" fill="#333" dominant-baseline="central" stroke="#333" stroke-width="0.1">**</text>
<text x="262.9" y="601.4" font-size="6" text-anchor="middle" fill="#262626" dominant-baseline="central" textLength="34.7" lengthAdjust="spacingAndGlyphs" stroke="#262626" stroke-width="0.1">bone marrow</text>
<text x="212.6" y="559.3" font-size="9.3" text-anchor="middle" fill="#262626" dominant-baseline="central" textLength="37.3" lengthAdjust="spacingAndGlyphs" transform="rotate(-90 212.6 559.3)" stroke="#262626" stroke-width="0.1">CD11b (MFI)</text>
<text x="238" y="577.26" font-size="3.4" text-anchor="start" fill="#262626" dominant-baseline="central" stroke="#262626" stroke-width="0.05">3</text>
<text x="238" y="565.02" font-size="3.4" text-anchor="start" fill="#262626" dominant-baseline="central" stroke="#262626" stroke-width="0.05">4</text>
<text x="238" y="552.78" font-size="3.4" text-anchor="start" fill="#262626" dominant-baseline="central" stroke="#262626" stroke-width="0.05">4</text>
<text x="238" y="540.54" font-size="3.4" text-anchor="start" fill="#262626" dominant-baseline="central" stroke="#262626" stroke-width="0.05">4</text>
<text x="238" y="528.3" font-size="3.4" text-anchor="start" fill="#262626" dominant-baseline="central" stroke="#262626" stroke-width="0.05">4</text>
<text x="262.9" y="607.9" font-size="6" text-anchor="middle" fill="#262626" dominant-baseline="central" textLength="28.3" lengthAdjust="spacingAndGlyphs" stroke="#262626" stroke-width="0.1">(4 weeeks)</text>
<text x="240.5" y="591.9" font-size="6.8" text-anchor="end" fill="#262626" dominant-baseline="central" textLength="8.04" lengthAdjust="spacingAndGlyphs" stroke="#262626" stroke-width="0.1">0.0</text>
<text x="337" y="519.3" font-size="6.5" text-anchor="middle" fill="#333" dominant-baseline="central" textLength="18.4" lengthAdjust="spacingAndGlyphs" stroke="#333" stroke-width="0.05">MEIS1:</text>
<line x1="327.8" y1="521.8" x2="346.2" y2="521.8" stroke="#333" stroke-width="0.5"/>
<line x1="320.9" y1="527.9" x2="320.9" y2="592.4" stroke="#1a1a1a" stroke-width="1.2"/>
<line x1="318" y1="591.9" x2="320.9" y2="591.9" stroke="#1a1a1a" stroke-width="1"/>
<text x="315.6" y="591.9" font-size="6.8" text-anchor="end" fill="#262626" dominant-baseline="central" textLength="11.25" lengthAdjust="spacingAndGlyphs" stroke="#262626" stroke-width="0.1">0.00</text>
<line x1="318" y1="576.27" x2="320.9" y2="576.27" stroke="#1a1a1a" stroke-width="1"/>
<text x="315.6" y="576.27" font-size="6.8" text-anchor="end" fill="#262626" dominant-baseline="central" textLength="11.25" lengthAdjust="spacingAndGlyphs" stroke="#262626" stroke-width="0.1">0.01</text>
<line x1="318" y1="560.65" x2="320.9" y2="560.65" stroke="#1a1a1a" stroke-width="1"/>
<text x="315.6" y="560.65" font-size="6.8" text-anchor="end" fill="#262626" dominant-baseline="central" textLength="11.25" lengthAdjust="spacingAndGlyphs" stroke="#262626" stroke-width="0.1">0.02</text>
<line x1="318" y1="545.02" x2="320.9" y2="545.02" stroke="#1a1a1a" stroke-width="1"/>
<text x="315.6" y="545.02" font-size="6.8" text-anchor="end" fill="#262626" dominant-baseline="central" textLength="11.25" lengthAdjust="spacingAndGlyphs" stroke="#262626" stroke-width="0.1">0.03</text>
<line x1="318" y1="529.4" x2="320.9" y2="529.4" stroke="#1a1a1a" stroke-width="1"/>
<text x="315.6" y="529.4" font-size="6.8" text-anchor="end" fill="#262626" dominant-baseline="central" textLength="11.25" lengthAdjust="spacingAndGlyphs" stroke="#262626" stroke-width="0.1">0.04</text>
<line x1="320.35" y1="591.9" x2="352.1" y2="591.9" stroke="#1a1a1a" stroke-width="1.2"/>
<line x1="330.3" y1="591.9" x2="330.3" y2="594.8" stroke="#1a1a1a" stroke-width="1"/>
<line x1="343.5" y1="591.9" x2="343.5" y2="594.8" stroke="#1a1a1a" stroke-width="1"/>
<line x1="330.3" y1="545.02" x2="330.3" y2="549.71" stroke="#5f80c2" stroke-width="0.75"/>
<line x1="328.3" y1="545.02" x2="332.3" y2="545.02" stroke="#5f80c2" stroke-width="0.75"/>
<line x1="328.3" y1="549.71" x2="332.3" y2="549.71" stroke="#5f80c2" stroke-width="0.75"/>
<line x1="326.3" y1="547.37" x2="334.3" y2="547.37" stroke="#5f80c2" stroke-width="1.15"/>
<circle cx="333.3" cy="541.9" r="1.75" fill="#1d3566" stroke="#0b1630" stroke-width="0.35"/>
<circle cx="326.8" cy="543.46" r="1.75" fill="#1d3566" stroke="#0b1630" stroke-width="0.35"/>
<circle cx="327.3" cy="551.27" r="1.75" fill="#1d3566" stroke="#0b1630" stroke-width="0.35"/>
<circle cx="333.3" cy="551.27" r="1.75" fill="#1d3566" stroke="#0b1630" stroke-width="0.35"/>
<line x1="343.5" y1="572.84" x2="343.5" y2="575.96" stroke="#cc5270" stroke-width="0.75"/>
<line x1="341.5" y1="572.84" x2="345.5" y2="572.84" stroke="#cc5270" stroke-width="0.75"/>
<line x1="341.5" y1="575.96" x2="345.5" y2="575.96" stroke="#cc5270" stroke-width="0.75"/>
<line x1="339.5" y1="574.4" x2="347.5" y2="574.4" stroke="#cc5270" stroke-width="1.15"/>
<circle cx="346.5" cy="571.59" r="1.75" fill="#8a1024" stroke="#3a0008" stroke-width="0.35"/>
<circle cx="341" cy="575.02" r="1.75" fill="#8a1024" stroke="#3a0008" stroke-width="0.35"/>
<circle cx="344" cy="574.71" r="1.75" fill="#8a1024" stroke="#3a0008" stroke-width="0.35"/>
<circle cx="340" cy="576.27" r="1.75" fill="#8a1024" stroke="#3a0008" stroke-width="0.35"/>
<line x1="330.3" y1="535.9" x2="342.9" y2="535.9" stroke="#444" stroke-width="0.9"/>
<line x1="330.3" y1="534.6" x2="330.3" y2="537.2" stroke="#222" stroke-width="1"/>
<line x1="342.9" y1="534.6" x2="342.9" y2="537.2" stroke="#222" stroke-width="1"/>
<text x="336.6" y="534.6" font-size="4.6" text-anchor="middle" fill="#333" dominant-baseline="central" stroke="#333" stroke-width="0.1">****</text>
<text x="336.7" y="601.4" font-size="6.4" text-anchor="middle" fill="#262626" dominant-baseline="central" textLength="32" lengthAdjust="spacingAndGlyphs" stroke="#262626" stroke-width="0.1">PBMC (d14)</text>
<text x="295" y="559.3" font-size="9.3" text-anchor="middle" fill="#262626" dominant-baseline="central" textLength="67.8" lengthAdjust="spacingAndGlyphs" transform="rotate(-90 295 559.3)" stroke="#262626" stroke-width="0.1">Gene expression (ddCT)</text>
<text x="396.2" y="519.3" font-size="6.5" text-anchor="middle" fill="#333" dominant-baseline="central" textLength="24.7" lengthAdjust="spacingAndGlyphs" stroke="#333" stroke-width="0.05">HOXA10:</text>
<line x1="383.85" y1="521.8" x2="408.55" y2="521.8" stroke="#333" stroke-width="0.5"/>
<line x1="380.5" y1="527.89" x2="380.5" y2="592.4" stroke="#1a1a1a" stroke-width="1.2"/>
<line x1="377.6" y1="591.9" x2="380.5" y2="591.9" stroke="#1a1a1a" stroke-width="1"/>
<text x="374.3" y="591.9" font-size="6.8" text-anchor="end" fill="#262626" dominant-baseline="central" textLength="11.25" lengthAdjust="spacingAndGlyphs" stroke="#262626" stroke-width="0.1">0.00</text>
<line x1="377.6" y1="571.06" x2="380.5" y2="571.06" stroke="#1a1a1a" stroke-width="1"/>
<text x="374.3" y="571.06" font-size="6.8" text-anchor="end" fill="#262626" dominant-baseline="central" textLength="11.25" lengthAdjust="spacingAndGlyphs" stroke="#262626" stroke-width="0.1">0.05</text>
<line x1="377.6" y1="550.23" x2="380.5" y2="550.23" stroke="#1a1a1a" stroke-width="1"/>
<text x="374.3" y="550.23" font-size="6.8" text-anchor="end" fill="#262626" dominant-baseline="central" textLength="11.25" lengthAdjust="spacingAndGlyphs" stroke="#262626" stroke-width="0.1">0.10</text>
<line x1="377.6" y1="529.39" x2="380.5" y2="529.39" stroke="#1a1a1a" stroke-width="1"/>
<text x="374.3" y="529.39" font-size="6.8" text-anchor="end" fill="#262626" dominant-baseline="central" textLength="11.25" lengthAdjust="spacingAndGlyphs" stroke="#262626" stroke-width="0.1">0.15</text>
<line x1="379.95" y1="591.9" x2="411.6" y2="591.9" stroke="#1a1a1a" stroke-width="1.2"/>
<line x1="389.3" y1="591.9" x2="389.3" y2="594.8" stroke="#1a1a1a" stroke-width="1"/>
<line x1="403" y1="591.9" x2="403" y2="594.8" stroke="#1a1a1a" stroke-width="1"/>
<line x1="389.3" y1="543.15" x2="389.3" y2="549.81" stroke="#5f80c2" stroke-width="0.75"/>
<line x1="387.3" y1="543.15" x2="391.3" y2="543.15" stroke="#5f80c2" stroke-width="0.75"/>
<line x1="387.3" y1="549.81" x2="391.3" y2="549.81" stroke="#5f80c2" stroke-width="0.75"/>
<line x1="385.3" y1="546.48" x2="393.3" y2="546.48" stroke="#5f80c2" stroke-width="1.15"/>
<circle cx="389.3" cy="539.81" r="1.75" fill="#1d3566" stroke="#0b1630" stroke-width="0.35"/>
<circle cx="389.3" cy="543.15" r="1.75" fill="#1d3566" stroke="#0b1630" stroke-width="0.35"/>
<circle cx="385.3" cy="550.23" r="1.75" fill="#1d3566" stroke="#0b1630" stroke-width="0.35"/>
<circle cx="393.3" cy="549.4" r="1.75" fill="#1d3566" stroke="#0b1630" stroke-width="0.35"/>
<line x1="403" y1="570.23" x2="403" y2="575.23" stroke="#cc5270" stroke-width="0.75"/>
<line x1="401" y1="570.23" x2="405" y2="570.23" stroke="#cc5270" stroke-width="0.75"/>
<line x1="401" y1="575.23" x2="405" y2="575.23" stroke="#cc5270" stroke-width="0.75"/>
<line x1="399" y1="572.73" x2="407" y2="572.73" stroke="#cc5270" stroke-width="1.15"/>
<circle cx="403" cy="566.9" r="1.75" fill="#8a1024" stroke="#3a0008" stroke-width="0.35"/>
<circle cx="398.5" cy="576.07" r="1.75" fill="#8a1024" stroke="#3a0008" stroke-width="0.35"/>
<circle cx="403" cy="574.82" r="1.75" fill="#8a1024" stroke="#3a0008" stroke-width="0.35"/>
<circle cx="407.5" cy="575.23" r="1.75" fill="#8a1024" stroke="#3a0008" stroke-width="0.35"/>
<line x1="389.3" y1="535.1" x2="404.6" y2="535.1" stroke="#444" stroke-width="0.9"/>
<line x1="389.3" y1="533.8" x2="389.3" y2="536.4" stroke="#222" stroke-width="1"/>
<line x1="404.6" y1="533.8" x2="404.6" y2="536.4" stroke="#222" stroke-width="1"/>
<text x="396.95" y="533.8" font-size="4.6" text-anchor="middle" fill="#333" dominant-baseline="central" stroke="#333" stroke-width="0.1">***</text>
<text x="396.2" y="601.4" font-size="6.4" text-anchor="middle" fill="#262626" dominant-baseline="central" textLength="32" lengthAdjust="spacingAndGlyphs" stroke="#262626" stroke-width="0.1">PBMC (d14)</text>
<text x="444.9" y="541.8" font-size="6" text-anchor="start" fill="#333" dominant-baseline="central" textLength="18" lengthAdjust="spacingAndGlyphs" transform="rotate(-90 444.9 541.8)" stroke="#333" stroke-width="0.03">vehicle</text>
<text x="474.4" y="541.8" font-size="6" text-anchor="start" fill="#333" dominant-baseline="central" textLength="22.8" lengthAdjust="spacingAndGlyphs" transform="rotate(-90 474.4 541.8)" stroke="#333" stroke-width="0.03">comp.10</text>
<line x1="434" y1="545.6" x2="456.5" y2="545.6" stroke="#222" stroke-width="1"/>
<line x1="463.4" y1="545.6" x2="485.9" y2="545.6" stroke="#222" stroke-width="1"/>
<rect x="429.3" y="549.0" width="61.8" height="18.3" fill="url(#blotbg)" stroke="#999" stroke-width="0.7"/>
<rect x="429.3" y="571.1" width="61.8" height="19.7" fill="url(#blotbg)" stroke="#999" stroke-width="0.7"/>
<g filter="url(#blur1)">
<rect x="433.5" y="557.7" width="11.5" height="4.3" rx="2" fill="#000"/>
<rect x="448" y="557.7" width="10.6" height="4.3" rx="2" fill="#000"/>
<rect x="462.5" y="558.8" width="11" height="2.8" rx="2" fill="#999"/>
<rect x="477.5" y="558.2" width="10.7" height="3.4" rx="2" fill="#959595"/>
<rect x="433" y="578.2" width="11.8" height="5" rx="2" fill="#000"/>
<rect x="448" y="578" width="10.6" height="5.3" rx="2" fill="#000"/>
<rect x="461.5" y="578.3" width="11.7" height="4.7" rx="2" fill="#000"/>
<rect x="477" y="579" width="10.6" height="3.6" rx="2" fill="#1a1a1a"/>
</g>
<text x="494" y="553.9" font-size="5.7" text-anchor="start" fill="#333" dominant-baseline="central" textLength="17.6" lengthAdjust="spacingAndGlyphs" stroke="#333" stroke-width="0.03">H3K79</text>
<text x="494" y="562.6" font-size="5.9" text-anchor="start" fill="#333" dominant-baseline="central" textLength="11.5" lengthAdjust="spacingAndGlyphs" stroke="#333" stroke-width="0.03">me2</text>
<text x="494" y="581.1" font-size="5.7" text-anchor="start" fill="#333" dominant-baseline="central" textLength="7.4" lengthAdjust="spacingAndGlyphs" stroke="#333" stroke-width="0.03">H3</text>
</svg>
</body></html>
